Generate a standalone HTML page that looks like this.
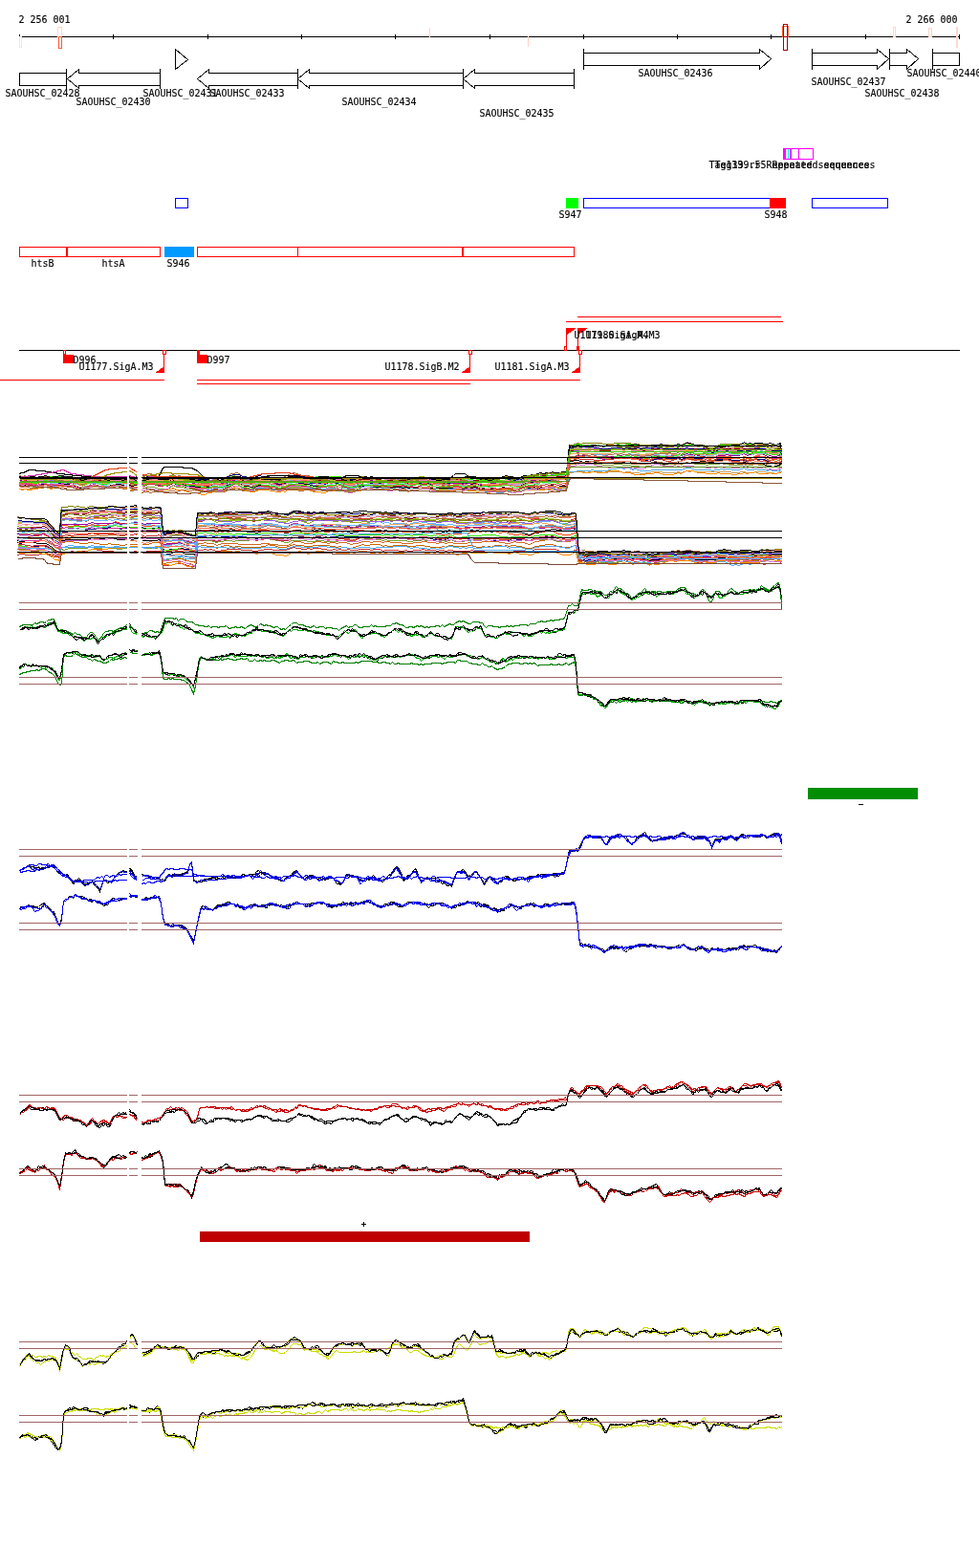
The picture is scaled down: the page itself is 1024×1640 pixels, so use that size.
<!DOCTYPE html>
<html><head><meta charset="utf-8"><style>
html,body{margin:0;padding:0;background:#fff;}
svg{display:block}
text{font-family:"DejaVu Sans Mono","Liberation Mono",monospace;font-size:11px;stroke:currentColor;stroke-width:.15px;}
</style></head><body>
<svg width="1024" height="1640" viewBox="0 0 1024 1640" shape-rendering="crispEdges">
<rect width="1024" height="1640" fill="#fff"/>
<rect x="20" y="38" width="984" height="1" fill="#000"/>
<rect x="20" y="36" width="1" height="5" fill="#000"/>
<rect x="118" y="36" width="1" height="5" fill="#000"/>
<rect x="217" y="36" width="1" height="5" fill="#000"/>
<rect x="315" y="36" width="1" height="5" fill="#000"/>
<rect x="413" y="36" width="1" height="5" fill="#000"/>
<rect x="512" y="36" width="1" height="5" fill="#000"/>
<rect x="610" y="36" width="1" height="5" fill="#000"/>
<rect x="708" y="36" width="1" height="5" fill="#000"/>
<rect x="806" y="36" width="1" height="5" fill="#000"/>
<rect x="905" y="36" width="1" height="5" fill="#000"/>
<rect x="1003" y="36" width="1" height="5" fill="#000"/>
<rect x="20.5" y="38.5" width="2" height="11" fill="none" stroke="#ffe0d8"/>
<rect x="60.5" y="28.5" width="4" height="10" fill="none" stroke="#ffd8c8"/>
<rect x="61.5" y="38.5" width="3" height="12" fill="none" stroke="#ff5a30"/>
<rect x="449" y="29" width="1" height="10" fill="#ffd4c4"/>
<rect x="552" y="38" width="1" height="11" fill="#ffd4c4"/>
<rect x="818.5" y="27.5" width="6" height="11" fill="none" stroke="#ff5a30"/>
<rect x="819.5" y="25.5" width="4" height="27" fill="none" stroke="#a8000c"/>
<rect x="819" y="38" width="5" height="1" fill="#a8000c"/>
<rect x="934.5" y="28.5" width="2" height="10" fill="none" stroke="#ffd4c8"/>
<rect x="971.5" y="29.5" width="3" height="9" fill="none" stroke="#ffd4c8"/>
<rect x="1000" y="28" width="2" height="22" fill="#ffd8cc"/>
<text x="19.5" y="24" textLength="54" lengthAdjust="spacingAndGlyphs" fill="#000">2 256 001</text>
<text x="947.5" y="24" textLength="54" lengthAdjust="spacingAndGlyphs" fill="#000">2 266 000</text>
<rect x="20" y="76" width="50" height="1" fill="#000"/>
<rect x="20" y="89" width="50" height="1" fill="#000"/>
<rect x="20" y="76" width="1" height="14" fill="#000"/>
<rect x="69" y="72" width="1" height="21" fill="#000"/>
<path d="M82.5,72.5 L70.5,82.5 L82.5,92.5" fill="none" stroke="#000"/>
<rect x="82" y="72" width="1" height="5" fill="#000"/>
<rect x="82" y="89" width="1" height="4" fill="#000"/>
<rect x="82" y="76" width="86" height="1" fill="#000"/>
<rect x="82" y="89" width="86" height="1" fill="#000"/>
<rect x="167" y="72" width="1" height="21" fill="#000"/>
<path d="M183.5,51.5 L196.5,62.5 L183.5,72.5 Z" fill="none" stroke="#000"/>
<rect x="183" y="51" width="1" height="22" fill="#000"/>
<path d="M218.5,72.5 L206.5,82.5 L218.5,92.5" fill="none" stroke="#000"/>
<rect x="218" y="72" width="1" height="5" fill="#000"/>
<rect x="218" y="89" width="1" height="4" fill="#000"/>
<rect x="218" y="76" width="94" height="1" fill="#000"/>
<rect x="218" y="89" width="94" height="1" fill="#000"/>
<rect x="311" y="72" width="1" height="21" fill="#000"/>
<path d="M323.5,72.5 L311.5,82.5 L323.5,92.5" fill="none" stroke="#000"/>
<rect x="323" y="72" width="1" height="5" fill="#000"/>
<rect x="323" y="89" width="1" height="4" fill="#000"/>
<rect x="323" y="76" width="162" height="1" fill="#000"/>
<rect x="323" y="89" width="162" height="1" fill="#000"/>
<rect x="484" y="72" width="1" height="21" fill="#000"/>
<path d="M496.5,72.5 L484.5,82.5 L496.5,92.5" fill="none" stroke="#000"/>
<rect x="496" y="72" width="1" height="5" fill="#000"/>
<rect x="496" y="89" width="1" height="4" fill="#000"/>
<rect x="496" y="76" width="105" height="1" fill="#000"/>
<rect x="496" y="89" width="105" height="1" fill="#000"/>
<rect x="600" y="72" width="1" height="21" fill="#000"/>
<path d="M794.5,51.5 L806.5,61.5 L794.5,72.5" fill="none" stroke="#000"/>
<rect x="794" y="51" width="1" height="5" fill="#000"/>
<rect x="794" y="68" width="1" height="5" fill="#000"/>
<rect x="610" y="55" width="185" height="1" fill="#000"/>
<rect x="610" y="68" width="185" height="1" fill="#000"/>
<rect x="610" y="51" width="1" height="22" fill="#000"/>
<path d="M917.5,51.5 L929.5,61.5 L917.5,72.5" fill="none" stroke="#000"/>
<rect x="917" y="51" width="1" height="5" fill="#000"/>
<rect x="917" y="68" width="1" height="5" fill="#000"/>
<rect x="849" y="55" width="69" height="1" fill="#000"/>
<rect x="849" y="68" width="69" height="1" fill="#000"/>
<rect x="849" y="51" width="1" height="22" fill="#000"/>
<path d="M948.5,51.5 L960.5,61.5 L948.5,72.5" fill="none" stroke="#000"/>
<rect x="948" y="51" width="1" height="5" fill="#000"/>
<rect x="948" y="68" width="1" height="5" fill="#000"/>
<rect x="930" y="55" width="19" height="1" fill="#000"/>
<rect x="930" y="68" width="19" height="1" fill="#000"/>
<rect x="930" y="51" width="1" height="22" fill="#000"/>
<rect x="975" y="51" width="1" height="22" fill="#000"/>
<rect x="975" y="55" width="29" height="1" fill="#000"/>
<rect x="975" y="68" width="29" height="1" fill="#000"/>
<rect x="1003" y="55" width="1" height="14" fill="#000"/>
<text x="5.5" y="101" textLength="78" lengthAdjust="spacingAndGlyphs" fill="#000">SAOUHSC_02428</text>
<text x="79.5" y="110" textLength="78" lengthAdjust="spacingAndGlyphs" fill="#000">SAOUHSC_02430</text>
<text x="149.5" y="101" textLength="78" lengthAdjust="spacingAndGlyphs" fill="#000">SAOUHSC_02431</text>
<text x="219.5" y="101" textLength="78" lengthAdjust="spacingAndGlyphs" fill="#000">SAOUHSC_02433</text>
<text x="357.5" y="110" textLength="78" lengthAdjust="spacingAndGlyphs" fill="#000">SAOUHSC_02434</text>
<text x="501.5" y="122" textLength="78" lengthAdjust="spacingAndGlyphs" fill="#000">SAOUHSC_02435</text>
<text x="667.5" y="80" textLength="78" lengthAdjust="spacingAndGlyphs" fill="#000">SAOUHSC_02436</text>
<text x="848.5" y="89" textLength="78" lengthAdjust="spacingAndGlyphs" fill="#000">SAOUHSC_02437</text>
<text x="904.5" y="101" textLength="78" lengthAdjust="spacingAndGlyphs" fill="#000">SAOUHSC_02438</text>
<text x="948.5" y="80" textLength="78" lengthAdjust="spacingAndGlyphs" fill="#000">SAOUHSC_02440</text>
<rect x="819.5" y="155.5" width="31" height="11" fill="none" stroke="#ff00ff"/>
<rect x="819" y="155" width="3" height="12" fill="#ff00ff"/>
<rect x="824" y="156" width="1" height="10" fill="#00e8f0"/>
<rect x="826" y="155" width="2" height="12" fill="#ff00ff"/>
<rect x="835" y="155" width="1" height="12" fill="#ff00ff"/>
<text x="741.5" y="176" textLength="168" lengthAdjust="spacingAndGlyphs" fill="#000">Tag139.r5 Repeated sequences</text>
<text x="747.5" y="176" textLength="168" lengthAdjust="spacingAndGlyphs" fill="#000">Teg139.r5 Repeated sequences</text>
<rect x="183.5" y="207.5" width="13" height="10" fill="none" stroke="#0000ff"/>
<rect x="592" y="207" width="13" height="11" fill="#00ff00"/>
<rect x="610.5" y="207.5" width="211" height="10" fill="none" stroke="#0000ff"/>
<rect x="805" y="207" width="17" height="11" fill="#ff0000"/>
<rect x="849.5" y="207.5" width="79" height="10" fill="none" stroke="#0000ff"/>
<text x="584.5" y="228" textLength="24" lengthAdjust="spacingAndGlyphs" fill="#000">S947</text>
<text x="799.5" y="228" textLength="24" lengthAdjust="spacingAndGlyphs" fill="#000">S948</text>
<rect x="20.5" y="258.5" width="49" height="10" fill="none" stroke="#ff0000"/>
<rect x="70.5" y="258.5" width="97" height="10" fill="none" stroke="#ff0000"/>
<rect x="206.5" y="258.5" width="105" height="10" fill="none" stroke="#ff0000"/>
<rect x="311.5" y="258.5" width="172" height="10" fill="none" stroke="#ff0000"/>
<rect x="484.5" y="258.5" width="116" height="10" fill="none" stroke="#ff0000"/>
<rect x="172" y="258" width="31" height="11" fill="#0099ff"/>
<text x="32.5" y="279" textLength="24" lengthAdjust="spacingAndGlyphs" fill="#000">htsB</text>
<text x="106.5" y="279" textLength="24" lengthAdjust="spacingAndGlyphs" fill="#000">htsA</text>
<text x="174.5" y="279" textLength="24" lengthAdjust="spacingAndGlyphs" fill="#000">S946</text>
<rect x="20" y="366" width="984" height="1" fill="#000"/>
<rect x="0" y="397" width="172" height="1" fill="#ff0000"/>
<rect x="206" y="397" width="401" height="1" fill="#ff0000"/>
<rect x="206" y="401" width="286" height="1" fill="#ff0000"/>
<rect x="604" y="331" width="213" height="1" fill="#ff0000"/>
<rect x="592" y="336" width="227" height="1" fill="#ff0000"/>
<rect x="66.5" y="366.5" width="2" height="4" fill="none" stroke="#ff0000"/>
<rect x="66" y="371" width="11" height="9" fill="#ff0000"/>
<rect x="206" y="366" width="3" height="5" fill="#ff0000"/>
<rect x="206" y="371" width="11" height="9" fill="#ff0000"/>
<rect x="170.5" y="366.5" width="3" height="4" fill="none" stroke="#ff0000"/>
<rect x="171" y="370" width="1" height="20" fill="#ff0000"/>
<path d="M162,390 L172,390 L172,383 Z" fill="#ff0000"/>
<rect x="490.5" y="366.5" width="3" height="4" fill="none" stroke="#ff0000"/>
<rect x="491" y="370" width="1" height="20" fill="#ff0000"/>
<path d="M482,390 L492,390 L492,383 Z" fill="#ff0000"/>
<rect x="605.5" y="366.5" width="3" height="4" fill="none" stroke="#ff0000"/>
<rect x="606" y="370" width="1" height="20" fill="#ff0000"/>
<path d="M597,390 L607,390 L607,383 Z" fill="#ff0000"/>
<rect x="592" y="343" width="1" height="24" fill="#ff0000"/>
<path d="M592,343 L603,343 L592,351 Z" fill="#ff0000"/>
<rect x="590.5" y="362.5" width="2" height="4" fill="none" stroke="#ff0000"/>
<rect x="604" y="343" width="1" height="24" fill="#ff0000"/>
<path d="M604,343 L615,343 L604,351 Z" fill="#ff0000"/>
<rect x="603" y="362" width="3" height="5" fill="#ff0000"/>
<text x="76.5" y="380" textLength="24" lengthAdjust="spacingAndGlyphs" fill="#000">D996</text>
<text x="82.5" y="387" textLength="78" lengthAdjust="spacingAndGlyphs" fill="#000">U1177.SigA.M3</text>
<text x="216.5" y="380" textLength="24" lengthAdjust="spacingAndGlyphs" fill="#000">D997</text>
<text x="402.5" y="387" textLength="78" lengthAdjust="spacingAndGlyphs" fill="#000">U1178.SigB.M2</text>
<text x="517.5" y="387" textLength="78" lengthAdjust="spacingAndGlyphs" fill="#000">U1181.SigA.M3</text>
<text x="600.5" y="354" textLength="78" lengthAdjust="spacingAndGlyphs" fill="#000">U1179.SigA.M4</text>
<text x="612.5" y="354" textLength="78" lengthAdjust="spacingAndGlyphs" fill="#000">U1180.SigA.M3</text>
<rect x="845" y="824" width="115" height="12" fill="#008e00"/>
<rect x="898" y="841" width="5" height="1" fill="#000"/>
<rect x="209" y="1288" width="345" height="11" fill="#be0000"/>
<rect x="378" y="1280" width="5" height="1" fill="#000"/>
<rect x="380" y="1278" width="1" height="5" fill="#000"/>
<g transform="translate(.5,.5)"><path d="M20,511H38L41,510H44L47,509L50,510H62L65,509L68,510L71,509H74L77,510H80L83,511H86L89,510H92L95,509H101L104,510H113L116,509H119L122,508H125L128,509H131L133,508M135,510L138,511L141,510H143M148,512H151L154,511H157L160,512H175L178,511H181L184,512H193L196,513H199L202,512L205,513H235L238,512L241,511L244,510H250L253,512L256,511L259,512L262,513L265,512L268,510H280L283,511H286L289,512L292,513L295,512H298L301,511L304,510H322L325,511L328,512H340L343,511L346,512L349,511H352L355,512H361L364,514L367,513H373L376,512H379L382,511L385,512H394L397,511L400,512L403,511L406,512H415L418,511H421L424,512L427,513L430,512H436L439,511H448L451,512H472L475,511H478L481,512H493L496,511L499,512L502,513H523L526,512H529L532,513H535L538,514H544L547,513L550,512H562L565,511H574L577,510L580,511H586L589,512H592L595,494H598L601,493H610L613,494L616,493H628L631,494H634L637,493H649L652,494L655,493H658L661,494H667L670,495H673L676,494H679L682,493H691L694,494H706L709,493L712,494L715,493L718,492L721,493L724,492L727,493H763L766,494H772L775,493H778L781,494H787L790,493H799L802,494H808L811,495L814,494L816,493L817,494" fill="none" stroke="#c8a060"/>
<path d="M20,497L23,498H29L32,499H38L41,498H62L65,497L68,498H74L77,499L80,500L83,501H95L98,500H101L104,501L107,502H113L116,501L119,502H122L125,501L128,502H133M135,499L138,500H143M148,499H151L154,498L157,497L160,498H172L175,499L178,498L181,497L184,498H196L199,499H205L208,500H220L223,499L226,500H235L238,499L241,498L244,497L247,498H250L253,499H259L262,500H265L268,499H274L277,500H280L283,501L286,500L289,501L292,502L295,501L298,500L301,499L304,498H325L328,499L331,498L334,499H340L343,498H355L358,499H364L367,500H370L373,499H385L388,498L391,499L394,500H397L400,499L403,500H412L415,499L418,500H421L424,501H427L430,500H439L442,499H448L451,500H481L484,501L487,500L490,501H493L496,500L499,501L502,502H526L529,501H532L535,502L538,503H541L544,501L547,500L550,499L553,500L556,499L559,498H568L571,497H574L577,496H580L583,497L586,496H592L595,465H601L604,464L607,465H625L628,466L631,467L634,466H637L640,465H643L646,464L649,465H652L655,464H658L661,465H664L667,464L670,465H676L679,466L682,465H688L691,466H697L700,465H703L706,466L709,465H736L739,467L742,468L745,469L748,467L751,466L754,465H766L769,464L772,465L775,464H787L790,463L793,464H799L802,465H808L811,466H814L816,465L817,473" fill="none" stroke="#33ee00"/>
<path d="M20,511L23,512L26,511L29,512H32L35,511H38L41,510H44L47,509L50,510L53,511L56,510H59L62,508H71L74,507L77,508H80L83,510L86,511L89,509H92L95,508L98,507L101,508L104,509L107,508L110,509L113,508H125L128,510H131L133,509M135,512H138L141,511L143,512M148,514H151L154,513L157,512H160L163,513H169L172,512H175L178,511L181,510L184,512H190L193,513L196,514L199,515H205L208,516L211,517H214L217,515H220L223,514H232L235,512H238L241,511L244,509L247,510H250L253,512L256,513H259L262,514H265L268,513L271,512H280L283,513H286L289,514H292L295,513L298,514L301,511L304,512L307,511L310,512H322L325,513L328,514H334L337,515H340L343,513H358L361,514H367L370,513H376L379,512L382,511L385,512H394L397,511L400,512L403,511H406L409,512H412L415,511H418L421,512L424,513L427,514L430,512L433,513L436,512L439,511H445L448,509L451,512H460L463,511H466L469,513H472L475,512L478,511L481,512L484,513L487,512L490,513H496L499,514L502,515H511L514,514H520L523,513L526,512L529,511L532,512H535L538,513H544L547,512L550,511H553L556,512L559,511L562,512H568L571,511H583L586,510H592L595,494L598,493H607L610,494H616L619,493H622L625,494H631L634,493L637,492H646L649,493L652,494H658L661,495L664,496H673L676,495H682L685,494H688L691,495L694,496H703L706,495L709,494L712,495L715,493L718,492H724L727,493L730,494H736L739,495H748L751,494L754,495H763L766,496H769L772,495H775L778,494L781,495L784,494H787L790,493L793,495H802L805,494L808,495H811L814,494H816L817,493" fill="none" stroke="#ff8c00"/>
<path d="M20,506H23L26,505L29,506H32L35,507H38L41,506H44L47,505L50,506H53L56,505L59,506L62,505H65L68,506L71,505H74L77,506H80L83,507H86L89,505L92,504L95,503H98L101,504H104L107,505L110,504H113L116,503L119,502H125L128,504H131L133,503M135,503L138,504L141,503H143M148,505H151L154,504L157,505H163L166,506H175L178,505H181L184,506H187L190,507H193L196,509H220L223,508H226L229,509L232,508L235,507L238,506L241,505H250L253,507H262L265,506L268,505L271,504L274,505H280L283,506H289L292,507L295,506H298L301,505L304,504H307L310,505H316L319,504H325L328,505H337L340,506L343,505H355L358,506L361,507L364,508H370L373,506L376,504H394L397,505H403L406,506L409,507L412,508H415L418,507H424L427,508H430L433,507L436,506L439,504L442,505L445,504L448,503L451,505H457L460,504H478L481,505H490L493,506L496,505L499,506H508L511,507H520L523,506H535L538,507H544L547,505L550,504H556L559,503H562L565,501L568,502L571,501H577L580,500L583,501H592L595,474H601L604,473L607,474L610,475H613L616,474L619,475H628L631,476L634,477H658L661,478H667L670,479H673L676,478L679,477L682,476H691L694,477H697L700,476H706L709,475L712,476L715,475H718L721,476H724L727,477L730,478L733,477H736L739,479L742,480L745,481L748,480L751,478L754,479H757L760,478H763L766,479H772L775,478L778,477L781,478H787L790,477H799L802,478H805L808,479H814L816,478L817,481" fill="none" stroke="#cc3399"/>
<path d="M20,499H23L26,498L29,499H38L41,498H44L47,499H74L77,500L80,501L83,502H86L89,501L92,500H95L98,499L101,500H104L107,501L110,502H125L128,503L131,502H133M135,500H143M148,503H151L154,502H175L178,500H181L184,501H193L196,502L199,503L202,502L205,503H208L211,504L214,503H217L220,502H238L241,501L244,500L247,501H250L253,503H256L259,502H265L268,501L271,500L274,501L277,500L280,501L283,502H289L292,503L295,502H298L301,501H304L307,500L310,501L313,500H319L322,501H325L328,502H337L340,501L343,500L346,501L349,500H355L358,501H370L373,500H409L412,501H424L427,502L430,501L433,502L436,501H442L445,500H448L451,501L454,500L457,501L460,500L463,501L466,500H472L475,501H481L484,502L487,501L490,502H496L499,503L502,504H511L514,503H517L520,504L523,503L526,502H532L535,503H538L541,502H544L547,501L550,500H553L556,499L559,498L562,499L565,498H568L571,497L574,498H583L586,497H592L595,469H610L613,468H628L631,469H634L637,468H652L655,467L658,468L661,469L664,468H667L670,469H679L682,468H691L694,469L697,468H706L709,467L712,468H724L727,469H733L736,468L739,469L742,470L745,471L748,470L751,468H763L766,469H775L778,468L781,469L784,468H787L790,467L793,468H799L802,470L805,469L808,470H811L814,469H816L817,476" fill="none" stroke="#c0b0e0"/>
<path d="M20,502L23,501H32L35,502H38L41,501H44L47,500L50,501L53,502H74L77,503H80L83,504H86L89,503H95L98,502L101,503L104,504H107L110,505H113L116,504H122L125,503L128,504H133M135,502H138L141,501H143M148,503H154L157,502L160,503L163,504H175L178,503H184L187,502H190L193,503H205L208,504H226L229,505L232,504H235L238,503L241,502H247L250,503L253,504L256,503H262L265,502L268,501L271,500H280L283,502H286L289,503H298L301,502H304L307,501L310,502H328L331,503H355L358,504H364L367,503H370L373,502H379L382,501L385,502H415L418,501L421,502H424L427,503H433L436,502L439,501H448L451,502L454,503H463L466,502L469,503H499L502,504H508L511,505L514,504H517L520,505L523,504H532L535,505H538L541,504H544L547,503L550,502H556L559,501L562,502L565,500H568L571,499H574L577,498H580L583,499H592L595,474H619L622,475H628L631,476L634,475H640L643,474H649L652,475H655L658,474L661,475H670L673,476H676L679,475H682L685,474H697L700,473L703,472H715L718,471L721,472L724,471L727,472H736L739,473H748L751,471H754L757,472H760L763,473H772L775,472L778,471L781,473L784,472H787L790,471L793,472L796,471L799,472L802,473H816L817,479" fill="none" stroke="#66b3ff"/>
<path d="M20,500L23,501L26,500L29,501H32L35,502H38L41,500L44,501L47,500H50L53,501L56,500L59,501L62,500H65L68,501H74L77,502L80,503L83,504L86,505L89,503L92,502L95,501L98,500L101,501L104,503H113L116,502L119,501H125L128,503H133M135,501L138,502H141L143,501M148,503L151,504L154,502H163L166,503H175L178,501L181,500L184,502H190L193,503L196,504H202L205,505L208,506L211,505L214,506L217,505H220L223,503L226,504L229,505H232L235,504L238,502L241,501L244,500H247L250,501L253,503L256,504H259L262,505L265,504L268,502L271,501L274,502H280L283,504L286,503L289,504L292,505L295,504H298L301,502L304,501H319L322,502L325,503L328,504H331L334,503H340L343,502L346,503H349L352,502L355,503L358,504L361,505L364,506H367L370,505L373,504H376L379,503H394L397,502L400,503H406L409,504H412L415,503H424L427,505L430,504H433L436,503L439,502H448L451,504H478L481,505L484,506L487,505H493L496,504L499,505L502,507L505,506H508L511,507L514,506H520L523,505H526L529,504L532,505L535,506L538,507L541,506H544L547,504L550,503H553L556,502H562L565,500H574L577,499H580L583,500H592L595,468L598,467H601L604,466L607,467H613L616,468L619,467H622L625,468H628L631,469H637L640,468H643L646,467L649,468H658L661,470H667L670,471L673,472L676,471H679L682,470L685,469H691L694,470L697,469H703L706,470L709,468L712,470L715,468L718,467L721,468H724L727,470H736L739,471L742,472L745,473L748,471L751,470H754L757,471H763L766,472H772L775,471L778,470L781,471H784L787,472L790,469L793,470H799L802,473L805,472L808,473H814L816,471L817,476" fill="none" stroke="#c0b0e0"/>
<path d="M20,507L23,508L26,507L29,508H32L35,509L38,508L41,506H47L50,507L53,508L56,507H62L65,506L68,508L71,507H74L77,509L80,510L83,511L86,512L89,510L92,509L95,508L98,506L101,508L104,509H107L110,510L113,509L116,508H122L125,507L128,509H131L133,508M135,508H138L141,507H143M148,510H151L154,509H160L163,510L166,511H175L178,509L181,507L184,509H190L193,510L196,511H205L208,513L211,512L214,513H217L220,512L223,510L226,511L229,512H232L235,511L238,510L241,508L244,506H247L250,507L253,510H259L262,512L265,511L268,509L271,508H274L277,509H280L283,511H286L289,512L292,514L295,512H298L301,510L304,509H319L322,510L325,511L328,512H331L334,511L337,512H340L343,510L346,511L349,510H352L355,511L358,512H361L364,513L367,512L370,513L373,511L376,510L379,509L382,508H385L388,509H394L397,508L400,509H418L421,510H436L439,509H448L451,511H454L457,512L460,511H472L475,510H478L481,511L484,512L487,511H493L496,510L499,511L502,512H520L523,511H529L532,512L535,513H544L547,512L550,510L553,511L556,510H559L562,511L565,509L568,510L571,509H574L577,508H580L583,510L586,509L589,510H592L595,486L598,485L601,484L604,483L607,484H610L613,485H616L619,484L622,485H628L631,486H640L643,485H649L652,486H658L661,487H667L670,488H673L676,487H679L682,486L685,485H691L694,486L697,485H703L706,486L709,484L712,486L715,484L718,483L721,484H724L727,485H736L739,486L742,485H751L754,484L757,485H760L763,486H775L778,485L781,487L784,486H787L790,484L793,486H799L802,488H811L814,487L816,486L817,487" fill="none" stroke="#7b9e33"/>
<path d="M20,505L23,506H26L29,507H32L35,508H38L41,506L44,507L47,506L50,507L53,508H62L65,507L68,508H74L77,509L80,510L83,511H86L89,509H92L95,508L98,507L101,508H104L107,509H110L113,508L116,507H122L125,508L128,509H131L133,508M135,508L138,509H143M148,507H151L154,506H175L178,505L181,504L184,506L187,505L190,506L193,507H196L199,508L202,509H205L208,510H220L223,509H226L229,510L232,509L235,508L238,507L241,505L244,504H247L250,505L253,507L256,508H259L262,509L265,508L268,507H271L274,508H280L283,509H286L289,510L292,511L295,510H298L301,507H304L307,506H313L316,507H319L322,508L325,509L328,510L331,509H340L343,508L346,509L349,508H352L355,509L358,510H361L364,511H370L373,509H379L382,508H385L388,509H394L397,508L400,509L403,508L406,509H409L412,508H424L427,509H436L439,508L442,509H445L448,508L451,509L454,510H457L460,509L463,510L466,509H472L475,508H478L481,509L484,510L487,509L490,510H493L496,509L499,510L502,511H505L508,512H523L526,511H532L535,512H538L541,511H544L547,510L550,509H556L559,508L562,509L565,508L568,509L571,508L574,509L577,508L580,509H592L595,480L598,479H601L604,478H607L610,477H613L616,478L619,477L622,478H625L628,479H634L637,478H646L649,479H658L661,480H664L667,479L670,480L673,481H676L679,480H682L685,479H691L694,480H706L709,479L712,480L715,479L718,478L721,479H724L727,480H733L736,479L739,481L742,480L745,481L748,480L751,479H754L757,480L760,479L763,480L766,481H772L775,480L778,479L781,481L784,480H787L790,479L793,480H799L802,481H808L811,482L814,481L816,480L817,481" fill="none" stroke="#d2691e"/>
<path d="M20,501H23L26,502H35L38,503H50L53,504H56L59,503H65L68,504H74L77,505H80L83,506H86L89,505H95L98,504L101,505H116L119,504H125L128,505H133M135,503H143M148,504H154L157,503L160,504H175L178,503L181,502L184,503H187L190,502L193,503H202L205,504H208L211,503H214L217,504H229L232,505H235L238,504L241,503H247L250,504H256L259,505H262L265,504L268,503L271,502L274,503H277L280,504H289L292,505L295,504H298L301,503H310L313,502H319L322,503H325L328,504H337L340,503L343,502L346,503L349,502H355L358,503H361L364,504H382L385,505H394L397,504H412L415,503H430L433,502H436L439,501L442,502H445L448,501L451,502H454L457,503L460,502L463,503H493L496,502L499,504H508L511,503L514,504H517L520,505H523L526,504H529L532,505L535,506H538L541,505H547L550,504H556L559,503H562L565,502L568,501H571L574,500H592L595,473L598,474H610L613,475L616,474H628L631,475L634,474H637L640,475L643,474H649L652,475H658L661,476H673L676,475H685L688,474H694L697,475L700,474L703,475H709L712,476L715,475L718,474L721,475H736L739,477H748L751,475H757L760,474L763,475H766L769,476L772,475H775L778,474L781,475H787L790,474L793,475H796L799,474L802,475L805,474L808,475H816L817,478" fill="none" stroke="#e9967a"/>
<path d="M20,508L23,509H29L32,510H38L41,508H44L47,507L50,508H59L62,507L65,506L68,507H74L77,508L80,509L83,510H86L89,509L92,508L95,505H101L104,506L107,507L110,508H113L116,507H125L128,508L131,509L133,508M135,505H138L141,504H143M148,506L151,507L154,505L157,506H160L163,507L166,508H169L172,507H175L178,505L181,504L184,507L187,506H190L193,507L196,508L199,509H202L205,510L208,511H217L220,512L223,510H232L235,509L238,508L241,506H247L250,507L253,510H256L259,511L262,512H265L268,510H280L283,512H292L295,511H298L301,509L304,508H307L310,507L313,508H319L322,509L325,510L328,511L331,510H334L337,511H340L343,509L346,510L349,509L352,508L355,509L358,510H361L364,511L367,510H370L373,509H379L382,508H385L388,509H391L394,510L397,509L400,510H412L415,509L418,510L421,509H424L427,511L430,510H433L436,509L439,508L442,509H448L451,510L454,511L457,510H466L469,511H472L475,510H481L484,512L487,511L490,512H493L496,511L499,512L502,513H505L508,514H517L520,515H526L529,513H532L535,515H538L541,514H544L547,513L550,511H553L556,510H559L562,511L565,509L568,510L571,509L574,510H577L580,511L583,512H586L589,513H592L595,493H601L604,492H616L619,491L622,492H634L637,491L640,490H643L646,489H649L652,490L655,489H658L661,491L664,490L667,491L670,492H679L682,491H712L715,490L718,489H721L724,490L727,491H742L745,492L748,491H751L754,490L757,491L760,490H763L766,491H772L775,490L778,489L781,491H787L790,490L793,491H799L802,492L805,491L808,492H814L816,491L817,492" fill="none" stroke="#55aaee"/>
<path d="M20,503H23L26,502L29,503H38L41,502H44L47,501L50,502L53,503H65L68,504H74L77,505H83L86,506L89,504L92,503L95,502L98,501L101,502L104,503L107,504H116L119,503H125L128,504L131,505L133,504M135,503L138,504L141,503L143,502M148,505H151L154,504L157,503H160L163,504L166,505H175L178,504L181,503L184,504L187,505H190L193,506L196,507H202L205,508L208,509H211L214,508L217,507H220L223,506H226L229,507L232,506L235,505L238,504L241,502H244L247,503H250L253,505H262L265,504L268,503H280L283,504H286L289,505L292,506L295,505H298L301,503H304L307,502L310,503H319L322,504H325L328,505H331L334,504L337,505H340L343,504L346,505L349,504H355L358,505L361,506H367L370,505L373,504H379L382,503L385,504L388,505H409L412,504H436L439,503L442,504H445L448,503L451,505H469L472,504L475,503H478L481,504L484,505H493L496,504L499,506L502,507L505,506H517L520,505H523L526,504H535L538,505H541L544,504L547,503L550,502L553,503H556L559,502H562L565,501L568,502L571,501H574L577,500H580L583,501H592L595,479H598L601,478L604,477L607,478H613L616,477H619L622,478H628L631,479L634,478H658L661,479H667L670,480H673L676,479L679,480L682,479L685,478H691L694,479L697,478H706L709,477L712,478L715,477L718,476L721,477H736L739,478H742L745,479L748,478H754L757,479H772L775,478H778L781,479H784L787,478L790,477L793,478H799L802,480L805,479L808,480H811L814,479H816L817,482" fill="none" stroke="#ff4500"/>
<path d="M20,506L23,507L26,506L29,507H32L35,508H38L41,506H44L47,505L50,506L53,507L56,506H59L62,505L65,504H68L71,503L74,504H80L83,505L86,506L89,505L92,504L95,503L98,502L101,503L104,504H113L116,503L119,502H122L125,501L128,503H133M135,504L138,505H143M148,506H151L154,505H157L160,506H163L166,507L169,506L172,505L175,506L178,504L181,502L184,504L187,503L190,504L193,506H199L202,507H205L208,509L211,508L214,507H220L223,506H226L229,507H232L235,506L238,505L241,504L244,502L247,503L250,504L253,507H265L268,505L271,504H280L283,506L286,505L289,506H295L298,505L301,504H307L310,505H319L322,504L325,505H337L340,506L343,505L346,506L349,505H355L358,506H361L364,507H367L370,506L373,505L376,504H385L388,505H391L394,506L397,505H403L406,506L409,505H412L415,504H424L427,505L430,506H436L439,505H448L451,506H457L460,505L463,506L466,504L469,505L472,504L475,505L478,504L481,505H490L493,506L496,505L499,506L502,507L505,506H511L514,505H520L523,504H529L532,505L535,507L538,508H544L547,506L550,504L553,505L556,504L559,503H562L565,502L568,503L571,502H580L583,503H592L595,479L598,478H601L604,477L607,478H622L625,479H628L631,480H637L640,479H643L646,478H655L658,477L661,479H667L670,481L673,482L676,481L679,482L682,481L685,480L688,479H706L709,478L712,480L715,479L718,478H724L727,479H736L739,481L742,482H745L748,481L751,480H763L766,481H778L781,482L784,481H787L790,480H799L802,482L805,483H814L816,482H817" fill="none" stroke="#000080"/>
<path d="M20,506L23,507H32L35,508H38L41,507H44L47,506L50,507L53,508L56,506L59,507L62,506H71L74,507L77,508L80,509L83,510L86,511L89,509H92L95,508L98,507H101L104,509H110L113,508L116,507H119L122,506H125L128,507H131L133,506M135,507L138,508L141,507L143,506M148,507H151L154,506H163L166,507H175L178,506L181,505L184,506H190L193,507H196L199,508H202L205,509H220L223,508H226L229,509H232L235,508L238,507L241,505L244,504L247,505L250,506L253,507L256,508H259L262,509H265L268,508L271,507H274L277,508H280L283,510L286,509L289,510L292,511L295,510L298,509L301,507L304,506H310L313,507H316L319,506H322L325,507L328,508H331L334,507L337,508H340L343,507L346,508L349,507L352,506L355,507L358,508H361L364,509H370L373,508H379L382,507H385L388,508L391,509H397L400,508H403L406,509L409,510L412,509H418L421,510L424,509L427,510L430,509L433,510H436L439,509H448L451,510H472L475,509H478L481,510L484,511L487,510H493L496,509L499,510L502,511H508L511,512L514,511H520L523,510L526,509L529,510H538L541,511L544,510L547,509H550L553,510H556L559,509L562,511L565,509H568L571,508H574L577,507L580,508L583,509L586,508H592L595,482H598L601,481H604L607,482L610,483L613,482H619L622,483H628L631,484H637L640,483H646L649,482L652,483L655,482H658L661,484H667L670,485H673L676,484H679L682,483H685L688,484H691L694,485H697L700,484L703,485H706L709,483L712,485L715,484H721L724,483H730L733,482H736L739,483H745L748,482L751,481H760L763,482L766,483H778L781,484H784L787,485L790,484H796L799,485L802,487H805L808,488L811,487L814,486L816,485L817,486" fill="none" stroke="#000000"/>
<path d="M20,501H26L29,502H32L35,503H38L41,502H44L47,501L50,502H53L56,501H62L65,500L68,501L71,500H74L77,501L80,502L83,503H89L92,502H95L98,500L101,501L104,502H107L110,503L113,502L116,501H125L128,502H133M135,501L138,502H141L143,501M148,503H151L154,502L157,501H163L166,502H169L172,501H175L178,500L181,499L184,500H193L196,501L199,502H205L208,503L211,502H220L223,501H226L229,502H232L235,501L238,500L241,499L244,498H247L250,499L253,500H256L259,501H265L268,500L271,499H280L283,501H286L289,502H298L301,500L304,499H307L310,500L313,499H319L322,500L325,501L328,502H331L334,501L337,502H340L343,501L346,502H352L355,503L358,504H370L373,502H388L391,501H397L400,502H409L412,503L415,501H424L427,503L430,502L433,503L436,502L439,501L442,500H448L451,501H466L469,502H478L481,503H499L502,504L505,503H523L526,502H529L532,503L535,504H541L544,503L547,502L550,500H553L556,499L559,498L562,499L565,497H568L571,496L574,497L577,496L580,497H586L589,498H592L595,471L598,472L601,471H610L613,470H616L619,469L622,470H628L631,471L634,470H637L640,469H646L649,470L652,471L655,470H658L661,471H670L673,472L676,471H679L682,470L685,469H691L694,470H706L709,469L712,471L715,469H718L721,470H724L727,471L730,472H736L739,474L742,475L745,476L748,474L751,473L754,472L757,473L760,472H766L769,471H775L778,470L781,471L784,470L787,471L790,469L793,470H799L802,471L805,472H808L811,473L814,472L816,471L817,477" fill="none" stroke="#9a5be2"/>
<path d="M20,502H23L26,501L29,503H38L41,501H47L50,502L53,503H65L68,504H71L74,503L77,504H80L83,505H86L89,503L92,502H95L98,501L101,502L104,503H110L113,504L116,502H125L128,504H133M135,504L138,505H141L143,504M148,506L151,507L154,505L157,504L160,505L163,506L166,507H175L178,506L181,504L184,505L187,504H190L193,505L196,504H199L202,505L205,506L208,507H214L217,508L220,507L223,506H229L232,505L235,504L238,503L241,502H244L247,503L250,504L253,506H256L259,507H262L265,506L268,504L271,503L274,505L277,504H280L283,506L286,505H292L295,503L298,504L301,502L304,501H307L310,503H316L319,502L322,503L325,504L328,505H331L334,504L337,505H340L343,504L346,505L349,504H352L355,505L358,506H361L364,507L367,506L370,505L373,503H376L379,502L382,501H385L388,502L391,503H400L403,502L406,503H412L415,502H418L421,504L424,505L427,506L430,505H433L436,504L439,503L442,502L445,501H448L451,502L454,503L457,504L460,503H463L466,504H469L472,505H481L484,506L487,504L490,505L493,504L496,502H499L502,504H511L514,505H517L520,506L523,505L526,504H535L538,505L541,504H544L547,502L550,501L553,502H559L562,503L565,502L568,501L571,500H574L577,499H580L583,500L586,499L589,500L592,501L595,478H598L601,477L604,476L607,477L610,476H613L616,477H622L625,478L628,479L631,480L634,479L637,478L640,477H646L649,476L652,477L655,476H658L661,478L664,477L667,478L670,479H673L676,478L679,477H688L691,478H700L703,477H706L709,475L712,476L715,475L718,474L721,475H724L727,477L730,476H733L736,477L739,478L742,479H745L748,478L751,476H757L760,475L763,476H772L775,475L778,474L781,476L784,475H787L790,473L793,474H796L799,475L802,477L805,476L808,477H811L814,476L816,475L817,480" fill="none" stroke="#990099"/>
<path d="M20,509H29L32,510H35L38,509L41,508H44L47,507L50,508H53L56,507L59,508H62L65,507H77L80,508L83,509H86L89,508H95L98,507L101,508H104L107,509H110L113,508H116L119,507H125L128,508L131,509H133M135,506H143M148,505H172L175,506L178,505H190L193,506H226L229,507H232L235,506H238L241,505L244,506L247,505L250,506L253,507H265L268,506L271,505H280L283,506H286L289,507L292,508H298L301,506H316L319,505H322L325,506L328,507H337L340,508L343,507L346,508H352L355,509H370L373,508L376,507H385L388,508H394L397,507L400,508L403,507L406,508L409,507H418L421,508H424L427,509H451L454,510L457,509H478L481,510H484L487,509L490,510L493,511L496,510L499,511L502,512H514L517,511H520L523,510H538L541,509H547L550,508H553L556,507L559,508H565L568,509L571,508H580L583,509H589L592,510L595,484H598L601,483H616L619,482H622L625,483H640L643,482H658L661,483H664L667,484H670L673,485L676,484L679,485L682,484H697L700,483H706L709,482H712L715,481L718,480H721L724,481H736L739,482H754L757,481H760L763,482L766,483H775L778,482L781,483L784,482L787,483L790,482H799L802,483H814L816,482L817,486" fill="none" stroke="#f08060"/>
<path d="M20,499L23,500L26,499L29,500L32,501L35,502L38,501L41,500H47L50,501H62L65,500L68,501H74L77,502L80,503L83,504L86,505L89,503L92,502L95,500L98,499L101,501L104,502L107,503H113L116,502H125L128,503H133M135,500L138,501L141,500L143,499M148,501H151L154,499H157L160,500H163L166,501H175L178,499L181,498L184,500H190L193,501H196L199,502H202L205,503L208,504H217L220,503L223,502L226,503H232L235,501L238,500L241,498L244,497L247,498L250,499L253,502H256L259,503H265L268,501L271,500H280L283,502H286L289,503L292,504L295,502H298L301,500L304,499H307L310,500H319L322,501L325,502L328,503H340L343,501L346,502L349,501H355L358,502L361,503H370L373,502L376,501H379L382,500L385,501H388L391,502H400L403,501L406,502H415L418,501H424L427,502H436L439,501H448L451,503H457L460,502H466L469,503L472,502L475,501H478L481,502L484,503H493L496,502L499,503L502,504H520L523,503L526,502H529L532,503L535,504L538,505L541,504H544L547,502L550,501L553,502L556,501H562L565,499H568L571,498H574L577,497H580L583,498L586,497L589,498H592L595,470H601L604,469L607,470H616L619,469L622,470H628L631,471L634,470H637L640,469H643L646,468L649,469H655L658,468L661,470H664L667,471H670L673,472L676,471H679L682,470L685,469L688,470H697L700,469L703,470H706L709,469L712,470L715,469L718,468L721,469H724L727,470L730,471L733,470H736L739,472H742L745,473L748,471L751,470L754,469L757,470L760,469L763,470L766,471H775L778,470L781,471H787L790,469L793,470H799L802,472H805L808,473H811L814,472L816,471L817,477" fill="none" stroke="#9acd32"/>
<path d="M20,499L23,501L26,500L29,501L32,502L35,503H38L41,502H47L50,503L53,504L56,502H65L68,503H74L77,504L80,505L83,506H86L89,504L92,505L95,504L98,502L101,503L104,504H113L116,503H125L128,504H133M135,501L138,502L141,501H143M148,502L151,503L154,502L157,501H163L166,503H169L172,502L175,503L178,501H181L184,502L187,501L190,502L193,504H205L208,505H220L223,504H226L229,506H232L235,505L238,503H250L253,505H262L265,504L268,502L271,501L274,502H277L280,501L283,503H286L289,504L292,505L295,504H298L301,502L304,501H322L325,502L328,504H334L337,505H340L343,503H355L358,504L361,505H370L373,503L376,502L379,503L382,502L385,503H388L391,504L394,503H403L406,504L409,503H415L418,504L421,503H424L427,505H433L436,504L439,503L442,504H448L451,505H454L457,506L460,505L463,506L466,505L469,506L472,507H478L481,508H490L493,509L496,508H499L502,509L505,508H511L514,507L517,506L520,507L523,506L526,505H532L535,506L538,507H544L547,504L550,503L553,504L556,503H559L562,504L565,502L568,503L571,502L574,503L577,502H580L583,503H592L595,477H601L604,475L607,476L610,475L613,476H616L619,475L622,476L625,477H631L634,476L637,475H640L643,474L646,475L649,474L652,475H655L658,474L661,476L664,475L667,476L670,477H673L676,476H679L682,475L685,474H697L700,473L703,474H706L709,473L712,475L715,473L718,472L721,473H724L727,475H730L733,474H736L739,475H745L748,474L751,472L754,471L757,472H763L766,473H772L775,472L778,471L781,473L784,472L787,473L790,471L793,472H799L802,474L805,472L808,473H811L814,472L816,471L817,478" fill="none" stroke="#a0704b"/>
<path d="M20,500L23,502L26,501L29,502H32L35,503L38,502L41,500H50L53,501L56,500H59L62,499L65,498L68,500H74L77,501L80,502L83,503L86,504L89,503L92,502L95,500L98,499L101,500L104,501H113L116,499H125L128,501H131L133,500M135,500L138,501L141,500L143,499M148,502H151L154,500H160L163,501L166,502H169L172,501H175L178,500L181,498L184,500L187,499L190,500L193,501H196L199,502H202L205,503L208,504H220L223,503L226,504L229,505L232,504L235,502L238,501L241,499L244,498L247,499L250,500L253,503H265L268,501L271,500H274L277,501H280L283,503L286,502L289,503L292,504L295,503L298,502L301,500H304L307,499L310,500H313L316,501H322L325,502L328,504H331L334,503L337,504H340L343,503L346,504L349,503L352,502H355L358,503H361L364,504H367L370,503L373,501H379L382,500L385,501H388L391,502H394L397,501L400,502H421L424,503L427,504L430,503H436L439,501H448L451,503H472L475,502L478,503H481L484,504H493L496,503H499L502,505L505,504H508L511,505L514,504H517L520,505L523,504L526,503L529,502H532L535,503L538,504L541,503L544,504L547,502L550,501L553,502L556,501L559,500L562,501L565,499H568L571,498H580L583,499H592L595,472L598,471L601,470H604L607,471H616L619,470L622,471H628L631,472L634,471H637L640,470H649L652,471L655,470H658L661,471L664,470H667L670,471H673L676,470L679,471L682,470L685,469L688,468L691,469L694,470L697,469H700L703,470H706L709,469L712,470L715,469L718,468H724L727,469H736L739,471L742,473H745L748,472L751,469L754,468H760L763,469H778L781,470H787L790,468L793,469H799L802,471L805,470L808,471H811L814,470L816,469L817,476" fill="none" stroke="#ffa0b0"/>
<path d="M20,504H26L29,503H38L41,502H50L53,503H56L59,504H62L65,503L68,504L71,503H80L83,504L86,503L89,502H92L95,501H98L101,502L104,503H116L119,502H125L128,503H131L133,502M135,502H141L143,501M148,501H154L157,500L160,501H166L169,502H175L178,501H181L184,502L187,501L190,502H193L196,503H205L208,504H211L214,503H220L223,502L226,503H235L238,502L241,501L244,500L247,501H250L253,502H259L262,503L265,502L268,501L271,500L274,501H280L283,502H289L292,503H298L301,502L304,501H307L310,502H331L334,501L337,502H340L343,501H355L358,502L361,503L364,504H388L391,503H394L397,502H400L403,501H406L409,502H421L424,503H433L436,502H460L463,503H469L472,502H478L481,503L484,504H487L490,503H499L502,504H520L523,505L526,504H529L532,505L535,506H541L544,505L547,503L550,502L553,501H562L565,500L568,501L571,500L574,501L577,500L580,501L583,502L586,501L589,500H592L595,470L598,469H601L604,468L607,469H625L628,470H643L646,469H649L652,470H658L661,471H682L685,470H691L694,471H706L709,470L712,471L715,470L718,469H727L730,470H736L739,472H742L745,473L748,472H751L754,471H772L775,470H787L790,469L793,470H799L802,471H808L811,472H816L817,476" fill="none" stroke="#e080c0"/>
<path d="M20,499H29L32,500H35L38,501L41,499H50L53,500L56,499H68L71,500H74L77,501H83L86,503L89,501H92L95,500H98L101,501L104,502H107L110,503H113L116,502L119,501H125L128,502H133M135,500H143M148,502L151,503L154,502H163L166,503H175L178,502L181,500L184,502L187,501H190L193,502H196L199,501H202L205,502L208,503H220L223,502L226,503H235L238,502L241,500H247L250,501L253,502L256,503H259L262,504L265,503L268,502L271,501H277L280,500L283,502L286,501H289L292,502L295,501H298L301,500H310L313,501L316,500H319L322,501L325,502L328,503L331,502H343L346,503L349,502H358L361,503L364,504L367,503H370L373,502L376,501H388L391,500L394,501H397L400,502H424L427,503H454L457,502H460L463,501H481L484,502L487,503H493L496,502H499L502,503L505,504H514L517,503L520,504H523L526,503H535L538,504H541L544,503L547,501L550,500L553,499H556L559,498L562,499L565,498L568,497H580L583,498H589L592,497L595,471H598L601,470H625L628,471H637L640,470H655L658,469L661,470L664,469L667,470H670L673,471L676,470H679L682,469H688L691,470H700L703,469H715L718,468L721,469H733L736,468L739,470L742,471L745,472L748,470L751,469L754,468L757,469H763L766,470L769,469H772L775,468L778,469H787L790,468H793L796,469H799L802,470H811L814,469L816,468L817,476" fill="none" stroke="#800000"/>
<path d="M20,501H23L26,500L29,501L32,502H38L41,500L44,501L47,500L50,501H56L59,502L62,501H65L68,503H74L77,504L80,505L83,506L86,507L89,504L92,503L95,502L98,500L101,501H104L107,502H110L113,501L116,500H125L128,502L131,503L133,502M135,502L138,503H143M148,503H151L154,502H160L163,503H169L172,502H175L178,501L181,500L184,502L187,501H190L193,502H202L205,503L208,504H217L220,503H232L235,502L238,501L241,499L244,498L247,499H250L253,501H256L259,502L262,503L265,502L268,500L271,499H277L280,498L283,500L286,499L289,500L292,501H298L301,500L304,499L307,500L310,501H325L328,502H331L334,501L337,502L340,501L343,500L346,501L349,500H355L358,501H361L364,502H367L370,501L373,500H385L388,501H391L394,502H403L406,503H409L412,502H415L418,501L421,500H424L427,501H430L433,500L436,499L439,498H442L445,499H448L451,500H463L466,499L469,500H472L475,499H481L484,500H493L496,499H499L502,500H520L523,499L526,498H529L532,499H535L538,500H544L547,498L550,497H556L559,496L562,497L565,495L568,496L571,494L574,495L577,494L580,495L583,496L586,495H589L592,496L595,470L598,469L601,468L604,467L607,468L610,467H613L616,468L619,467L622,468H625L628,469H640L643,468L646,467H649L652,468L655,467H658L661,468H667L670,469H673L676,468H679L682,467L685,466L688,467H691L694,468H697L700,467H703L706,468L709,467L712,468L715,466L718,465L721,466H727L730,467L733,466L736,467L739,468L742,469H745L748,468L751,466H757L760,465L763,466H766L769,467H775L778,466L781,467H787L790,466L793,467H799L802,468H808L811,469L814,468L816,467L817,474" fill="none" stroke="#8faf00"/>
<path d="M20,500L23,501H26L29,502H38L41,500L44,501L47,499L50,500L53,501H65L68,502H71L74,501L77,503L80,504L83,505H86L89,504L92,503L95,502L98,501L101,502L104,503H113L116,502L119,501H125L128,503L131,504H133M135,501L138,503H141L143,502M148,504L151,503L154,502H169L172,503H175L178,501L181,500L184,502H190L193,503H196L199,504L202,503H205L208,505L211,504H217L220,505L223,504L226,505L229,506H232L235,505L238,504L241,502L244,501H250L253,503H265L268,502L271,501L274,502H280L283,504H289L292,505L295,504H298L301,502L304,501H322L325,502L328,503H334L337,504L340,503L343,502L346,503L349,502L352,503L355,504H358L361,505L364,506H367L370,505L373,504L376,503L379,502H385L388,503H397L400,504H412L415,503H424L427,505L430,504L433,505L436,504H442L445,503H448L451,505L454,504H457L460,503H472L475,502H478L481,504H499L502,505L505,506H520L523,505L526,504H532L535,505H541L544,504L547,503L550,501L553,502L556,501H559L562,502L565,501H568L571,500L574,501L577,500H580L583,501L586,500L589,501L592,500L595,475L598,474H637L640,473L643,472H649L652,473L655,472H658L661,473H664L667,474L670,475H673L676,474H682L685,473L688,472L691,473H697L700,472H706L709,471L712,472L715,471H724L727,472H730L733,471L736,472L739,474L742,475H748L751,473H757L760,472L763,473L766,474H775L778,473L781,475L784,474H787L790,472L793,473L796,472H799L802,473H805L808,474H811L814,473L816,472L817,478" fill="none" stroke="#f4a460"/>
<path d="M20,507L23,508L26,506L29,507H32L35,508H38L41,507H44L47,506L50,507L53,508L56,507H65L68,508H77L80,510L83,511H86L89,509L92,508L95,507L98,506L101,507L104,508L107,509H113L116,507H125L128,509H131L133,508M135,505H138L141,504H143M148,508H151L154,506H160L163,507L166,508H169L172,507L175,508L178,506L181,504L184,506L187,507H190L193,509H196L199,510H202L205,511L208,512L211,513H220L223,511H226L229,512H232L235,510L238,509L241,507L244,506H247L250,507L253,509L256,510H259L262,511L265,510L268,509L271,508H280L283,510L286,509L289,510L292,511L295,510H298L301,508L304,507H310L313,508H322L325,509L328,510H331L334,509H340L343,507H349L352,506L355,507L358,508L361,509L364,510L367,509H370L373,507H400L403,508L406,509H409L412,508H424L427,509H436L439,507L442,506H448L451,507L454,508L457,509L460,508H463L466,507L469,508H478L481,509H493L496,508L499,509L502,511L505,510L508,511H511L514,510H517L520,511H523L526,510H532L535,511L538,512L541,511L544,510L547,509L550,508H556L559,507L562,509L565,507H568L571,506L574,507L577,506H580L583,507L586,506L589,507L592,506L595,481H598L601,480L604,479L607,480H619L622,481H631L634,480H640L643,479H646L649,478L652,479H655L658,478L661,479H664L667,480L670,482H679L682,480L685,479L688,480H691L694,481L697,482H700L703,481L706,480L709,479L712,481L715,480L718,479L721,480H724L727,481L730,480H733L736,479L739,481H742L745,482L748,480L751,479H754L757,480H760L763,481L766,482H772L775,481L778,480L781,482L784,481H787L790,480L793,481L796,482L799,481L802,483L805,482L808,484L811,485L814,484L816,483L817,486" fill="none" stroke="#c83232"/>
<path d="M20,506L23,507L26,506L29,508H38L41,506L44,505H47L50,506L53,507L56,506H65L68,507H74L77,509H80L83,511L86,512L89,510L92,509L95,508L98,506L101,508L104,509L107,510H110L113,509L116,508H119L122,507H125L128,509H131L133,508M135,509L138,510H143M148,512L151,513L154,511H160L163,512H169L172,511H175L178,508L181,507L184,508H187L190,507L193,508L196,509H202L205,510L208,511H214L217,512L220,513L223,512H226L229,513H232L235,512L238,511L241,509L244,508H250L253,511L256,512L259,511L262,512L265,511L268,509H274L277,510H280L283,512L286,511L289,512L292,513L295,512H298L301,509L304,508H313L316,509H319L322,510L325,511L328,512H331L334,511L337,512H340L343,510L346,512L349,511L352,510L355,511L358,512L361,513L364,515H367L370,514L373,513L376,512L379,511L382,510H385L388,511H391L394,512L397,511H400L403,512L406,513H409L412,512H415L418,511L421,512L424,511L427,513L430,512H436L439,511H448L451,513H454L457,514H460L463,513H469L472,512L475,511L478,510L481,511L484,512L487,511H493L496,510L499,511L502,513H508L511,514H520L523,513H529L532,514L535,515H538L541,514H544L547,513L550,511L553,512L556,511H559L562,512L565,510H568L571,509L574,510L577,509L580,510L583,512L586,511L589,512L592,511L595,487H601L604,485L607,486H610L613,485H619L622,486L625,487H628L631,488H634L637,489L640,488H649L652,489H655L658,488L661,490L664,489H667L670,490H673L676,488H679L682,486L685,485H688L691,486L694,487H703L706,488L709,487L712,488L715,487H724L727,488H736L739,489H742L745,488L748,489L751,488H754L757,489L760,488H763L766,489H772L775,488L778,487L781,489L784,488L787,489L790,488L793,489H796L799,488L802,491L805,490L808,491H811L814,490L816,489H817" fill="none" stroke="#da70d6"/>
<path d="M20,504L23,505L26,504L29,505H32L35,506L38,505L41,504H44L47,503L50,504L53,505H59L62,504H65L68,505L71,504H74L77,506H80L83,507H86L89,505H92L95,504L98,503L101,504L104,505L107,506L110,507L113,506L116,505L119,506L122,505H125L128,506L131,507L133,506M135,504H138L141,503H143M148,505L151,506L154,505H160L163,506H175L178,504L181,503L184,504H193L196,505L199,506H202L205,507L208,508H211L214,507H217L220,508L223,507L226,506L229,508H232L235,507L238,505L241,504L244,503H247L250,504L253,506H259L262,507L265,506L268,505L271,504H277L280,505L283,507H286L289,508H292L295,507L298,506L301,505H304L307,504L310,505L313,504H319L322,505L325,506L328,507L331,506H337L340,507L343,505L346,506L349,505L352,504L355,505L358,506L361,507L364,508H367L370,507H373L376,506H400L403,505L406,506H412L415,505H421L424,506L427,507L430,506H433L436,505L439,504L442,505L445,504H448L451,506H460L463,507H481L484,508L487,507H490L493,508L496,507L499,508L502,509H514L517,508H520L523,507L526,506H532L535,507H544L547,505L550,504L553,505H559L562,506L565,504L568,505L571,504H574L577,503H580L583,504L586,503H592L595,479L598,478H601L604,477L607,478H610L613,477L616,478L619,477H622L625,478H628L631,479H637L640,478L643,477H649L652,478L655,477H658L661,478H664L667,477L670,478H673L676,477H679L682,476L685,475H688L691,476H700L703,477H706L709,476L712,478L715,476L718,475L721,476H724L727,477H730L733,476H745L748,475L751,474H763L766,475H775L778,473L781,475L784,474L787,475L790,473L793,474H796L799,473L802,475L805,474L808,475H811L814,474L816,473L817,480" fill="none" stroke="#87ceeb"/>
<path d="M20,508L23,509L26,508L29,509L32,510H38L41,509L44,510L47,509H50L53,510L56,509H59L62,510L65,509L68,510L71,509H74L77,510L80,511H86L89,509L92,510L95,509L98,508H104L107,509H110L113,508H116L119,509L122,510L125,509L128,511H133M135,513H138L141,512H143M148,515L151,514H154L157,515L160,514H169L172,515L175,514L178,513H181L184,514L187,513L190,512H193L196,513H199L202,512H205L208,513H211L214,514H220L223,513L226,514H235L238,512L241,511H244L247,510L250,511L253,513L256,512L259,513H265L268,512L271,511H286L289,512H292L295,511L298,512H310L313,513H316L319,512H325L328,513L331,512H334L337,513H346L349,512L352,513H358L361,514H370L373,513L376,512H379L382,511L385,510H388L391,511H400L403,512H409L412,511H415L418,512H424L427,513L430,512L433,513L436,512L439,511L442,510H448L451,511L454,512L457,513H469L472,514L475,513L478,512H481L484,513L487,512H499L502,513H517L520,514H526L529,513L532,514L535,513H541L544,511L547,510L550,509H553L556,510H562L565,511H571L574,512L577,513L580,512L583,513H586L589,512H592L595,485H601L604,484H607L610,483L613,484L616,482H625L628,483L631,484H637L640,483H649L652,484H658L661,485H676L679,484L682,483L685,482L688,483H691L694,484H700L703,485H712L715,484L718,483L721,484H730L733,483H739L742,484H754L757,485L760,484L763,485H766L769,484L772,485H796L799,484L802,485L805,484H808L811,485L814,484H816L817,483" fill="none" stroke="#b06a3c"/>
<path d="M20,504L23,505L26,504L29,505H38L41,503H44L47,502L50,503L53,504L56,503L59,504L62,503H65L68,504H74L77,505H80L83,506L86,508L89,506L92,505L95,504L98,503L101,505L104,506H110L113,505L116,504H122L125,503L128,505H133M135,506H138L141,505H143M148,507H151L154,505H160L163,506H166L169,507H175L178,505L181,504L184,506H190L193,508L196,507H202L205,508H208L211,509H214L217,510L220,509L223,508H226L229,509H232L235,508H238L241,507L244,505L247,506L250,507L253,509H256L259,510L262,511L265,509L268,507L271,506L274,507H280L283,508H286L289,509L292,510L295,509H298L301,507L304,506H307L310,507H319L322,508H325L328,510L331,509L334,508H340L343,507H349L352,506H355L358,507L361,508L364,509H370L373,508L376,507H388L391,508H394L397,507L400,508L403,507H406L409,508L412,507L415,506H421L424,507L427,508L430,507H433L436,506H439L442,507H445L448,506L451,508H454L457,509L460,508L463,509L466,508L469,509L472,508L475,507H478L481,508L484,509L487,508L490,509L493,508L496,507L499,508L502,509L505,508H508L511,509L514,508H523L526,507H532L535,509L538,510L541,509H544L547,508L550,506L553,507H556L559,506L562,507L565,504H571L574,505L577,504H580L583,505L586,504L589,505H592L595,478L598,479L601,478H622L625,479L628,478L631,479H634L637,478H640L643,477L646,476L649,477H652L655,476H658L661,478L664,477L667,478H670L673,479L676,478L679,479L682,477H685L688,476L691,477H694L697,478L700,477H703L706,476L709,475L712,476L715,474L718,472L721,474L724,473L727,474H733L736,473L739,474H748L751,472H754L757,473L760,472L763,473L766,474H772L775,473L778,472L781,474H787L790,473H796L799,474L802,475L805,474L808,475H811L814,474L816,472L817,478" fill="none" stroke="#33ee00"/>
<path d="M20,497L23,498L26,497L29,499H32L35,500L38,501L41,499H44L47,498L50,499L53,500L56,499H62L65,498L68,499H74L77,501L80,502H83L86,504L89,501H92L95,500L98,499L101,501H104L107,502L110,503L113,502L116,501H119L122,500H125L128,501L131,502L133,501M135,499H143M148,497H151L154,495H157L160,496L163,497L166,499H169L172,498H175L178,497L181,496L184,498L187,497L190,498L193,499L196,500H202L205,501L208,502H214L217,503H220L223,501H226L229,502H232L235,500L238,498L241,495H244L247,494L250,495L253,498H256L259,499L262,500L265,499L268,498L271,497L274,498L277,499L280,498L283,500L286,499L289,500L292,501L295,499L298,498L301,496L304,495L307,494L310,495L313,496L316,497H322L325,498L328,501H331L334,500L337,501L340,502L343,500H346L349,499H352L355,500H358L361,501L364,502L367,503L370,502L373,500H385L388,501L391,500H394L397,499L400,500L403,499L406,500L409,501H412L415,500H418L421,501H424L427,503L430,502L433,503L436,502L439,501H445L448,502L451,504H454L457,503H460L463,502L466,501L469,502L472,501H475L478,500L481,502H487L490,503H499L502,504L505,503H508L511,502L514,501H517L520,502L523,500H529L532,501L535,503L538,504L541,503H544L547,501L550,500H553L556,498L559,496L562,497L565,495L568,496L571,495L574,494H580L583,496H592L595,465L598,466H610L613,465L616,466L619,465L622,466H634L637,465H646L649,466H652L655,465L658,466L661,467H667L670,468H673L676,467L679,466L682,465H688L691,466H694L697,467L700,466L703,467L706,466L709,464L712,466L715,464L718,462L721,463L724,464L727,465L730,466L733,465L736,466L739,469L742,470H745L748,469L751,467H757L760,466L763,468H775L778,466L781,467L784,466H787L790,464L793,465H799L802,467L805,466L808,468H811L814,467L816,466L817,473" fill="none" stroke="#b06a3c"/>
<path d="M20,504L23,505L26,504L29,505H32L35,506H38L41,504H44L47,503L50,504H53L56,503L59,504H62L65,503L68,504H74L77,505H80L83,507H86L89,505L92,504L95,503L98,501L101,502L104,503L107,504H113L116,503H125L128,505H131L133,504M135,506L138,507L141,506H143M148,505L151,506L154,505H163L166,506H175L178,504L181,503L184,505H187L190,504L193,505L196,506H202L205,507H220L223,505L226,506H232L235,505L238,504L241,502L244,501H247L250,502L253,505H259L262,506L265,505L268,504L271,503H277L280,504L283,506L286,505L289,507L292,508L295,506H298L301,503H304L307,502L310,503H313L316,502H319L322,503L325,504H328L331,505L334,504L337,505H340L343,504L346,505L349,504H355L358,505L361,506L364,507H367L370,506L373,505H376L379,504L382,503L385,504H388L391,505H394L397,504L400,505L403,504L406,505H415L418,504H421L424,505L427,506H433L436,505L439,504L442,505H445L448,504L451,506H454L457,507L460,506L463,507L466,506L469,507H472L475,506H481L484,507L487,506L490,507H493L496,506H499L502,508L505,507H523L526,506H529L532,507H535L538,508H544L547,507L550,505H556L559,504L562,505L565,503H580L583,504H586L589,505H592L595,479H598L601,478L604,477H607L610,478H613L616,477H622L625,478H628L631,479L634,478L637,479L640,478H658L661,480H667L670,481H673L676,480H679L682,479L685,478H691L694,479L697,478L700,477L703,478H706L709,477L712,478L715,477L718,476L721,477H724L727,478H736L739,479H745L748,478L751,477H763L766,478L769,479L772,478H775L778,477L781,478H787L790,476H793L796,477H799L802,478H814L816,477L817,480" fill="none" stroke="#ff6347"/>
<path d="M20,499H26L29,500H32L35,501H38L41,499H47L50,500H53L56,499H62L65,498H71L74,499H77L80,500H83L86,501L89,499H92L95,498L98,497L101,498L104,499H107L110,500L113,499H128L131,500L133,499M135,499H141L143,498M148,499H151L154,498H160L163,499L166,500H175L178,499L181,498L184,499H190L193,500H205L208,501H217L220,500L223,499L226,500H232L235,499L238,498L241,497L244,496H250L253,498H256L259,499H265L268,498L271,497L274,498H280L283,499H286L289,500L292,501L295,500L298,501L301,498H319L322,499H325L328,500H340L343,499L346,500L349,499H355L358,500H361L364,501H370L373,500H379L382,499H385L388,500H394L397,499H406L409,500H415L418,499L421,500H424L427,501L430,500L433,501H436L439,499H445L448,500H463L466,499L469,500H475L478,499L481,500H508L511,501L514,500H529L532,501H535L538,502L541,501H544L547,500L550,499L553,498H556L559,497H562L565,496H568L571,494L574,495L577,494H580L583,495L586,494H592L595,467L598,468L601,467L604,466L607,467H619L622,468H625L628,469H637L640,468H649L652,469L655,468H658L661,469L664,468H667L670,469L673,468H682L685,467L688,468H691L694,469H706L709,468L712,470L715,469L718,468L721,469H724L727,470L730,469H736L739,470L742,472L745,473L748,472L751,470H757L760,471L763,472H769L772,471H775L778,470L781,471H784L787,470L790,469H799L802,470H805L808,471H814L816,470L817,476" fill="none" stroke="#000080"/>
<path d="M20,500H23L26,499H29L32,500H38L41,499H56L59,500L62,499H71L74,500H77L80,501H86L89,500H92L95,499H98L101,500H133M135,500L138,501L141,500L143,499M148,502L151,501L154,500H163L166,501H169L172,500H178L181,499L184,500H190L193,501H202L205,502H217L220,503L223,502H226L229,503L232,502H235L238,501H241L244,500H250L253,501H256L259,502H262L265,501H268L271,500H280L283,502L286,501L289,502L292,503L295,501H298L301,499H319L322,500L325,501H328L331,502L334,501L337,502H343L346,501L349,500H361L364,501L367,500H370L373,499H376L379,498H382L385,499H403L406,500H421L424,501H436L439,500L442,499H448L451,500H454L457,501H469L472,500H499L502,501H520L523,500H532L535,501H538L541,500H544L547,499L550,498H556L559,497H562L565,496H568L571,495H574L577,494H580L583,495H586L589,494H592L595,465H598L601,464L604,463L607,464L610,463H628L631,464H640L643,463H658L661,464H667L670,465H706L709,464L712,465L715,464L718,463L721,464H724L727,465H736L739,467L742,468H745L748,467L751,465L754,464H778L781,465H787L790,464H796L799,465H808L811,466H814L816,465L817,473" fill="none" stroke="#808000"/>
<path d="M20,498L23,499H29L32,498H35L38,499L41,498H44L47,497L50,498L53,499L56,498H59L62,497H65L68,498H74L77,499H80L83,501L86,502L89,501L92,500H95L98,499L101,500H107L110,501L113,502L116,501H125L128,502L131,501H133M135,499L138,500L141,499H143M148,502H151L154,501L157,500L160,499L163,500L166,501H175L178,500H187L190,499L193,500H196L199,501H202L205,502H208L211,501L214,502L217,501L220,500H226L229,502L232,501L235,500L238,499H241L244,498H250L253,499H256L259,500L262,501L265,500L268,499L271,500H274L277,501H292L295,500H298L301,498H304L307,497L310,498L313,499H331L334,498H343L346,500L349,501L352,500H355L358,501L361,502L364,503L367,502L370,501L373,500H376L379,499L382,498L385,499L388,498L391,499L394,500L397,499L400,500H424L427,501L430,500H436L439,499H442L445,500L448,499L451,501H454L457,502H460L463,501H469L472,500L475,499H484L487,498H496L499,499L502,501L505,500L508,501L511,502H514L517,500H520L523,499L526,498L529,497L532,498H535L538,499H544L547,497H553L556,496H559L562,495L565,494L568,495L571,494L574,495L577,493L580,494L583,495L586,494H589L592,493L595,465L598,467L601,466L604,465L607,466H616L619,465H622L625,466H628L631,467L634,465L637,466H643L646,465L649,466H655L658,465H661L664,464L667,465L670,466H679L682,465H688L691,464L694,465H697L700,466H703L706,465L709,464L712,465L715,464L718,463H721L724,464L727,465H733L736,466L739,468L742,470H745L748,468L751,467H757L760,466H763L766,465H772L775,464L778,462L781,464L784,463L787,464L790,463H796L799,464H802L805,463L808,464L811,465L814,464L816,463L817,473" fill="none" stroke="#000000"/>
<path d="M20,495L22,494H24L26,493L28,492L30,491H36L38,492H46L48,493H52L54,494H58L60,495H66L68,496H74L76,497H84L86,498H94L96,499H133M135,498L137,499L139,500L141,502L143,503M148,500H156L158,499H164L166,497L168,493L170,489L172,488H190L192,489H200L202,490L204,491L206,492L208,494L210,496L212,498L214,499H817" fill="none" stroke="#000"/>
<path d="M20,499H22L24,498H28L30,497H36L38,496H42L44,495H48L50,494H54L56,493H58L60,492H62L64,491H66L68,492L70,493L72,494L74,495H78L80,496H86L88,497H94L96,498H133M135,497L137,498H139L141,499L143,500M148,497H154L156,498H172L174,499H817" fill="none" stroke="#cc33aa"/>
<path d="M20,500H56L58,499H94L96,498L98,497L100,496L102,495L104,494L106,493L108,492L110,491H112L114,490H122L124,489H133M135,488L137,490L139,491L141,492L143,494M148,496H152L154,497H160L162,498H212L214,499H260L262,498H264L266,497H268L270,496H272L274,495H286L288,494H302L304,495H306L308,496H312L314,497H318L320,498H326L328,499H817" fill="none" stroke="#e0401a"/>
<path d="M20,501H58L60,500H100L102,499H104L106,498H108L110,497L112,496H114L116,495H118L120,494H126L128,493H133M135,492L137,493L139,494L141,496L143,497M148,498H150L152,497H156L158,496H162L164,495H168L170,494H178L180,495H196L198,496H206L208,497L210,498L212,499L214,500H817" fill="none" stroke="#a09000"/>
<path d="M20,500H133M135,500H143M148,500H270L272,499H274L276,498H278L280,497H312L314,498L316,499L318,500H356L358,499L360,498L362,497H374L376,498L378,499L380,500H470L472,498L474,497L476,495H486L488,497L490,498L492,500H546L548,499L550,498L552,497H556L558,496H568L570,495H578L580,494H586L588,493H592L594,475L596,466H817" fill="none" stroke="#000"/>
<path d="M20,503H133M135,503H143M148,503H540L542,502L544,500L546,499L548,498H550L552,497H556L558,496H570L572,495H584L586,494H592L594,478L596,470H817" fill="none" stroke="#7fa000"/>
<path d="M20,504H133M135,504H143M148,504H546L548,502H550L552,500H554L556,499H558L560,498H570L572,497H582L584,496H592L594,480L596,472H817" fill="none" stroke="#33cc00"/>
<path d="M20,503H133M135,503H143M148,503H348L350,505L352,508L354,513H356L358,508L360,505L362,503H372L374,507L376,511L378,507L380,503H592L594,493L596,488H817" fill="none" stroke="#6b8e23"/>
<path d="M20,508H36L38,509H56L58,510H62L64,511H68L70,512H86L88,511H108L110,510H124L126,509H133M135,510H137L139,511L141,512H143M148,510H152L154,511H156L158,512H160L162,513H164L166,514H172L174,515H184L186,516H198L200,515H208L210,514H216L218,513H222L224,512H254L256,511H334L336,512H416L418,513H448L450,514H482L484,515H508L510,516H530L532,517H546L548,516H558L560,515H572L574,514H584L586,513H592L594,504L596,500H620L622,501H672L674,502H718L720,503H758L760,504H796L798,505H817" fill="none" stroke="#8b5a3c"/>
<path d="M18,580L21,579H24L27,580H39L42,579H48L51,580L54,581L57,582H60L62,583L63,578H66L69,577H72L75,576L78,577H84L87,576H90L93,575L96,574H99L102,575H105L108,576H117L120,577H132L133,578M135,577H138L141,576L143,577M148,577H151L154,576H166L168,577L169,584L170,591H178L181,590L184,589H190L193,590L196,591L199,592H204L205,581L206,575H211L214,574L217,575L220,574L223,575L226,576H229L232,575H235L238,574H250L253,575H262L265,576H268L271,575H274L277,574H283L286,575H298L301,574L304,573L307,572L310,573H313L316,574H319L322,573L325,574L328,573H334L337,574H340L343,575H346L349,574L352,575L355,574L358,575H361L364,574L367,575H373L376,574H385L388,575L391,574H397L400,576L403,575H415L418,576H421L424,575L427,576H430L433,575H439L442,574L445,575H454L457,576L460,575H463L466,576L469,575H472L475,576H490L493,575L496,576H505L508,577H529L532,578L535,577L538,576H556L559,574H580L583,575L586,576L589,577H595L598,576L601,575H602L604,582L605,586H610L613,588L616,587H622L625,586H628L631,587H634L637,588L640,587L643,586L646,585H649L652,584L655,586L658,585L661,586L664,587H667L670,588L673,587L676,588L679,589H682L685,588H688L691,587L694,586H697L700,585H703L706,586L709,584L712,585L715,584H718L721,585L724,586L727,588H733L736,587H739L742,588H745L748,587L751,586H760L763,587H766L769,588L772,589H775L778,588H781L784,589H796L799,590L802,589H814L817,588" fill="none" stroke="#c83232"/>
<path d="M18,567L21,568L24,569L27,570H30L33,571H39L42,570L45,571H48L51,573L54,575L57,578L60,579L62,581L63,564L64,556H69L72,555H87L90,554L93,553H99L102,552H111L114,551L117,552H123L126,553L129,552H133M135,551L138,552L141,551H143M148,551L151,552H163L166,551L168,553L169,564L170,574L172,575H175L178,574H187L190,573L193,574H196L199,575H204L205,566L206,561H214L217,560H220L223,561L226,562H229L232,561H244L247,560L250,561H256L259,562H265L268,563L271,562H280L283,563H289L292,564L295,565L298,564H301L304,563L307,562H310L313,561H316L319,562H325L328,561H334L337,562L340,561L343,562L346,561H352L355,560H358L361,561H385L388,562H391L394,561H397L400,562L403,561H406L409,562L412,561H415L418,562H445L448,563H451L454,564H466L469,562H472L475,563H490L493,562L496,563H508L511,564L514,565H532L535,563H538L541,564H547L550,565H556L559,563L562,562H568L571,561H577L580,562L583,563L586,564H592L595,565L598,564L601,563H602L604,578L605,585H610L613,586L616,585L619,586H622L625,584H628L631,585L634,584L637,585L640,584H643L646,585L649,584H652L655,585L658,584L661,585H664L667,584H676L679,585L682,584L685,585L688,584H691L694,583L697,584L700,583H703L706,585L709,584H718L721,583L724,584H727L730,585H733L736,584H745L748,583L751,582H760L763,583L766,584H772L775,583H790L793,584L796,583H799L802,582L805,583H811L814,582H817" fill="none" stroke="#000080"/>
<path d="M18,550L21,551H24L27,552L30,551H36L39,552L42,551L45,552L48,553L51,555L54,558L57,562H60L62,564L63,548L64,543H66L69,542H75L78,541H87L90,542L93,540H96L99,541H105L108,540L111,539L114,538H120L123,539H129L132,540L133,539M135,539L138,540L141,539H143M148,541L151,542L154,541L157,542L160,541H166L168,542L169,554L170,565H178L181,564H184L187,563L190,564L193,566H196L199,567L202,568H204L205,554L206,544L208,545H211L214,543H217L220,542L223,543L226,544L229,542L232,541H241L244,542H250L253,544L256,543L259,544H262L265,545L268,544H271L274,543H283L286,544H289L292,545H295L298,546L301,544L304,543L307,542H310L313,543H319L322,544H325L328,543H331L334,542H337L340,543L343,544L346,543H352L355,542L358,543H364L367,544L370,543L373,542H388L391,543H394L397,542L400,544L403,543H406L409,544H412L415,543L418,544L421,545L424,544L427,545H430L433,543H439L442,542L445,543L448,544L451,543L454,544L457,545H460L463,544H466L469,542L472,543L475,544L478,545L481,544L484,543L487,544L490,543L493,542L496,543L499,544L502,545L505,544H511L514,545L517,543H520L523,544H529L532,546L535,544H553L556,543L559,542H577L580,543H583L586,544H595L598,543L601,542L602,543L604,568L605,580L607,579H610L613,581L616,580L619,581H622L625,579L628,580L631,581L634,580H643L646,579L649,577H652L655,578H658L661,579H664L667,578L670,579H676L679,581L682,580H685L688,579H697L700,578L703,577L706,579L709,578H712L715,577L718,576L721,577L724,578L727,579H730L733,580H748L751,578H754L757,577H760L763,578L766,579H772L775,578L778,579L781,578L784,579H799L802,578L805,579L808,578L811,579H814L817,578" fill="none" stroke="#c83232"/>
<path d="M18,550L21,551H30L33,552H39L42,551L45,552L48,553L51,555L54,558L57,562L60,563L62,566L63,548L64,543L66,544L69,542L72,544H75L78,543L81,542H84L87,541L90,542L93,540H102L105,541L108,542L111,543L114,540H117L120,541L123,542H129L132,541H133M135,541H138L141,540H143M148,540H151L154,539H157L160,540L163,539H166L168,541L169,551L170,562H172L175,561H178L181,560H184L187,559H190L193,561L196,562H202L204,563L205,551L206,543H220L223,544L226,546L229,545L232,544H244L247,543H250L253,544H271L274,543H277L280,544H286L289,545H295L298,546L301,544L304,543H310L313,544L316,545L319,546L322,547L325,546L328,544H331L334,543H340L343,544H346L349,545H352L355,544H358L361,545H364L367,546H376L379,545H382L385,546L388,545H391L394,543H397L400,544L403,542H412L415,541L418,542H421L424,543H427L430,544H433L436,543H442L445,544H454L457,545H460L463,544L466,545L469,543L472,544L475,545L478,546H502L505,545H508L511,544H520L523,545L526,546H529L532,547L535,545H538L541,546H547L550,547H556L559,545H562L565,543L568,542H571L574,543H577L580,544L583,545L586,547L589,548L592,547L595,546L598,545L601,543H602L604,566L605,578L607,577L610,578L613,579L616,578L619,580H622L625,578L628,579L631,580H634L637,581L640,580L643,579H646L649,577H652L655,578H658L661,579L664,578L667,579L670,580H676L679,581L682,580L685,581L688,580H691L694,579L697,580H700L703,579H712L715,578L718,577L721,578L724,579L727,580L730,579L733,580L736,579H739L742,578H745L748,579L751,577H754L757,578H760L763,580H766L769,579L772,580L775,579L778,580H781L784,579L787,580H793L796,579H817" fill="none" stroke="#8faf00"/>
<path d="M18,571H21L24,572H39L42,571H45L48,572L51,573L54,575L57,577H60L62,578L63,567L64,563L66,564L69,563H72L75,564H87L90,565L93,563L96,562L99,563H102L105,564H111L114,563L117,562L120,563H126L129,564H133M135,565H141L143,566M148,567L151,568L154,567L157,566L160,567H163L166,566L168,567L169,574L170,580H175L178,581L181,580L184,579H187L190,580L193,582H196L199,583H202L204,584L205,570L206,560H211L214,559L217,560L220,559L223,560L226,561L229,560H238L241,561L244,562L247,561L250,562H256L259,563L262,562H271L274,560H280L283,561L286,562H289L292,563H295L298,564L301,563L304,561L307,560H316L319,561H322L325,562L328,561L331,560H337L340,562H358L361,563H364L367,564H370L373,563L376,562H382L385,563H388L391,562L394,561H397L400,562L403,561H406L409,562H412L415,561L418,562L421,563L424,562H427L430,563H433L436,562H439L442,561L445,562L448,563L451,562H454L457,563L460,562L463,563H466L469,562L472,561L475,563H478L481,564L484,563H487L490,562H493L496,563H502L505,562L508,563H529L532,564L535,562H541L544,563H547L550,564L553,565L556,564L559,563H562L565,562H580L583,563L586,564H592L595,565L598,564L601,563L602,564L604,579L605,586L607,585L610,586L613,587L616,586H619L622,587L625,584L628,585L631,586H637L640,585L643,584H646L649,583H658L661,584H670L673,585H676L679,587H685L688,586L691,585H694L697,584L700,583H703L706,584H712L715,583H721L724,584L727,586L730,585L733,586L736,585H745L748,584L751,582H760L763,583L766,584H769L772,585L775,584H778L781,585H793L796,584H799L802,583L805,584L808,583H814L817,582" fill="none" stroke="#f08060"/>
<path d="M18,557H27L30,556L33,557H45L48,559L51,561L54,564L57,567L60,568L62,570L63,554L64,548L66,549L69,548H75L78,547L81,548H87L90,549H99L102,548L105,549H108L111,550L114,549H117L120,548H129L132,547H133M135,547L138,546L141,545L143,546M148,547L151,548H157L160,550H166L168,551L169,561L170,570H178L181,568H190L193,569H196L199,570H202L204,571L205,557L206,547H214L217,548L220,547L223,548H232L235,547H241L244,548H250L253,549L256,548L259,549H262L265,548L268,549L271,548L274,547H283L286,548H289L292,549L295,550H301L304,548L307,547H310L313,548H316L319,549H325L328,548H337L340,549H343L346,548H355L358,549H373L376,548H379L382,547H391L394,545H397L400,547L403,546H406L409,548L412,547H421L424,548H427L430,547L433,546H436L439,545L442,546H445L448,547H454L457,548H460L463,549H466L469,548H472L475,549H484L487,548L490,547L493,546L496,547H502L505,546L508,547L511,546H514L517,547H523L526,548H532L535,547L538,546L541,547L544,546L547,547H550L553,548L556,547L559,545L562,546L565,545H574L577,544L580,545L583,546L586,547H589L592,548H598L601,547L602,548L604,571L605,583L607,582H610L613,583L616,582H619L622,583L625,580L628,581L631,582H634L637,583L640,582H646L649,581H652L655,582H658L661,583H664L667,582L670,583H673L676,584H685L688,583H691L694,582H703L706,583L709,582H712L715,581H721L724,582L727,583H736L739,582L742,583H745L748,582L751,580L754,581H760L763,583L766,584L769,583H772L775,582H793L796,581H799L802,580L805,581L808,580H817" fill="none" stroke="#66b3ff"/>
<path d="M18,573H21L24,574L27,575H30L33,576L36,577L39,578L42,577H45L48,578L51,579H54L57,581H60L62,582L63,572L64,567H66L69,566H75L78,567H81L84,568H90L93,567H96L99,568H102L105,569H111L114,568L117,569H123L126,570H129L132,569H133M135,569H143M148,569H154L157,568L160,567H166L168,568L169,578L170,589H172L175,588H178L181,587H190L193,588L196,589H199L202,591H204L205,579L206,571H208L211,570H214L217,571H223L226,573L229,572L232,571L235,570H238L241,571L244,572L247,571H250L253,572H271L274,571H277L280,569L283,570H286L289,571L292,572H298L301,571L304,570L307,569L310,570H316L319,571H325L328,570H343L346,571H349L352,572L355,571L358,572H361L364,573H367L370,572L373,571L376,570L379,569L382,570H385L388,569H397L400,571L403,570L406,571H409L412,570H424L427,571H433L436,570H442L445,571H448L451,572H460L463,571L466,572L469,570H472L475,571H487L490,570H493L496,571L499,572H502L505,571L508,572L511,571L514,572L517,570H523L526,571L529,570L532,571L535,570H538L541,571H544L547,572L550,573H556L559,571H562L565,570H568L571,569H577L580,570L583,571H586L589,572H595L598,571L601,570H602L604,582L605,588L607,587L610,588L613,590L616,589H619L622,590L625,588H634L637,589H640L643,588H646L649,586H652L655,587H658L661,589H664L667,587L670,588H673L676,589L679,590L682,589H685L688,588L691,587H697L700,586L703,585H715L718,584H721L724,585L727,587H739L742,588H745L748,587L751,585H757L760,586L763,587L766,586H769L772,587H781L784,588H787L790,587L793,588L796,587H799L802,586L805,587H808L811,586L814,585L817,586" fill="none" stroke="#cc6600"/>
<path d="M18,546H33L36,545H45L48,546L51,548L54,551L57,554L60,555L62,557L63,539L64,535H78L81,534H90L93,533H99L102,532H105L108,533L111,534L114,533H126L129,534H133M135,534H138L141,533H143M148,534L151,536L154,535H160L163,534H168L169,548L170,561L172,562L175,561H178L181,560H184L187,559L190,560L193,562L196,563L199,564H204L205,551L206,543L208,542H211L214,540H223L226,541L229,540L232,541H235L238,542L241,543L244,544H262L265,543L268,544L271,543H277L280,542L283,543L286,544H289L292,545H298L301,544L304,543L307,542H313L316,544H331L334,543L337,542L340,543L343,542H352L355,543H364L367,544H376L379,543H391L394,542H397L400,543L403,542H406L409,543L412,542L415,541L418,542H424L427,543H430L433,542H436L439,543H457L460,542H463L466,543L469,542H472L475,543H484L487,544H490L493,543H502L505,542L508,543H517L520,542H523L526,543H529L532,544L535,543H538L541,542H544L547,543L550,544H556L559,543H562L565,542H568L571,541L574,542H577L580,543H586L589,544H602L604,569L605,582L607,580H610L613,581H619L622,580L625,578L628,579L631,580L634,579L637,580H640L643,579H646L649,578L652,579L655,580L658,579L661,580H664L667,579L670,580H679L682,579H688L691,578H703L706,579H709L712,580L715,578L718,577H739L742,576L745,577H748L751,576L754,577L757,576L760,577L763,578H775L778,579L781,578L784,579H787L790,578H799L802,577L805,578L808,577H811L814,576H817" fill="none" stroke="#9acd32"/>
<path d="M18,565L21,566H24L27,567H36L39,568H48L51,570L54,572L57,575L60,576L62,577L63,568L64,565H66L69,564H90L93,563L96,562H102L105,563H108L111,564L114,563H120L123,564H129L132,563H133M135,563L138,564L141,563H143M148,565H163L166,564L168,565L169,573L170,580H172L175,579H178L181,577H190L193,579H202L204,580L205,565L206,554H223L226,555L229,554H238L241,553L244,554H247L250,555H256L259,556H265L268,557L271,556L274,555L277,554H280L283,555H289L292,556H295L298,557H301L304,555L307,554H313L316,555H325L328,553L331,554L334,553L337,554H349L352,555H361L364,556L367,557L370,556H373L376,555H391L394,554H397L400,555L403,554L406,555L409,556L412,555L415,554L418,555H427L430,556H433L436,555L439,556H445L448,557L451,556L454,557L457,558L460,557L463,556L466,557L469,554L472,555L475,556H481L484,555H490L493,554L496,555L499,554L502,555L505,554L508,555H511L514,556L517,555H529L532,556H544L547,557L550,558L553,559L556,558L559,556L562,557L565,556L568,555L571,554H574L577,553H580L583,554H586L589,555L592,554H598L601,553L602,554L604,573L605,582H607L610,583L613,585L616,584L619,585L622,584L625,583H628L631,584H634L637,585L640,584H646L649,583H658L661,584L664,585L667,584L670,583H673L676,584L679,586L682,585L685,586L688,585L691,584L694,583H703L706,584L709,583H712L715,582H718L721,583H724L727,585H748L751,583H757L760,584L763,585H775L778,584H781L784,585H787L790,584H793L796,583H799L802,582H817" fill="none" stroke="#000000"/>
<path d="M18,574H24L27,575H39L42,574H45L48,573L51,574L54,575L57,577H62L63,573L64,574L66,575L69,574L72,573H90L93,572H96L99,573H105L108,574H111L114,573H120L123,574H126L129,573H133M135,572H143M148,572L151,573H157L160,572L163,573L166,572L168,573L169,579L170,585L172,586L175,585L178,584H184L187,583L190,584L193,585L196,586L199,587H202L204,588L205,575L206,565H220L223,566L226,567L229,566H232L235,565H241L244,566L247,565H259L262,564H274L277,563H280L283,564H286L289,565H292L295,566L298,567H301L304,565H319L322,566H328L331,565H337L340,566H352L355,565H361L364,566H367L370,565L373,566L376,565L379,564L382,563H385L388,564H397L400,565L403,564L406,565H424L427,566H430L433,565H439L442,564L445,565H454L457,566H460L463,565L466,566L469,565L472,564L475,566H484L487,565H490L493,564H502L505,563H511L514,562H526L529,563H532L535,562H538L541,563H547L550,565H556L559,564H577L580,565L583,566H595L598,565L601,564L602,565L604,580L605,588H610L613,589L616,588H622L625,587L628,588H631L634,587H637L640,588H643L646,587H649L652,586L655,587H658L661,588H664L667,587L670,588H676L679,589H685L688,588L691,587H697L700,586H712L715,585L718,584L721,585L724,586L727,587L730,586H739L742,587H745L748,586L751,584H760L763,585H784L787,586H790L793,585L796,584L799,585H802L805,584H817" fill="none" stroke="#7b9e33"/>
<path d="M18,574L21,575H30L33,576H39L42,575H48L51,576L54,578L57,580L60,579L62,580L63,567L64,561L66,562L69,561L72,560L75,561H90L93,560H99L102,559L105,560H111L114,559H120L123,560H129L132,559H133M135,559H138L141,558L143,559M148,561L151,562H166L168,563L169,575L170,586H178L181,585L184,584H190L193,586H196L199,587H202L204,588L205,577L206,569L208,568H211L214,567L217,568H223L226,570L229,569L232,568H247L250,569H271L274,568H280L283,569H289L292,570H301L304,568L307,566H313L316,567L319,568H325L328,567L331,566H334L337,567H340L343,568L346,567H349L352,568L355,567H361L364,568L367,569L370,568H373L376,567L379,566H385L388,567L391,566H397L400,567L403,566H406L409,567H418L421,568H430L433,567H439L442,566H445L448,567H454L457,568L460,567H463L466,568L469,567H472L475,568H487L490,567H502L505,566H520L523,567H526L529,568H532L535,567L538,566L541,567H547L550,568L553,569L556,568L559,566H562L565,565H568L571,564H574L577,563L580,564L583,565H586L589,566H595L598,565L601,564L602,565L604,577L605,583L607,582L610,583L613,585L616,584H619L622,585L625,583L628,584H634L637,585L640,584L643,583H646L649,582H652L655,584L658,583L661,585H664L667,584L670,585H673L676,586L679,588L682,587H688L691,585H697L700,584H703L706,585L709,584H712L715,583H721L724,584L727,586L730,587H748L751,584L754,585L757,584L760,585L763,586H766L769,585L772,586L775,585H781L784,586H787L790,585L793,586L796,584L799,585L802,584L805,585H808L811,584H817" fill="none" stroke="#d2691e"/>
<path d="M18,547H21L24,548H30L33,549L36,548H39L42,547L45,548L48,549L51,552L54,555L57,559L60,561L62,563L63,543L64,537L66,538L69,537L72,536H81L84,537H90L93,536H111L114,535H120L123,536H133M135,535H138L141,534H143M148,535L151,536L154,535H157L160,536H163L166,535L168,536L169,549L170,561L172,560H178L181,559L184,558H187L190,559L193,561L196,562H199L202,563H204L205,550L206,540L208,539L211,540L214,539H220L223,540L226,541H229L232,540H256L259,541H262L265,542L268,541H271L274,540H277L280,539H286L289,540L292,542H295L298,543L301,542L304,541L307,540H316L319,541L322,542H325L328,541H331L334,540L337,541H349L352,540H358L361,541H364L367,542H373L376,541L379,540H385L388,541H391L394,540H397L400,541L403,540H415L418,541H421L424,540L427,541L430,542L433,541H436L439,540L442,541H445L448,542L451,541H454L457,542H460L463,541H466L469,539H472L475,541L478,540L481,541L484,540L487,541L490,540H496L499,541H502L505,540H514L517,539H520L523,540H529L532,541L535,540H544L547,541H550L553,542H556L559,541H562L565,540H568L571,539L574,540L577,539H580L583,540L586,541H595L598,540L601,539L602,540L604,566L605,580L607,579L610,580L613,581L616,580H622L625,578L628,579H634L637,580H643L646,579H649L652,578L655,579L658,578L661,580H664L667,579H673L676,580L679,581L682,579L685,580H688L691,579L694,578H697L700,577H703L706,578L709,576L712,578L715,577H718L721,576L724,577L727,578H739L742,579L745,578H748L751,575L754,576L757,575L760,576L763,577L766,578H775L778,577H781L784,578H787L790,577L793,578L796,576L799,577L802,576H805L808,575H817" fill="none" stroke="#f08060"/>
<path d="M18,561L21,562H27L30,561L33,560H39L42,559L45,558L48,560L51,561L54,564L57,567L60,568L62,570L63,555L64,549H69L72,550H75L78,549H81L84,550H90L93,549L96,548L99,549H111L114,547H117L120,545L123,546L126,547H132L133,546M135,547H138L141,548H143M148,549L151,550H157L160,549H166L168,550L169,563L170,576L172,577L175,576L178,577H181L184,576H190L193,577H204L205,564L206,554L208,555L211,554H217L220,555H223L226,557L229,555L232,556L235,555L238,556L241,555H244L247,554H250L253,553H259L262,552L265,553L268,554H280L283,555L286,556H301L304,555L307,554L310,555H313L316,557H325L328,556H331L334,555H337L340,556H343L346,555L349,556H352L355,555L358,556L361,555H367L370,554H379L382,555H385L388,556H397L400,557L403,555L406,556H415L418,555L421,556H430L433,555H436L439,556L442,555L445,556H448L451,557H454L457,558H460L463,559H466L469,558L472,557L475,558H481L484,557H490L493,556H496L499,555L502,556L505,555L508,556L511,554L514,555H517L520,556L523,557L526,556H529L532,558H535L538,559H541L544,558L547,559H550L553,560L556,559L559,557L562,556L565,555L568,556L571,555H577L580,556L583,558H586L589,559H595L598,558L601,557H602L604,574L605,582L607,581L610,580L613,581H616L619,582L622,583L625,582L628,583L631,584H634L637,585L640,584L643,583L646,582H649L652,581L655,583L658,582L661,583L664,584H670L673,585L676,584H679L682,583L685,584L688,583H691L694,581H700L703,582H718L721,583H748L751,581L754,582L757,581L760,582H775L778,583L781,582H784L787,583H790L793,584L796,583H799L802,582L805,583L808,582H817" fill="none" stroke="#ff4500"/>
<path d="M18,570H21L24,571H27L30,570L33,571L36,570H48L51,572L54,573L57,576H60L62,577L63,560L64,551L66,552L69,551H75L78,550H81L84,551H87L90,552L93,551L96,550H102L105,551H111L114,550H117L120,549L123,550H126L129,551H133M135,551H143M148,552L151,553L154,552H157L160,553L163,552H166L168,553L169,564L170,575H178L181,574H184L187,573L190,574L193,575H199L202,576H204L205,565L206,557H211L214,556L217,557H220L223,558L226,559L229,558H241L244,559L247,558H271L274,557H283L286,558H289L292,559H295L298,560L301,559L304,558L307,557H316L319,558H322L325,559L328,558L331,557H334L337,558H340L343,559H349L352,560L355,559H358L361,560H373L376,559H397L400,560L403,559H406L409,560L412,559H415L418,560H421L424,559H427L430,560L433,559H445L448,560H451L454,559L457,561L460,560H463L466,561L469,560L472,559L475,561L478,562H481L484,561H487L490,560H502L505,559H517L520,560L523,561H529L532,562L535,561H550L553,562L556,561L559,560H562L565,559H580L583,561H586L589,562H595L598,561L601,560L602,561L604,575L605,582H610L613,584L616,583H622L625,582L628,583H631L634,582L637,583H640L643,582H646L649,581H652L655,582L658,581L661,583H664L667,582L670,583H673L676,584L679,585L682,583H688L691,582H694L697,581H715L718,580H721L724,581L727,582H730L733,583L736,582L739,581H748L751,579L754,580H760L763,581H769L772,582L775,581H778L781,582H799L802,581H811L814,580L817,581" fill="none" stroke="#33ee00"/>
<path d="M18,564L21,565H39L42,564L45,563L48,564L51,565L54,567L57,570H60L62,572L63,557L64,551L66,552L69,551L72,552H81L84,553H90L93,552L96,551L99,552H105L108,553H111L114,552H129L132,551L133,552M135,552H143M148,554L151,555L154,554H163L166,553L168,555L169,562L170,569H178L181,568L184,567H187L190,568L193,569L196,570H202L204,571L205,558L206,549H217L220,548L223,549L226,550L229,549H241L244,550H250L253,551L256,550L259,549H265L268,550L271,549L274,548L277,547L280,548L283,549L286,550H292L295,552H298L301,551L304,549L307,547H310L313,548L316,549H319L322,550L325,551H328L331,550H334L337,549L340,550L343,551L346,550H355L358,551L361,552L364,551L367,552H370L373,551L376,550H382L385,551H388L391,550H397L400,551L403,550H406L409,552L412,551H415L418,552H427L430,553L433,552L436,551L439,552H454L457,553L460,551H463L466,552L469,550H472L475,552L478,553H481L484,552L487,553L490,552L493,551L496,552H499L502,553L505,551L508,552H514L517,551H535L538,550H544L547,551L550,552H553L556,553L559,552H562L565,551L568,552L571,551H574L577,550L580,551L583,552L586,553H595L598,552H602L604,570L605,580L607,579L610,580L613,582L616,581L619,582H622L625,580L628,581H631L634,580L637,582L640,581H646L649,580L652,579L655,580H658L661,582H667L670,583H676L679,585L682,584H688L691,582L694,581H697L700,579L703,580L706,581L709,580H715L718,579H721L724,580L727,581H730L733,582L736,581H739L742,582L745,581H748L751,578L754,579H757L760,580L763,581L766,582H769L772,583L775,582H790L793,581L796,580H802L805,581H817" fill="none" stroke="#cc3399"/>
<path d="M18,540L21,541H24L27,542H36L39,543L42,544H45L48,546L51,549L54,552L57,556L60,558L62,561L63,539L64,533H66L69,534H72L75,535H96L99,534L102,535L105,534H108L111,533L114,532H123L126,531H129L132,530H133M135,530H143M148,531H163L166,530L168,531L169,544L170,557H175L178,556H190L193,557L196,558L199,559L202,560H204L205,548L206,540L208,539H223L226,540L229,539H241L244,540L247,541H250L253,542H256L259,541H277L280,540H292L295,541H301L304,540L307,539H313L316,540H319L322,541L325,542L328,541H337L340,542H349L352,541H367L370,540H373L376,539H379L382,538L385,539L388,540L391,539H397L400,540H403L406,541H415L418,542L421,541L424,540H427L430,541H433L436,540H442L445,541L448,542L451,541H454L457,542H475L478,543H481L484,542L487,543L490,542H493L496,541L499,542H508L511,541H514L517,540L520,541H535L538,540L541,541L544,540H547L550,541H556L559,540H568L571,539L574,540H577L580,541L583,540H602L604,564L605,576L607,575H610L613,576H619L622,577L625,576L628,577L631,578L634,577H646L649,576H658L661,577L664,576H667L670,578H676L679,579L682,578L685,579L688,578H697L700,577H703L706,576L709,575L712,576H715L718,575H721L724,576H730L733,577H736L739,576L742,577H748L751,575L754,576H757L760,577L763,578H778L781,579H796L799,578H808L811,577H814L817,578" fill="none" stroke="#b06a3c"/>
<path d="M18,572H24L27,573H48L51,574H54L57,576H60L62,577L63,571L64,572H66L69,571L72,570H75L78,571H87L90,572L93,571L96,570L99,571H108L111,572H117L120,571H123L126,572H133M135,572L138,571H143M148,572L151,573L154,572H157L160,573L163,572H166L168,573L169,579L170,584L172,585L175,584H178L181,583H184L187,582H190L193,584H204L205,576L206,572L208,571L211,572H235L238,573L241,572L244,573L247,572L250,573H271L274,572H289L292,574H298L301,573L304,572L307,571H313L316,572H331L334,571H340L343,572H349L352,573H355L358,572H361L364,573H373L376,572H385L388,573H391L394,572H409L412,571H424L427,572L430,573L433,572H436L439,573H445L448,574L451,573H454L457,574L460,573H463L466,572L469,571H472L475,572H478L481,573L484,572L487,573L490,572H493L496,573H502L505,572H514L517,571H529L532,573L535,572H544L547,573L550,574H556L559,572H562L565,571H583L586,572H589L592,573H595L598,571L601,570L602,571L604,580L605,585L607,584L610,586L613,587L616,586L619,587H622L625,585L628,587H634L637,588L640,587L643,586H652L655,587H658L661,588H664L667,587L670,588L673,587L676,588H679L682,587H688L691,586H703L706,587L709,586H724L727,587H730L733,586H739L742,587H745L748,588L751,587H757L760,588L763,590L766,591L769,590L772,591L775,590L778,589H781L784,590L787,589L790,588L793,587H799L802,586L805,587H808L811,586H814L817,587" fill="none" stroke="#55aaee"/>
<path d="M18,558L21,559H30L33,560L36,559H42L45,558L48,559L51,561L54,563L57,565L60,566L62,568L63,553L64,548H90L93,547L96,546L99,547H117L120,546L123,547L126,548L129,547L132,548H133M135,547H138L141,546H143M148,547L151,548L154,547H168L169,558L170,569H172L175,568H184L187,567L190,568L193,569H196L199,570L202,571H204L205,558L206,550L208,549H223L226,550H229L232,549H235L238,548L241,549H244L247,548L250,549H268L271,550L274,548H280L283,549H292L295,550H301L304,548H313L316,549H340L343,548L346,549L349,548L352,549H358L361,550H364L367,551H373L376,550L379,549H385L388,550H397L400,551H409L412,550H436L439,549L442,550H448L451,551H466L469,550H472L475,551H478L481,552H484L487,551H502L505,550L508,551L511,550L514,551L517,550L520,549L523,550H535L538,551L541,552L544,551L547,552H550L553,553L556,552H568L571,551H583L586,552H589L592,551L595,552H602L604,570L605,580L607,579L610,580L613,581L616,580L619,581H625L628,582H634L637,583H640L643,582L646,581H652L655,582L658,581H661L664,582L667,581H676L679,582H682L685,581H688L691,580H694L697,579H700L703,578L706,579H709L712,580H721L724,581L727,582H742L745,583L748,582L751,580L754,581L757,580H760L763,581H778L781,582H796L799,581H808L811,580H817" fill="none" stroke="#990099"/>
<path d="M18,565H21L24,563H27L30,562L33,563H39L42,562L45,563L48,564L51,566L54,569L57,571L60,572L62,573L63,559L64,554H66L69,553H75L78,552L81,553H87L90,552L93,551L96,550L99,552L102,551H105L108,550L111,551L114,549H117L120,547L123,548L126,549L129,548H132L133,547M135,547H143M148,548L151,549H157L160,550L163,549H166L168,550L169,560L170,570L172,571H175L178,570L181,569L184,570L187,569L190,570H193L196,571L199,573H204L205,559L206,549H211L214,548L217,549L220,548L223,550L226,551L229,550H247L250,551L253,552L256,553L259,552H268L271,551L274,550L277,549L280,548H283L286,549H292L295,550L298,551H301L304,549L307,548L310,549H313L316,550H322L325,551L328,549L331,548H334L337,547L340,548H349L352,549L355,548L358,550H361L364,551L367,552H373L376,551L379,550L382,549L385,550L388,551H391L394,549L397,550L400,552L403,551L406,552H409L412,551H418L421,552H424L427,551L430,552H436L439,551H442L445,552L448,554L451,552H454L457,554H460L463,553L466,554L469,553H472L475,554L478,553L481,554H487L490,553H493L496,554L499,555H502L505,554H526L529,555H532L535,553L538,554L541,553H550L553,554H556L559,552H562L565,551H568L571,550H574L577,549H580L583,551L586,552L589,554H601L602,555L604,572L605,582L607,581H610L613,584L616,583L619,584H622L625,583H628L631,584L634,583L637,584L640,583L643,581H649L652,580L655,582L658,580L661,582L664,584L667,582L670,583H676L679,585L682,583H685L688,582H691L694,583H697L700,582H706L709,581H712L715,579H721L724,580L727,582H730L733,583H748L751,580H760L763,581H766L769,580L772,581L775,580L778,581H781L784,582H787L790,581L793,582L796,581H799L802,580L805,581H808L811,582L814,581L817,582" fill="none" stroke="#87ceeb"/>
<path d="M18,569H24L27,570H30L33,571L36,570H48L51,572L54,574L57,576H60L62,578L63,565L64,560H66L69,559H72L75,560L78,559H90L93,558L96,557L99,558H123L126,559H129L132,558H133M135,559H138L141,558H143M148,559L151,561L154,560H163L166,559L168,561L169,569L170,577H172L175,576H178L181,575H184L187,574H190L193,575H196L199,576H202L204,577L205,569L206,565L208,564L211,565L214,564H220L223,565L226,566L229,565L232,564H235L238,563H241L244,564L247,563L250,564H265L268,565L271,564H274L277,563H283L286,564H289L292,565H301L304,563L307,562H313L316,563L319,564H325L328,562H334L337,563L340,564H352L355,563H358L361,564H364L367,565L370,564H373L376,562H388L391,561H397L400,563L403,562H406L409,563L412,562H415L418,563H427L430,564L433,562H436L439,561H445L448,562H454L457,564L460,563L463,562L466,563L469,561H472L475,563H487L490,562H493L496,563H502L505,562L508,563H520L523,564H532L535,563L538,562L541,563H547L550,564L553,565L556,564L559,562H562L565,561H568L571,560L574,561L577,560L580,561L583,562H586L589,563L592,564H595L598,563H601L602,564L604,579L605,586L607,585L610,586L613,588L616,587H619L622,588L625,585L628,586H640L643,585L646,584H649L652,583L655,584H658L661,585H676L679,587L682,586H688L691,585L694,583H703L706,584L709,583L712,584L715,582H721L724,583L727,584H745L748,583L751,581L754,582L757,581L760,582L763,584H769L772,585L775,584H778L781,585H793L796,584H799L802,582H817" fill="none" stroke="#c83232"/>
<path d="M18,552L21,553L24,552L27,553L30,552H36L39,551H42L45,550L48,551L51,554L54,557L57,561L60,562L62,564L63,544L64,537L66,538L69,537H90L93,535L96,533L99,534L102,533L105,534H108L111,535L114,534H120L123,535H126L129,536L132,535H133M135,535H143M148,536L151,537L154,536H157L160,537L163,536L166,535L168,537L169,548L170,558L172,559L175,558H178L181,557L184,556L187,557H190L193,559H202L204,560L205,546L206,537L208,536L211,537L214,536L217,537H223L226,539L229,538L232,537H247L250,538H253L256,537H268L271,538L274,537H283L286,538H289L292,539L295,540H298L301,539L304,537L307,536H316L319,537H322L325,538L328,537H331L334,536H337L340,537L343,538H349L352,540L355,539H361L364,540H373L376,539L379,538H382L385,537L388,538L391,537L394,536L397,537L400,538L403,537L406,538L409,539H415L418,540L421,541H424L427,542H430L433,541L436,540H457L460,539H463L466,540L469,538H472L475,539L478,540H484L487,539L490,538H493L496,539H502L505,538L508,539L511,537H514L517,536H520L523,537H529L532,538L535,536H544L547,537L550,538L553,539L556,538L559,536H562L565,535H577L580,536L583,537L586,538H592L595,539L598,538L601,537L602,538L604,566L605,580L607,578L610,580L613,582L616,580L619,581H622L625,579L628,580H634L637,581L640,580L643,579H652L655,580H658L661,582H664L667,580L670,581L673,580L676,581L679,583L682,582H685L688,581L691,580L694,579H703L706,580L709,579H712L715,578L718,577H721L724,578L727,580L730,579L733,581L736,580L739,579L742,580H748L751,577L754,578L757,577L760,578L763,580H769L772,581H778L781,580L784,581L787,582L790,581L793,582L796,580L799,581L802,580H808L811,579H817" fill="none" stroke="#800000"/>
<path d="M18,561L21,562H27L30,563H45L48,564L51,567L54,568L57,572L60,573L62,575L63,554L64,543H66L69,542L72,543H78L81,544H87L90,545L93,543L96,542H105L108,541H120L123,542H126L129,543L132,544H133M135,543H138L141,542H143M148,543L151,542L154,541H166L168,542L169,554L170,565L172,564H175L178,565L181,564H190L193,567L196,568H202L204,569L205,558L206,551L208,550H217L220,551H223L226,552L229,551L232,550H238L241,549L244,551L247,550L250,551L253,552H259L262,553L265,552H271L274,551L277,550L280,549L283,550H286L289,551H292L295,552H298L301,553L304,551H313L316,552L319,553H325L328,551L331,550H337L340,551L343,550H346L349,551H364L367,552L370,551L373,550L376,549H379L382,550H385L388,551H397L400,552L403,551H409L412,550H415L418,551L421,550L424,549H427L430,550H436L439,549H442L445,550L448,551L451,550H454L457,551L460,550L463,551H466L469,550H472L475,552H490L493,551L496,552H502L505,551H508L511,550H523L526,551H529L532,552L535,551H541L544,552H550L553,553H556L559,551H562L565,550H568L571,549H577L580,550L583,551H586L589,552H595L598,551L601,550L602,551L604,570L605,580L607,579H610L613,581L616,580H622L625,578L628,579H658L661,580H667L670,581H676L679,582L682,581H685L688,580L691,579L694,578L697,579H700L703,578L706,580L709,579L712,580L715,579L718,578L721,579L724,581L727,582H733L736,583H745L748,582L751,580L754,581H757L760,580L763,581L766,582H781L784,583L787,582H793L796,581H802L805,582H811L814,581H817" fill="none" stroke="#a0704b"/>
<path d="M18,552H30L33,553L36,552H45L48,553L51,555L54,557L57,560L60,562L62,563L63,546L64,542H72L75,543H84L87,542H90L93,541L96,540L99,539H111L114,538H120L123,539H126L129,538H133M135,538H138L141,537H143M148,538L151,539L154,538H160L163,539H166L168,540L169,552L170,565H178L181,564H184L187,563H190L193,565H196L199,566L202,567H204L205,554L206,544H211L214,543H223L226,544H229L232,545H241L244,546L247,545H250L253,544H262L265,543L268,544H271L274,543L277,544H286L289,545L292,546H295L298,547H301L304,546L307,545H310L313,544H316L319,545L322,544H355L358,545L361,544H364L367,545L370,544H382L385,545H400L403,544H406L409,545L412,544H436L439,545H454L457,546H460L463,545H472L475,546L478,547H487L490,546H502L505,545H511L514,546H517L520,545L523,546H529L532,547L535,546H538L541,547L544,546H547L550,547H556L559,545H562L565,544H577L580,545L583,546L586,545H592L595,546L598,545H602L604,568L605,580H610L613,581L616,580L619,581H622L625,580H634L637,581H643L646,580H655L658,579L661,580L664,581L667,580H676L679,581L682,580L685,579H697L700,578H703L706,580L709,579L712,580L715,579H721L724,580H730L733,581H748L751,580L754,579H760L763,580L766,579H772L775,580L778,579L781,580H793L796,579L799,580L802,579H817" fill="none" stroke="#9a5be2"/>
<path d="M18,567H33L36,566H39L42,565H45L48,566L51,568L54,569L57,572H60L62,573L63,561L64,557H78L81,558H90L93,557H117L120,556H123L126,557H129L132,556H133M135,556H138L141,555L143,556M148,556L151,557L154,556H163L166,555L168,556L169,564L170,571L172,572H175L178,571H190L193,572L196,573L199,574L202,575L204,576L205,562L206,552H223L226,553H229L232,552H241L244,553L247,552L250,553H262L265,554H268L271,553H277L280,552L283,553H301L304,551H313L316,552H319L322,553H325L328,552H337L340,553H361L364,552L367,553L370,552H391L394,551H397L400,552L403,551L406,552H412L415,551L418,552H424L427,553H439L442,552H445L448,553L451,552H466L469,551H475L478,552H490L493,551L496,552H514L517,551L520,552H556L559,551H574L577,550L580,551H583L586,552H595L598,551H601L602,552L604,572L605,582H610L613,583H622L625,582L628,583H637L640,582H649L652,581L655,582L658,581L661,582H673L676,583L679,584L682,583H685L688,582H703L706,583L709,582H718L721,581L724,582L727,583H748L751,582H760L763,583H772L775,582L778,583H787L790,582H799L802,581L805,582H814L817,581" fill="none" stroke="#ff6347"/>
<path d="M18,548L21,549L24,548L27,549L30,548L33,549L36,548H39L42,547H48L51,550L54,553L57,557L60,558L62,560L63,541L64,537H66L69,536L72,535L75,536H81L84,537L87,536H90L93,535L96,534L99,535H111L114,534H129L132,533H133M135,533H138L141,532H143M148,533L151,534H168L169,549L170,562H172L175,561H178L181,559H184L187,558H190L193,559L196,560H204L205,547L206,537H208L211,536H220L223,537L226,538L229,537L232,536H250L253,537H265L268,538L271,537L274,536L277,535H280L283,536H289L292,537H295L298,538H301L304,536L307,535H313L316,536L319,537L322,538H325L328,537H337L340,538L343,539L346,538H349L352,539L355,537L358,538L361,539H364L367,540L370,539H373L376,538L379,537H391L394,536H397L400,537L403,535L406,536L409,537L412,536H415L418,537H424L427,538H433L436,537H445L448,538L451,537H454L457,539L460,538H463L466,539L469,537H472L475,539H481L484,538L487,539L490,538L493,537L496,538L499,537L502,538L505,537L508,538H511L514,539L517,538H526L529,539H532L535,538H550L553,539L556,538L559,537H562L565,536H574L577,535L580,536L583,537L586,538L589,539H595L598,538L601,537L602,538L604,563L605,576L607,575L610,576L613,578H616L619,579H622L625,577L628,578H634L637,579L640,578H646L649,577H652L655,578L658,577L661,579H664L667,578L670,579H673L676,580L679,582L682,581H685L688,580L691,579L694,578L697,577H703L706,579L709,577L712,578L715,577L718,576H721L724,577L727,579H730L733,580H739L742,579L745,580L748,579L751,577L754,578H760L763,579L766,580H784L787,581L790,580L793,581L796,580L799,581L802,580L805,581L808,580H814L817,581" fill="none" stroke="#ffa0b0"/>
<path d="M18,578H42L45,579H48L51,581L54,582L57,585H60L62,586L63,580L64,579H66L69,578H75L78,577L81,576H84L87,577L90,576L93,575L96,574H111L114,573L117,572H120L123,573H126L129,572H132L133,571M135,571H143M148,572H160L163,571H166L168,572L169,582L170,590H175L178,591L181,590L184,589L187,588L190,589L193,591L196,592H199L202,594H204L205,584L206,578H211L214,577L217,578L220,577H223L226,578L229,577L232,576H241L244,577L247,576H250L253,578H265L268,579L271,578H274L277,577H280L283,578L286,579L289,580H295L298,581L301,580L304,578L307,577H310L313,576L316,577L319,578L322,579L325,578L328,577L331,576H337L340,577H349L352,578H364L367,579L370,578L373,577L376,576H382L385,577L388,578H391L394,577L397,578L400,579L403,578L406,579H409L412,578H421L424,577H442L445,578H448L451,579L454,578L457,579L460,578H463L466,579L469,578L472,577L475,579L478,580L481,579L484,578H487L490,577L493,578H508L511,577H514L517,578H529L532,579L535,578L538,577L541,578L544,579H550L553,580H556L559,578H562L565,577H568L571,576H577L580,577L583,578L586,579L589,580H595L598,579L601,577L602,578L604,585L605,589L607,588H610L613,590H622L625,588L628,589H634L637,590H643L646,589H649L652,588L655,589L658,588L661,590L664,589L667,588L670,589H676L679,591L682,589L685,590H688L691,589L694,588L697,587L700,586H703L706,587L709,586H721L724,587L727,588L730,587L733,589H736L739,588H748L751,586H760L763,588L766,589L769,588L772,589L775,588H793L796,586H802L805,587H808L811,586H817" fill="none" stroke="#ff8c00"/>
<path d="M18,557L21,558H42L45,557H48L51,559L54,561L57,563L60,564L62,565L63,547L64,540H66L69,541L72,540L75,541H78L81,542H87L90,541L93,542H105L108,541L111,542L114,540L117,539L120,538L123,540L126,539L129,540H133M135,541L138,543H143M148,544H151L154,543H157L160,542H163L166,543H168L169,555L170,567H172L175,566H178L181,567H184L187,566L190,567L193,569H196L199,570H204L205,558L206,550L208,549H214L217,550L220,549H223L226,551H232L235,549L238,548L241,549H247L250,550H253L256,551L259,552L262,551L265,550H271L274,549L277,548H283L286,549H289L292,550H301L304,549L307,550H310L313,549L316,550L319,551H325L328,550L331,549H334L337,548H349L352,549L355,548L358,549L361,550L364,549H373L376,548L379,547H382L385,548L388,549H397L400,550L403,549H406L409,548H421L424,547L427,548H430L433,547H439L442,548H451L454,549L457,550L460,549L463,550H472L475,549H484L487,548H490L493,546L496,548H502L505,547H511L514,548H520L523,547L526,548H532L535,547H541L544,548H556L559,547H562L565,546L568,547H571L574,548H577L580,549L583,550H589L592,549H595L598,548H601L602,547L604,568L605,578L607,577L610,578L613,580H616L619,581H622L625,580H646L649,581H664L667,580L670,579H673L676,580L679,582L682,580L685,581H691L694,580H718L721,579L724,580L727,581L730,580L733,581L736,580H742L745,581L748,580H760L763,581H769L772,582L775,583H778L781,584L784,585L787,584L790,583H793L796,582H799L802,581H808L811,582L814,583L817,582" fill="none" stroke="#f4a460"/>
<path d="M18,557H21L24,556L27,557L30,556L33,557H39L42,556H45L48,557L51,559L54,562L57,565L60,567L62,569L63,551L64,544H66L69,543H72L75,544H78L81,545H84L87,544H90L93,543H96L99,544H111L114,543L117,544L120,543H123L126,544H129L132,543H133M135,543L138,542H143M148,543L151,544L154,543H157L160,544H163L166,543L168,544L169,555L170,565L172,566L175,565H190L193,566L196,567L199,568H202L204,569L205,556L206,547H223L226,548H241L244,549L247,548L250,549L253,550L256,549H268L271,548H280L283,549H286L289,550H298L301,551L304,549L307,548H316L319,549H322L325,550H337L340,551H346L349,550H352L355,549H373L376,548L379,549L382,548L385,549H394L397,550L400,551L403,550H418L421,551H424L427,550L430,551L433,550H448L451,549L454,548L457,549H460L463,548L466,549L469,548H472L475,549L478,550H487L490,549H502L505,548L508,549H514L517,548L520,549H529L532,550L535,549H544L547,550L550,551L553,552H556L559,551H562L565,549L568,550H577L580,549L583,550H586L589,552L592,551H595L598,550L601,549L602,550L604,571L605,583L607,582L610,584H613L616,583H622L625,582L628,583L631,582H634L637,583L640,582L643,581H649L652,580L655,581H658L661,582H664L667,581L670,582L673,581H676L679,582L682,581L685,580H691L694,579H700L703,580L706,581H712L715,580H721L724,581H733L736,580H739L742,581L745,580L748,579L751,578L754,579H760L763,580H766L769,581H787L790,580H793L796,579H799L802,578H811L814,577H817" fill="none" stroke="#66b3ff"/>
<path d="M18,573H24L27,574H30L33,575H36L39,574H45L48,575L51,576L54,578L57,580H60L62,581L63,570L64,566H66L69,565H90L93,564H111L114,563H117L120,562L123,563H133M135,563L138,562H143M148,563L151,564L154,563H168L169,574L170,585L172,586H178L181,585H184L187,586L190,587L193,588L196,589L199,590L202,591L204,592L205,576L206,564H223L226,565L229,564H232L235,563H241L244,564L247,563L250,564H271L274,563H289L292,564H301L304,563L307,562H310L313,563H316L319,564H325L328,563L331,564L334,563H337L340,564L343,565L346,564H349L352,565H364L367,566H373L376,565L379,564H391L394,563H400L403,562L406,563H412L415,562L418,563H424L427,564H439L442,563L445,564L448,565H454L457,566L460,565L463,564L466,565L469,564H472L475,565L478,566H481L484,565H487L490,564H493L496,565H502L505,564L508,565L511,564L514,565L517,564L520,565H529L532,566L535,565H544L547,564L550,565H556L559,564H562L565,563H571L574,564L577,563L580,564L583,565H586L589,566L592,565H598L601,564H602L604,577L605,584L607,583H610L613,585L616,584L619,585H622L625,584L628,586H643L646,585H649L652,584L655,585L658,584L661,585H667L670,586H676L679,587H688L691,586H697L700,585H703L706,586L709,585H715L718,584H721L724,585L727,586H730L733,587L736,586H739L742,587H748L751,585H757L760,586L763,587H775L778,586H781L784,587H793L796,586L799,587L802,586L805,587H817" fill="none" stroke="#da70d6"/>
<path d="M18,553L21,554H33L36,553L39,554H45L48,555L51,557L54,559L57,563L60,564L62,566L63,546L64,538L66,539L69,538L72,537H75L78,538H81L84,539L87,538L90,539L93,538L96,537H102L105,538H111L114,537L117,536H120L123,537H129L132,536H133M135,536H141L143,535M148,537L151,538L154,537H163L166,536L168,537L169,548L170,560H178L181,559H187L190,560L193,562L196,563L199,564L202,565L204,566L205,553L206,544L208,543H211L214,542L217,543H226L229,542H241L244,543L247,542H250L253,543L256,544H271L274,543L277,542H289L292,543H301L304,542H313L316,543H328L331,542H334L337,543H352L355,542L358,543H364L367,544L370,543H385L388,544L391,543H406L409,544H412L415,543H418L421,544L424,543H427L430,544L433,543H445L448,544H454L457,545L460,544L463,543L466,544L469,543L472,542L475,544L478,543L481,544H493L496,545H502L505,544L508,545L511,544H541L544,543L547,544H550L553,545H556L559,543H568L571,542L574,543H583L586,544L589,545H595L598,544H602L604,567L605,579L607,578H610L613,580L616,579H622L625,578H637L640,577H646L649,576H652L655,577L658,576L661,577H667L670,578H673L676,579L679,580L682,579L685,580L688,579H691L694,578H697L700,577H703L706,578L709,577L712,578L715,577H721L724,578H730L733,579H736L739,578L742,579H745L748,578L751,577H757L760,578L763,579H781L784,580H802L805,581L808,580H817" fill="none" stroke="#808000"/>
<path d="M18,545H21L24,546H33L36,547H39L42,546L45,547L48,548L51,551L54,554L57,558L60,560L62,562L63,541L64,533L66,534L69,533L72,534L75,533H90L93,532H96L99,533H129L132,532H133M135,532H138L141,531L143,532M148,533H168L169,547L170,560H175L178,561L181,560H190L193,562L196,563L199,564H202L204,565L205,551L206,541L208,540H223L226,541L229,540H232L235,539H256L259,540H262L265,539L268,540L271,541L274,540H283L286,541H289L292,542H301L304,541L307,539H316L319,540H331L334,539H337L340,540H349L352,541L355,540L358,541H373L376,540H388L391,539H406L409,540H412L415,539L418,540L421,541L424,540L427,541H430L433,540H454L457,541L460,540H466L469,539L472,540L475,541H481L484,540H490L493,539L496,540H502L505,539H511L514,540L517,539H532L535,538L538,539H550L553,540H556L559,539L562,538H574L577,537L580,538L583,539L586,538L589,539L592,538L595,539L598,538L601,537L602,538L604,563L605,576L607,575L610,576L613,578L616,577L619,578H622L625,577L628,578H634L637,579L640,578H643L646,577H649L652,576L655,577H658L661,578H664L667,577L670,578H676L679,579H685L688,578L691,577H703L706,578L709,577H721L724,578L727,579H739L742,580L745,579H748L751,577L754,578H760L763,579H772L775,578H778L781,579H793L796,578H799L802,577L805,578H817" fill="none" stroke="#c0b0e0"/>
<path d="M18,544H21L24,545H33L36,546H45L48,547L51,550L54,553L57,557L60,559L62,561L63,540L64,533H75L78,532H90L93,531H99L102,530L105,531H108L111,532H120L123,533H126L129,532H133M135,532H143M148,532H157L160,531H166L168,532L169,545L170,557L172,558L175,557H178L181,556H190L193,557L196,558L199,560H204L205,546L206,536H208L211,537L214,536H217L220,535L223,536L226,537H229L232,536L235,535H241L244,536L247,535L250,536H277L280,535L283,537L286,536L289,537H295L298,538H301L304,536L307,535L310,536L313,535L316,536H322L325,537L328,536L331,537L334,535H337L340,536H355L358,537H361L364,536L367,537H373L376,536L379,537H385L388,538L391,537L394,536H397L400,537L403,536L406,537H412L415,536L418,537L421,536H427L430,537H439L442,536L445,537H448L451,538H454L457,539L460,538L463,537L466,538L469,537H472L475,538L478,537L481,538L484,537H490L493,536H502L505,535L508,536H511L514,537L517,536L520,537H532L535,536H544L547,537H556L559,536H562L565,535L568,536H580L583,537H586L589,538L592,537L595,538L598,537H601L602,538L604,566L605,580L607,579L610,580L613,581L616,580H622L625,578L628,579H631L634,580H637L640,579H643L646,580L649,579H658L661,580H670L673,579L676,580H682L685,579H703L706,580L709,579H715L718,578H724L727,579H733L736,578H739L742,577L745,578H748L751,577L754,578H760L763,579H766L769,578L772,579L775,578H784L787,579L790,578H793L796,577L799,578L802,577L805,578L808,579H817" fill="none" stroke="#000080"/>
<path d="M18,541L21,542L24,541L27,542H30L33,543H42L45,544L48,545L51,548L54,551L57,555L60,556L62,558L63,536L64,530H69L72,529H75L78,530L81,529L84,530H87L90,531L93,529H96L99,530H108L111,531L114,530L117,529H120L123,530H129L132,529H133M135,529H138L141,528L143,529M148,531L151,532L154,531L157,530L160,531H163L166,530L168,531L169,544L170,555H172L175,554L178,555L181,554L184,555L187,554H190L193,556L196,557L199,558L202,559H204L205,547L206,539L208,538H211L214,537L217,538L220,537L223,538L226,540L229,538H262L265,537L268,538H274L277,536H280L283,538H286L289,539L292,540H298L301,539L304,537L307,536L310,537H316L319,538L322,539H325L328,538L331,537H337L340,538H352L355,537L358,538L361,539L364,538L367,539H373L376,538L379,536L382,537H388L391,536H397L400,537L403,536L406,537L409,538H412L415,537L418,538L421,539L424,538H427L430,539L433,538L436,537H445L448,538H454L457,539H460L463,538L466,539L469,537H472L475,539H484L487,538L490,537L493,536L496,537H502L505,535L508,536H523L526,537L529,536L532,538L535,536H544L547,537H550L553,538L556,537L559,536L562,537L565,535L568,536L571,535H577L580,536L583,538H586L589,539L592,538L595,539L598,537H601L602,538L604,566L605,581L607,579H610L613,581L616,578L619,579L622,578L625,577L628,578H634L637,579H649L652,578L655,579L658,578L661,580L664,581L667,580H676L679,582L682,581H685L688,580L691,579L694,578H697L700,577H703L706,579L709,578H712L715,577H721L724,578H730L733,579L736,578L739,577L742,578H745L748,577L751,575L754,576L757,575L760,576L763,578H766L769,577H772L775,576H781L784,577H787L790,576H793L796,574L799,575L802,574L805,575H808L811,574H817" fill="none" stroke="#808000"/>
<path d="M18,541H24L27,542H45L48,543L51,547L54,550L57,554L60,557L62,559L63,538L64,534H66L69,533H78L81,532L84,533L87,532H90L93,531H96L99,530L102,531H108L111,530L114,529H117L120,530H129L132,529H133M135,529H138L141,528L143,529M148,530L151,531H154L157,530L160,531L163,530H166L168,531L169,543L170,556H190L193,558H196L199,559L202,560H204L205,546L206,537L208,536H223L226,537L229,536H238L241,535L244,536L247,535H262L265,536H268L271,535H277L280,534L283,535L286,536H289L292,537H301L304,535L307,534H313L316,535L319,536L322,535L325,536L328,535L331,536H349L352,535H364L367,536L370,535H373L376,534H382L385,535H397L400,536L403,535L406,536H409L412,535H415L418,536H424L427,537H430L433,536H445L448,537H466L469,536H472L475,537H481L484,536H493L496,537L499,536L502,537L505,535L508,536L511,535H541L544,536H547L550,537H553L556,536L559,535L562,536L565,535H568L571,534H580L583,535H586L589,537H595L598,536H601L602,537L604,564L605,578H610L613,579L616,578H622L625,576H634L637,577L640,576H649L652,575L655,576H658L661,577H664L667,576L670,577H673L676,578L679,579L682,578L685,579L688,578L691,577H700L703,576L706,577L709,576L712,577L715,576H724L727,578L730,577L733,578H736L739,577L742,578H745L748,577L751,575H754L757,574L760,575H763L766,576H772L775,575H784L787,576H793L796,575H808L811,576H817" fill="none" stroke="#000000"/>
<path d="M18,584H22L24,583H36L38,584H44L46,585L48,588L50,589H54L56,590H62L64,578H133M135,578H143M148,578H168L170,594H204L206,578H346L348,579H488L490,580L492,584L494,586L496,588H520L522,589H572L574,590H602L604,589H817" fill="none" stroke="#7a4a3a"/>
<path d="M18,577H62L64,572H133M135,572H143M148,572H168L170,580H178L180,581H194L196,582H204L206,560H252L254,559H346L348,558H440L442,557H488L490,560L492,566L494,572L496,575H548L550,576H602L604,581L606,583H710L712,584H817" fill="none" stroke="#4da6ff"/>
<path d="M20,659L22,657L24,656L26,655L28,657L30,658L32,656L34,657H38L40,656L42,655L44,654L46,655L48,654H50L52,651H54L56,649L58,656L60,659L62,660H66L68,661L70,662H72L74,664L76,666L78,668L80,669L82,667L84,666L86,667H88L90,668H92L94,664L96,663L98,665L100,670L102,673L104,670L106,668H108L110,666L112,663H114L116,662L118,664L120,661L122,658L124,657H128L130,655H132L133,654M135,652L137,655L139,658H141L143,661M148,664L150,665L152,662L154,663L156,665L158,666L160,665L162,668L164,666L166,664L168,658L170,652L172,648L174,650L176,649L178,650H180L182,652H184L186,654L188,653L190,654H192L194,653L196,656H198L200,658L202,659L204,661L206,660L208,661L210,663H214L216,664H218L220,663L222,662L224,664H226L228,665L230,664L232,665L234,662L236,663L238,665L240,667L242,665H244L246,663L248,664H254L256,663H258L260,661H262L264,659H266L268,655L270,658L272,659L274,658L276,660L278,659H280L282,660H286L288,659L290,660L292,662L294,663L296,662H298L300,660L302,659L304,658L306,655H308L310,656H314L316,658L318,657H320L322,659L324,660H326L328,661L330,662H332L334,661L336,663H340L342,662H344L346,664L348,663L350,665L352,668L354,667L356,665L358,663L360,661L362,659L364,658L366,659L368,657L370,659H372L374,662L376,663L378,664L380,663L382,664L384,663L386,661L388,659L390,660H392L394,662H396L398,664H400L402,666L404,663L406,662L408,661L410,660L412,657L414,659L416,657H418L420,658L422,660L424,663L426,664L428,663H432L434,660H436L438,663L440,664L442,665L444,666L446,664L448,662L450,660L452,663L454,664L456,662H458L460,665L462,666L464,668H466L468,669L470,667L472,668L474,662L476,657H478L480,658L482,657L484,654L486,657H488L490,658H492L494,659H496L498,655L500,656L502,654L504,658L506,664H508L510,663L512,664L514,666L516,665L518,667L520,666L522,664H524L526,662L528,660L530,662H532L534,663L536,665L538,664H540L542,663L544,661L546,663L548,662L550,663L552,664L554,663L556,662H558L560,661H562L564,659H568L570,657H572L574,659L576,661H580L582,660L584,658L586,657L588,659L590,656L592,649L594,641L596,642L598,640H600L602,639L604,637L606,629L608,621H612L614,619H616L618,618H620L622,617L624,620L626,619H628L630,623L632,625L634,624L636,621H640L642,618L644,620L646,619L648,617L650,618L652,620H654L656,621L658,624L660,626H662L664,625L666,623L668,621H670L672,622L674,619L676,618H678L680,620L682,619L684,620L686,621L688,620H690L692,621L694,619H700L702,620H704L706,619H708L710,617L712,616L714,617L716,618H718L720,621L722,623L724,624L726,625L728,622H730L732,620L734,622L736,619L738,620L740,621L742,624L744,625L746,621L748,620L750,621L752,619L754,622L756,623L758,622L760,621L762,620L764,619L766,620L768,621L770,620L772,621L774,619H782L784,618L786,620L788,618L790,619L792,618L794,616L796,615H798L800,617L802,618H804L806,616L808,614H810L812,612L814,610L816,617L817,625" fill="none" stroke="#000"/>
<path d="M20,659L22,657L24,658L26,656L28,655L30,656L32,654L34,655L36,657L38,655H40L42,654L44,655L46,656L48,655L50,651L52,652H54L56,651L58,655L60,660H62L64,661L66,662H68L70,661L72,664L74,663L76,666H82L84,667L86,669L88,670L90,667L92,668H94L96,667H98L100,668L102,671L104,667L106,666H108L110,665L112,664L114,662H116L118,661L120,662L122,660H124L126,659L128,658H132L133,656M135,655L137,660L139,662H141L143,663M148,665L150,666L152,664L154,665L156,666H160L162,667L164,665L166,664L168,662L170,658L172,651L174,652L176,650L178,652L180,654L182,652L184,654L186,652L188,656H190L192,658L194,656L196,657L198,658H200L202,659L204,662H208L210,663H214L216,665H218L220,666L222,667L224,666L226,665H228L230,666H236L238,665L240,666L242,664L244,663L246,662L248,663H250L252,665L254,664L256,665L258,663L260,662H262L264,661L266,659L268,657L270,659H272L274,660H280L282,659L284,660L286,662H290L292,664H294L296,665L298,663L300,660L302,658L304,660L306,658H310L312,659H316L318,658L320,659L322,660H326L328,659L330,660H332L334,661L336,662H338L340,663L342,664H348L350,665H354L356,663L358,662L360,659L362,661L364,662L366,660H368L370,658L372,659L374,662L376,665L378,667L380,666L382,664L384,663H386L388,662H394L396,663L398,665H400L402,666L404,664L406,663L408,661L410,659L412,658L414,659L416,661L418,659L420,661L422,660L424,662L426,661L428,664L430,665L432,664L434,663L436,664L438,663L440,665L442,666L444,664L446,665L448,664L450,661L452,663L454,664L456,665H460L462,666L464,665H466L468,667H470L472,668L474,663L476,655H478L480,656L482,655L484,656L486,658L488,660L490,661L492,658L494,660L496,658L498,656L500,657H502L504,659L506,664H508L510,665H512L514,666H516L518,667H520L522,665L524,663L526,662H528L530,663H532L534,660L536,661H542L544,662L546,664L548,665L550,663L552,665H556L558,663L560,662L562,660H564L566,662L568,660L570,662L572,661L574,662L576,661L578,660H582L584,659H586L588,658H590L592,650L594,640H598L600,641L602,638L604,636L606,629L608,620L610,621L612,620H616L618,621H620L622,620L624,624L626,623L628,622L630,623L632,625H636L638,622L640,621L642,619H644L646,617L648,619L650,620L652,621L654,622L656,623L658,625L660,627L662,626H664L666,624H668L670,622L672,620H676L678,621L680,620L682,621L684,619L686,624L688,622L690,621H696L698,620H700L702,621H704L706,619L708,618H710L712,617H714L716,618L718,621H720L722,622L724,623L726,625L728,623H730L732,621L734,618L736,619L738,620L740,623L742,624L744,623L746,622L748,620L750,621L752,625H754L756,624L758,622L760,621L762,620L764,618L766,619L768,621H776L778,620H780L782,619H784L786,617H788L790,618L792,617H794L796,616L798,615L800,616L802,617L804,618H806L808,617L810,614H814L816,620L817,627" fill="none" stroke="#00aa00"/>
<path d="M20,655L22,654L24,653H34L36,651L38,652L40,651L42,650H44L46,651L48,650L50,648H52L54,647H56L58,652L60,658L62,659L64,658L66,659H68L70,660L72,661L74,662L76,663L78,661L80,663H82L84,664L86,666H90L92,663L94,661H96L98,663L100,666L102,669L104,667L106,665L108,662L110,660H112L114,659H116L118,660L120,659L122,658L124,657L126,656H128L130,655L132,653L133,654M135,654L137,655L139,657L141,661H143M148,662H150L152,661H154L156,659H158L160,660L162,661L164,660L166,661L168,660L170,653L172,646H180L182,647L184,646L186,649L188,647H192L194,649L196,650H200L202,651L204,653H206L208,654H212L214,655H216L218,654L220,656L222,655H226L228,656L230,655H234L236,654L238,656L240,657L242,656H244L246,655L248,656H250L252,655L254,656L256,657L258,655L260,654L262,653L264,654L266,655H268L270,654L272,652L274,653L276,654L278,653L280,654H282L284,655L286,656L288,655H290L292,657L294,658L296,657L298,658L300,656L302,654L304,653L306,651H310L312,653H316L318,654L320,655H322L324,656L326,655L328,654L330,656H332L334,655H338L340,657L342,656H346L348,657H352L354,659L356,657L358,656L360,655L362,654L364,656L366,655H368L370,653H372L374,655L376,656H378L380,655H386L388,653L390,655L392,654L394,655H402L404,654H408L410,652H412L414,651L416,652L418,653H420L422,654L424,656H426L428,655H430L432,656L434,655L436,654L438,655L440,654L442,655L444,656L446,655L448,656L450,655H454L456,654H458L460,655L462,653L464,655L466,654L468,653L470,652L472,653H474L476,651L478,650L480,649L482,650L484,649L486,650L488,651L490,652H492L494,650H500L502,651H504L506,654L508,656L510,654H514L516,655H520L522,656L524,655H528L530,654L532,655L534,654L536,655L538,654H542L544,653H550L552,654L554,652H560L562,650H564L566,649L568,650H570L572,649H574L576,648L578,649L580,648H584L586,647H588L590,646L592,640L594,633H596L598,631L600,633H604L606,624L608,616L610,617H614L616,616H618L620,618H628L630,620L632,622H634L636,621L638,618L640,619L642,616L644,613L646,615H648L650,616L652,618L654,620H656L658,622L660,625H662L664,623L666,621L668,620L670,619L672,617L674,615L676,618H678L680,619L682,618H684L686,619L688,618H690L692,619H696L698,618H706L708,616L710,615L712,614H716L718,618L720,619L722,620H724L726,621L728,622L730,621L732,618L734,616L736,617L738,620L740,626L742,629H744L746,624L748,618H752L754,622H756L758,623L760,620L762,617L764,615L766,616L768,618L770,619L772,620L774,619L776,618L778,617H782L784,616L786,617L788,616L790,617L792,616L794,615L796,612L798,614L800,615L802,616L804,617L806,615L808,613L810,612L812,610L814,609L816,616L817,637" fill="none" stroke="#008000"/>
<path d="M20,658H22L24,657L26,656H38L40,655L42,654L44,655L46,653L48,654L50,653H52L54,652L56,651L58,654L60,659H68L70,661L72,662L74,664L76,666L78,665L80,666H82L84,667L86,668L88,669L90,667H92L94,665L96,664L98,667L100,668L102,671L104,670L106,668L108,666L110,664L112,663L114,664L116,662H118L120,660H122L124,659H126L128,657H130L132,656H133M135,656H137L139,658L141,660L143,662M148,662L150,663L152,664L154,665L156,664L158,666L160,665H162L164,666L166,663L168,661L170,656L172,649L174,650H178L180,653L182,652L184,654H186L188,653L190,654L192,655L194,656L196,657L198,658H200L202,660H204L206,661L208,659L210,660L212,662L214,664H216L218,663L220,665H222L224,664H228L230,665L232,664H236L238,662L240,663L242,664L244,663L246,665L248,666L250,664H256L258,661H260L262,660L264,658L266,659L268,658L270,659L272,658H274L276,659H278L280,660L282,661H288L290,663H292L294,664H296L298,662L300,661L302,659L304,658L306,656L308,655H310L312,656L314,657H316L318,658H320L322,659H324L326,660L328,661H332L334,662L336,661L338,662L340,663H344L346,664H348L350,665H352L354,667L356,665L358,662L360,661L362,659L364,658L366,660L368,659L370,660H372L374,662L376,664L378,665H380L382,664L384,663L386,662L388,661H390L392,660L394,662H396L398,663L400,664H404L406,661H408L410,660L412,658L414,657L416,659L418,658L420,660H422L424,661L426,662H428L430,663H432L434,661L436,662L438,663H440L442,664L444,666L446,664L448,662H452L454,664H456L458,665H460L462,666L464,665L466,666L468,667H470L472,666L474,662L476,655L478,657L480,656H482L484,654L486,656L488,658L490,659L492,658H494L496,656L498,655L500,656L502,655L504,658L506,663L508,666L510,665H516L518,667L520,664H522L524,663H526L528,661H530L532,660L534,661H542L544,662H546L548,663L550,662L552,663L554,664L556,663L558,662H560L562,661L564,660H566L568,659H572L574,660L576,659H578L580,657H582L584,658H586L588,657L590,656L592,650L594,640H598L600,638L602,637L604,638L606,629L608,620L610,619H612L614,620L616,619H618L620,620L622,619L624,620H626L628,621L630,623L632,625H634L636,623L638,621H640L642,619L644,617L646,616L648,618L650,619H652L654,621L656,624L658,625L660,626L662,624H664L666,623L668,621L670,620L672,619H678L680,620L682,621L684,622L686,621H696L698,620L700,621L702,620L704,619H706L708,618L710,617H714L716,616L718,619H720L722,620L724,622L726,623H728L730,622L732,619L734,618L736,619L738,620L740,624L742,623L744,624L746,622L748,620L750,621H754L756,622L758,621H760L762,620L764,619H766L768,621H772L774,619H780L782,620L784,617L786,618L788,617L790,619L792,617L794,616L796,615L798,616L800,618H802L804,619L806,617L808,616L810,615L812,614L814,613L816,617L817,625" fill="none" stroke="#000"/>
<path d="M20,697L22,696L24,697L26,694L28,695H30L32,697L34,694L36,696L38,695L40,697L42,696H48L50,697L52,699L54,700L56,701L58,702L60,707L62,710L64,701L66,686L68,683L70,682L72,683L74,682L76,683L78,681H80L82,682L84,684H86L88,685H90L92,686H94L96,687H98L100,686H104L106,689H110L112,688L114,685H116L118,684L120,683L122,684L124,686L126,687L128,686L130,684L132,683L133,685M135,680H137L139,679L141,680H143M148,685L150,684L152,683L154,684L156,682L158,684L160,683H162L164,682L166,680L168,688L170,703H174L176,704H178L180,705L182,706H184L186,707L188,706H192L194,708L196,710L198,711L200,715L202,717L204,708L206,700L208,688L210,686L212,688L214,689H216L218,690H222L224,687H226L228,686H234L236,684L238,685L240,683H242L244,684L246,685L248,684H250L252,682L254,684L256,683L258,685L260,684H262L264,685L266,686H268L270,684L272,686L274,685L276,686L278,687H280L282,685L284,687L286,684L288,687H290L292,686H298L300,685L302,686L304,685L306,687L308,688H310L312,687L314,684L316,686L318,684H320L322,687H324L326,688L328,686L330,685L332,686L334,687L336,685L338,686L340,687L342,685L344,684H346L348,683H350L352,684H354L356,687L358,685L360,686H362L364,687L366,688L368,686L370,684H372L374,686L376,687L378,685L380,687L382,686L384,688L386,686H388L390,688L392,689L394,691L396,688H400L402,686L404,684L406,685L408,686H410L412,685L414,684L416,685L418,687L420,686L422,685H428L430,684L432,685H436L438,686L440,687L442,689L444,686L446,687L448,688L450,687L452,686L454,685H456L458,684L460,686L462,685L464,686L466,685L468,686L470,684L472,685H476L478,683L480,682H482L484,684L486,683L488,685H490L492,687L494,686H496L498,688H502L504,685L506,688L508,689L510,688L512,691L514,690L516,691L518,694H520L522,693L524,692L526,691L528,690L530,691L532,689L534,688L536,687H540L542,688L544,686L546,687L548,688L550,687H552L554,686H556L558,687L560,688H566L568,687L570,688L572,687L574,689H576L578,688L580,686H582L584,683H586L588,685L590,684L592,685L594,686H596L598,685H600L602,694L604,723L606,724H608L610,726L612,725L614,728H616L618,729H620L622,730L624,731L626,735L628,737H630L632,738L634,737L636,733L638,731L640,732H642L644,731L646,732L648,730H650L652,729L654,730H656L658,729L660,732L662,731L664,732L666,730H668L670,732L672,733H674L676,732H678L680,733H682L684,731L686,733L688,732L690,733L692,732L694,729L696,730L698,731L700,733H702L704,732L706,734H708L710,733L712,732L714,731H716L718,734L720,735H722L724,734L726,733L728,734H730L732,733L734,731L736,733L738,734L740,735L742,734L744,736L746,737L748,736L750,734H752L754,735L756,734L758,733L760,734L762,733H766L768,736L770,733L772,734H774L776,735L778,734L780,733H784L786,732L788,733L790,732H792L794,731L796,732L798,736L800,737L802,736L804,737L806,738L808,739L810,737L812,739L814,736L816,732H817" fill="none" stroke="#000"/>
<path d="M20,699L22,698L24,694H26L28,695L30,696H40L42,698L44,697H46L48,699L50,697L52,698H54L56,702L58,705L60,710L62,711L64,704L66,687L68,684L70,682L72,683L74,682H78L80,681L82,684H86L88,686H90L92,685H96L98,686L100,687L102,685L104,687L106,688L108,691L110,689H112L114,687H116L118,688L120,687L122,686L124,685H128L130,682L132,683H133M135,679L137,681L139,680H141L143,681M148,685H150L152,684L154,683L156,684H160L162,683H166L168,689L170,704H172L174,705L176,706L178,705H182L184,707L186,706H188L190,707L192,708L194,710L196,711L198,712L200,714L202,718L204,709L206,700L208,688L210,686L212,688L214,689H220L222,688L224,689L226,688L228,686L230,688L232,687L234,686L236,685L238,686L240,685L242,684L244,686L246,687L248,685L250,686H258L260,685L262,686L264,685L266,686L268,685H270L272,686L274,687L276,686L278,688H280L282,687H284L286,688H288L290,687L292,688L294,687L296,686L298,684L300,683L302,687L304,688L306,687H308L310,689H312L314,687H318L320,686H322L324,687H326L328,688L330,686H338L340,687H342L344,686H346L348,685L350,684L352,686H354L356,685H358L360,686L362,687L364,689L366,687L368,686L370,687H372L374,685L376,686H378L380,685L382,686L384,687L386,689L388,688L390,690H392L394,689L396,688H398L400,685L402,686H404L406,687L408,686L410,687H414L416,686L418,687L420,686H422L424,685H426L428,684H430L432,685L434,687L436,688H438L440,691L442,689L444,688H446L448,687H450L452,686H456L458,687L460,686L462,687L464,689L466,688L468,686L470,687H472L474,686H476L478,685H482L484,683L486,684L488,686L490,685H492L494,687L496,688H498L500,689L502,688L504,687L506,688L508,689L510,690L512,692H516L518,693L520,694L522,692L524,689L526,688L528,692L530,691L532,690L534,689L536,690L538,688H540L542,687L544,688L546,687H548L550,686L552,688H554L556,687L558,688L560,686L562,689L564,688L566,687H568L570,688L572,687L574,688L576,689H580L582,686H586L588,687H590L592,688L594,687H600L602,695L604,725L606,726H610L612,727L614,726H618L620,731H624L626,734L628,738H630L632,740L634,739L636,735L638,733L640,732H642L644,731L646,732H648L650,731L652,733L654,732L656,734L658,731L660,730L662,731L664,734L666,733L668,732H670L672,730L674,731L676,732H682L684,733H686L688,731L690,732L692,733L694,732H696L698,731L700,732L702,734H704L706,733L708,734H710L712,733L714,734L716,733L718,732L720,734L722,735H724L726,737L728,735L730,732H732L734,733H738L740,735L742,738L744,735L746,736L748,734L750,735L752,736L754,735L756,736H758L760,735H762L764,734H766L768,735L770,736H772L774,734H778L780,735L782,733H784L786,732L788,734H794L796,736L798,737L800,739L802,737L804,739H806L808,740L810,741L812,740L814,738L816,732L817,733" fill="none" stroke="#00aa00"/>
<path d="M20,705L22,704L24,703H26L28,702H30L32,701H36L38,700L40,701L42,700L44,699H46L48,700L50,702L52,703L54,704L56,706L58,709L60,714L62,716L64,715L66,686L68,685L70,686H74L76,685L78,683L80,684L82,685L84,686L86,687H90L92,689H94L96,691L98,689L100,690L102,691H104L106,692L108,693H110L112,692L114,691L116,689L118,690L120,689H122L124,688L126,689L128,688L130,687L132,688L133,687M135,682H137L139,683H143M148,684H150L152,683L154,684H156L158,685L160,684L162,682H164L166,683L168,690L170,709L172,710H174L176,709L178,710L180,709L182,710H188L190,711H192L194,713L196,714L198,716L200,721L202,725L204,717L206,704L208,692L210,687L212,688L214,689L216,690L218,689H222L224,690H228L230,689L232,690L234,689H236L238,688L240,689H242L244,690H246L248,689H250L252,688L254,689H256L258,688L260,691H264L266,689L268,691H270L272,690L274,691L276,690L278,691H282L284,690H286L288,691L290,692L292,693L294,691H296L298,690H300L302,691H304L306,690L308,691L310,693L312,692H316L318,691H322L324,692L326,693H330L332,692L334,694L336,693L338,692H342L344,693L346,694L348,691L350,692H352L354,693H356L358,692L360,693H370L372,692L374,693L376,692L378,691H388L390,692H394L396,693H398L400,692H402L404,693H406L408,694L410,692L412,694H414L416,693L418,694H428L430,693L432,694H436L438,695L440,694L442,695L444,694H450L452,693H460L462,694L464,693H466L468,692H474L476,693L478,690H480L482,691H488L490,693H492L494,694H498L500,695H502L504,693L506,695H508L510,697H512L514,696L516,698L518,699L520,700L522,699H524L526,698L528,697L530,695L532,694H534L536,693H542L544,694H546L548,693H550L552,694L554,693L556,694L558,693L560,694L562,696L564,695H574L576,694L578,695H582L584,694L586,695H588L590,694L592,693L594,695L596,694L598,693L600,692L602,698L604,726L606,727H608L610,726L612,727H616L618,728H620L622,730L624,731L626,734L628,735L630,736L632,738H634L636,735L638,734H640L642,733L644,735L646,733L648,734L650,733L652,732L654,731L656,732H658L660,734L662,733H664L666,732L668,733H670L672,732L674,731L676,732L678,731L680,733L682,734L684,732L686,733L688,732H690L692,733H704L706,732L708,734H710L712,735H714L716,733L718,732L720,734L722,735L724,736L726,734L728,735L730,734H734L736,735H738L740,736L742,735H748L750,734H754L756,735L758,734H764L766,735H770L772,734L774,733L776,734L778,733H798L800,734H804L806,733L808,734H810L812,735L814,733L816,734L817,733" fill="none" stroke="#008000"/>
<path d="M20,698L22,697L24,694H26L28,696H32L34,695L36,696H46L48,697H50L52,698L54,699L56,702L58,704L60,708L62,709L64,700L66,684L68,683L70,682H74L76,681H80L82,682L84,684L86,685L88,684L90,685L92,686L94,685L96,684L98,686L100,685L102,686L104,685L106,688L108,690L110,689L112,686L114,685H116L118,684H122L124,685L126,684L128,683H133M135,679L137,681L139,680L141,681H143M148,684H156L158,682H160L162,683L164,682L166,683L168,688L170,702L172,704L174,705L176,704H182L184,706L186,705H188L190,706L192,707L194,708L196,709L198,713L200,714L202,717L204,710L206,700L208,689L210,687L212,688H214L216,690L218,689L220,687H224L226,686L228,688L230,686L232,685L234,686H236L238,685L240,684H242L244,683L246,685H250L252,684H258L260,685H266L268,684L270,685L272,686H274L276,685H282L284,684L286,685L288,687L290,685H304L306,686H308L310,687L312,688L314,686L316,685H318L320,686H326L328,685L330,687L332,686L334,687L336,688L338,687L340,686H344L346,684H352L354,685H360L362,686H364L366,685L368,686L370,685L372,686L374,684L376,683L378,685L380,683L382,685H384L386,687L388,688L390,689H392L394,688L396,687L398,686L400,685H402L404,687L406,686H410L412,687L414,686H422L424,685L426,684L428,683L430,685H432L434,684L436,686H438L440,687L442,688H444L446,687L448,686L450,685H454L456,684H458L460,685L462,686L464,685H466L468,686L470,685L472,686H476L478,685L480,684H482L484,683L486,684H488L490,686L492,687L494,688H498L500,686H504L506,687L508,689L510,688L512,690L514,692L516,691H518L520,693L522,692L524,690L526,691H528L530,688L532,687L534,686L536,687L538,686H540L542,685L544,686H550L552,687L554,686H556L558,688L560,687H568L570,688L572,686L574,687H576L578,688H580L582,687H590L592,686L594,685H596L598,684H600L602,694L604,724H608L610,725L612,726H616L618,727L620,729H622L624,731L626,732L628,734L630,735L632,738L634,737L636,735L638,731H642L644,732L646,731L648,730L650,731H656L658,732L660,731L662,732H664L666,731L668,732H670L672,731H674L676,730L678,731H682L684,732H688L690,731L692,732H694L696,731L698,732L700,731L702,732H704L706,733L708,732H710L712,731L714,732L716,733H722L724,735H726L728,733H732L734,731L736,734L738,735H740L742,737L744,735H748L750,734L752,735L754,733L756,734H768L770,735H772L774,732H788L790,733H794L796,735L798,737L800,736L802,739L804,737L806,738H812L814,734L816,733H817" fill="none" stroke="#000"/>
<path d="M20,909H22L24,908L26,907L28,906L30,904L32,907L34,909L36,911L38,908L40,906L42,908H44L46,907H50L52,906H54L56,907L58,909L60,912L62,913H64L66,915H68L70,914L72,918L74,921L76,924L78,923L80,921L82,918L84,920L86,924L88,926L90,925L92,923H94L96,922L98,925L100,927L102,928L104,932L106,926L108,920H110L112,923L114,922L116,921L118,919L120,916L122,915L124,912H126L128,910L130,911H132L133,910M135,908L137,909L139,913L141,916L143,917M148,915H152L154,916L156,917H160L162,919L164,918H166L168,920L170,921L172,920L174,916L176,915L178,916L180,914L182,915H188L190,913H192L194,912L196,911L198,904L200,901L202,919L204,922H210L212,921H216L218,918H220L222,917L224,918L226,917L228,918L230,919L232,917L234,918L236,917L238,916L240,918L242,917L244,918L246,917L248,916L250,917L252,915L254,914L256,915L258,916L260,914H266L268,911L270,910L272,912L274,913L276,914H280L282,915L284,916L286,917H288L290,919L292,920L294,921L296,920L298,918L300,917L302,916L304,915L306,912L308,911L310,910L312,914L314,915L316,917L318,919L320,917L322,916L324,915H326L328,916L330,917L332,919L334,918L336,919L338,918L340,919H342L344,918L346,916L348,918L350,921L352,924H354L356,925L358,923L360,919L362,915L364,917L366,915H368L370,916H374L376,919L378,920H380L382,921L384,919L386,920L388,917L390,915L392,917L394,919L396,921H398L400,922L402,920L404,918L406,915L408,914L410,913L412,911L414,906L416,907L418,911L420,915L422,920L424,919H426L428,916L430,913L432,910L434,908L436,912L438,918L440,923L442,920L444,918L446,919L448,918H458L460,921L462,924L464,923L466,925L468,926L470,925L472,927L474,921L476,916L478,911H480L482,912L484,909L486,911L488,915L490,916L492,915L494,913L496,911H498L500,914L502,917L504,920L506,923L508,920L510,917H512L514,920L516,919L518,923L520,924L522,923L524,921L526,919L528,916H530L532,917L534,919L536,921H538L540,920L542,919H546L548,918H550L552,917L554,916H560L562,914L564,915L566,914H568L570,916L572,915L574,914H576L578,915L580,917L582,915L584,916L586,914H588L590,912L592,904L594,891L596,888L598,890H600L602,888L604,887L606,885L608,882L610,877L612,876L614,875L616,874H618L620,875L622,876H624L626,875L628,876L630,879L632,882L634,883L636,879L638,875H640L642,876L644,875L646,872H648L650,874H654L656,877L658,881L660,883L662,882L664,879L666,875L668,874L670,873L672,872L674,870L676,873L678,875L680,879H686L688,878L690,876L692,877L694,875L696,876L698,877L700,875L702,874L704,875L706,874L708,873L710,874L712,872L714,871L716,872L718,874L720,875L722,876L724,877H726L728,875L730,877H734L736,874L738,876L740,878L742,880L744,885L746,880L748,877H750L752,878L754,877L756,876H758L760,878L762,876L764,875H766L768,877H772L774,873L776,872L778,873L780,874L782,876L784,874H786L788,875H794L796,874L798,873L800,875H802L804,874L806,873L808,872L810,871L812,872L814,871L816,876L817,881" fill="none" stroke="#000"/>
<path d="M20,909H22L24,908L26,907L28,905H30L32,906H34L36,907H40L42,908L44,907L46,908L48,907L50,905H52L54,906L56,905L58,907L60,909L62,911L64,913L66,915H70L72,917L74,921L76,923L78,920H82L84,921L86,923L88,924H92L94,923L96,921L98,923L100,925L102,927L104,931L106,926L108,920H110L112,921H114L116,922L118,919L120,917L122,914L124,912H126L128,911L130,912L132,911H133M135,910H137L139,914L141,916L143,918M148,914L150,915H152L154,916L156,917L158,916L160,918L162,917L164,918L166,919L168,920L170,919L172,921L174,917L176,914L178,915H180L182,916L184,914H190L192,913L194,912H196L198,903L200,901L202,921H204L206,922L208,921L210,920H212L214,919H216L218,920L220,919L222,918H224L226,919H234L236,917L238,918H246L248,917H254L256,915H260L262,916L264,915L266,917L268,914H270L272,912L274,913L276,912L278,913L280,914L282,915L284,916L286,917L288,918H290L292,919L294,920L296,921L298,919L300,918L302,917L304,915L306,913L308,912L310,910L312,913L314,915L316,918L318,919L320,918L322,917L324,916L326,915L328,917L330,918L332,920H336L338,919L340,920L342,917L344,918H348L350,920L352,921L354,923L356,924L358,923L360,918L362,914L364,915H368L370,916H372L374,918L376,920L378,921H380L382,920L384,918L386,919L388,918L390,917L392,918L394,919H396L398,920H400L402,919L404,918L406,915H408L410,911L412,908L414,907L416,909L418,912L420,917L422,921L424,919L426,915H428L430,913L432,911H434L436,914L438,917L440,920H442L444,919L446,917L448,918L450,919L452,918H454L456,920L458,922L460,921H464L466,922L468,923L470,925H472L474,920L476,915L478,912H480L482,910L484,909L486,912L488,915L490,919L492,916L494,913L496,911L498,912L500,915L502,918L504,921L506,925L508,922L510,919L512,917H514L516,919L518,921L520,923L522,922H524L526,919L528,918L530,917L532,918L534,919L536,920L538,919H546L548,918H550L552,917H560L562,916H564L566,914H570L572,915L574,914L576,915L578,913H582L584,914L586,913L588,912H590L592,903L594,893L596,888L598,890H600L602,889L604,890L606,885L608,881L610,876H612L614,875L616,873L618,874L620,875L622,874L624,875L626,874L628,875L630,878L632,882L634,883L636,879L638,876L640,874L642,875L644,873H646L648,872L650,873L652,875L654,877L656,879L658,881L660,882L662,881L664,880L666,878L668,875H670L672,873H674L676,875L678,876L680,878L682,879H686L688,878H694L696,877H700L702,875H704L706,874L708,873L710,874L712,872H714L716,871L718,873L720,875L722,876L724,878L726,876L728,877L730,875H736L738,876L740,878L742,879L744,886L746,881L748,877L750,878L752,877H758L760,876H762L764,873L766,875L768,878L770,876H772L774,874L776,873H778L780,874L782,873H786L788,874L790,873L792,874H794L796,872L798,873L800,875L802,876L804,875L806,874L808,873H810L812,871H814L816,873L817,880" fill="none" stroke="#000"/>
<path d="M20,910L22,909H24L26,907L28,906H30L32,908L34,909L36,908H38L40,910L42,909H44L46,907L48,905H54L56,906L58,909L60,911L62,912L64,915L66,916L68,915L70,916L72,918L74,919L76,922L78,921L80,920L82,921L84,922L86,924L88,925H92L94,923L96,922L98,924L100,925L102,927L104,930L106,925L108,919L110,921H114L116,923L118,919L120,916L122,915L124,913L126,911H128L130,912H133M135,910L137,914L139,915L141,917L143,918M148,917L150,915L152,916L154,915L156,916L158,917L160,918L162,917H164L166,918L168,920L170,921L172,919L174,916L176,915H178L180,917L182,913L184,915L186,914L188,916L190,915L192,914L194,913H196L198,903L200,902L202,920L204,922L206,923L208,921L210,920H214L216,921L218,919L220,920H226L228,919H236L238,917L240,918H242L244,917H246L248,918H250L252,917H254L256,916H258L260,915L262,917L264,916L266,917L268,913H270L272,910L274,912L276,915L278,914L280,913L282,916L284,917L286,918L288,919L290,918L292,920H294L296,921L298,920L300,918H302L304,917L306,915L308,913L310,912L312,914L314,916L316,917L318,920H320L322,918L324,919L326,918H330L332,920L334,921L336,919H340L342,917L344,916H346L348,918L350,921H354L356,923H358L360,919L362,916L364,914L366,916L368,917L370,916H372L374,919L376,924L378,923L380,921L382,920L384,918H386L388,919L390,920H394L396,921H398L400,920H402L404,918H406L408,916L410,913L412,910L414,908L416,911L418,914L420,917L422,918L424,919L426,918L428,917L430,914L432,912L434,911L436,915L438,919L440,922L442,921L444,920L446,918L448,919L450,921H454L456,922L458,921H462L464,922L466,923L468,924H470L472,925L474,919L476,916L478,911L480,912L482,913L484,912L486,913L488,916L490,920L492,917L494,915L496,912L498,911L500,914L502,918L504,921L506,924L508,921L510,918L512,917L514,919L516,922L518,923L520,924L522,921H524L526,919H530L532,920L534,919H540L542,920L544,919L546,917L548,920L550,919L552,922L554,919L556,918L558,917L560,916L562,917L564,916L566,918L568,917H570L572,916H574L576,914H580L582,916L584,914L586,913L588,914L590,913L592,904L594,895L596,891L598,889L600,890L602,889H604L606,888L608,883L610,877L612,875L614,876L616,875H618L620,876H624L626,874H628L630,878L632,882L634,883L636,882L638,877L640,876L642,875H644L646,874H650L652,875L654,877L656,880H658L660,883L662,882L664,880L666,878L668,876L670,874L672,872L674,874L676,875L678,877H680L682,880L684,878L686,879L688,877L690,878H696L698,876H702L704,877H706L708,875L710,873L712,872L714,870L716,871L718,874L720,873L722,876L724,878H726L728,876L730,877H734L736,876L738,878L740,879L742,881L744,886L746,882L748,879H750L752,881L754,877H756L758,878L760,877L762,876L764,875L766,876L768,877L770,879L772,876L774,875H778L780,876L782,874H786L788,875L790,874L792,873H798L800,874L802,876L804,875H806L808,874L810,872L812,873H814L816,877L817,883" fill="none" stroke="#0000ee"/>
<path d="M20,912H22L24,911H26L28,910H30L32,911H34L36,910L38,909H44L46,908L48,907L50,906H56L58,907L60,909L62,910L64,912L66,914L68,915L70,917L72,919H74L76,921H78L80,922H90L92,923L94,922H98L100,921H118L120,920L122,921L124,920H133M135,913L137,916L139,918L141,919L143,921M148,924L150,923L152,924L154,922H156L158,923H160L162,922L164,921H166L168,922L170,921L172,919L174,917L176,916H178L180,917L182,915L184,916H206L208,915H212L214,916H236L238,915L240,916H242L244,915L246,916H256L258,915H260L262,916H266L268,915L270,916L272,915L274,912L276,913H280L282,915L284,916L286,917L288,918H290L292,919L294,920L296,921L298,919L300,918L302,916H304L306,914L308,912L310,911L312,913L314,915L316,917L318,919L320,918L322,917H324L326,916L328,917L330,918L332,920H334L336,919H338L340,918L342,917H344L346,916L348,918L350,920H352L354,922L356,923H358L360,919L362,915L364,914L366,915L368,916H372L374,918L376,921H378L380,920L382,919L384,918H390L392,919H394L396,920H402L404,917L406,916L408,914L410,911L412,909L414,907L416,909L418,913L420,916L422,918L424,919L426,917L428,916L430,913L432,912L434,911L436,914L438,918L440,921L442,920L444,919L446,918H448L450,919L452,920H460L462,921L464,922H466L468,923L470,924L472,925L474,919L476,915L478,911L480,912L482,911H484L486,913L488,916L490,919L492,916L494,914L496,911H498L500,914L502,918L504,921L506,924L508,921L510,918L512,916L514,918L516,920L518,922L520,923L522,921L524,920L526,919L528,918H530L532,919H544L546,917L548,919L550,918L552,919L554,918L556,917L558,916H562L564,915L566,916L568,915H574L576,914H582L584,913H588L590,912L592,904L594,894L596,890L598,889H604L606,887L608,882L610,876L612,874L614,875L616,874H618L620,875H624L626,874H628L630,878L632,882H634L636,880L638,876L640,875L642,874L644,873L646,872H648L650,873L652,875L654,877L656,879L658,880L660,882L662,881L664,879L666,878L668,876L670,874L672,871L674,873L676,874L678,876L680,877L682,879L684,878H686L688,877H696L698,876H704L706,875L708,874L710,872L712,871L714,870L716,871L718,873H720L722,876L724,877H726L728,876H734L736,875L738,877H740L742,880L744,886L746,881L748,878H750L752,879L754,877H758L760,876L762,875L764,874L766,875L768,877L770,878L772,876L774,874H776L778,873L780,874L782,873H786L788,874H790L792,873H794L796,872L798,873H800L802,875L804,874H806L808,873L810,871L812,872L814,871L816,875L817,881" fill="none" stroke="#0000ee"/>
<path d="M20,912L22,909L24,907H26L28,905H30L32,904H34L36,905H38L40,903H42L44,904H48L50,903L52,905L54,904H56L58,906L60,909L62,912L64,913L66,915L68,917H70L72,919L74,920L76,922H80L82,921H86L88,920H98L100,918L102,917L104,918L106,916L108,918L110,915H112L114,917L116,916L118,915L120,916H122L124,914L126,915L128,914H132L133,915M135,911L137,914L139,916L141,918L143,920M148,920H150L152,918H156L158,919H164L166,918L168,914L170,913L172,909L174,908L176,909L178,908H180L182,909H186L188,908H192L194,909H200L202,914H204L206,915H208L210,916H222L224,917L226,916H230L232,914L234,915L236,917L238,916L240,917L242,915H244L246,917L248,918L250,916L252,918L254,916H258L260,915L262,917L264,919L266,916L268,917H272L274,918H276L278,916L280,917L282,918H284L286,917L288,916L290,917H292L294,918L296,916H306L308,915L310,916L312,917H314L316,918L318,916L320,915L322,916L324,917H326L328,916L330,917H336L338,916L340,918H344L346,917L348,918H350L352,917H360L362,918H364L366,916L368,917H376L378,918H382L384,916L386,917H390L392,918L394,919L396,918H398L400,916L402,917L404,919L406,918H410L412,917H414L416,916L418,917L420,918L422,917L424,918L426,917H428L430,919L432,917H434L436,916L438,917H440L442,918H450L452,916H454L456,918L458,917H470L472,918H486L488,917L490,918L492,917H496L498,918L500,917H504L506,919H508L510,918L512,917L514,918H516L518,919H520L522,918H524L526,917L528,919L530,918L532,919H536L538,918H540L542,917H546L548,918H552L554,917H560L562,915L564,916H568L570,915L572,914L574,915L576,914H578L580,915L582,913L584,914L586,913H588L590,912L592,903L594,893L596,889H600L602,887L604,888L606,887L608,882L610,876L612,875L614,873L616,874H624L626,876L628,875H632L634,874L636,875H638L640,874L642,875L644,874L646,875L648,876L650,874L652,875L654,874H658L660,875H662L664,874L666,875H670L672,874H674L676,875H678L680,874L682,875H686L688,874H690L692,876H694L696,875H698L700,874H702L704,875H710L712,874H714L716,875H722L724,874L726,875H728L730,874H736L738,875L740,876L742,875H744L746,874H748L750,875H752L754,874L756,875H760L762,874H766L768,876L770,875H772L774,874L776,875L778,876L780,875L782,873L784,874H786L788,873L790,874H792L794,875L796,873H798L800,874L802,875L804,874L806,875H808L810,874L812,875L814,873L816,874L817,872" fill="none" stroke="#0000ee"/>
<path d="M20,948H22L24,950L26,948L28,947L30,946L32,948L34,947L36,948L38,949L40,948L42,946L44,945L46,944L48,947L50,950H52L54,953H56L58,960L60,966H62L64,961L66,942H68L70,940L72,937H74L76,939L78,936L80,937H86L88,939L90,940L92,941L94,942L96,943L98,941L100,943H102L104,944L106,945L108,947L110,946H112L114,943L116,940L118,939L120,940H122L124,941L126,940L128,939H130L132,940L133,939M135,937H137L139,936L141,938H143M148,940L150,941L152,938L154,939H158L160,938L162,939L164,938L166,937L168,945L170,959L172,965L174,967H176L178,968H180L182,967H184L186,968L188,967L190,969H192L194,970L196,972L198,978L200,980L202,983L204,976L206,966L208,956L210,948L212,947L214,949L216,948L218,950H220L222,952L224,949L226,947L228,946L230,947L232,946L234,945L236,944L238,943H240L242,945H244L246,947L248,945L250,949L252,948L254,951L256,949L258,948L260,947L262,946H264L266,945L268,947L270,948H276L278,949L280,948L282,946H290L292,948H294L296,947L298,949L300,950L302,947L304,946H306L308,945L310,943L312,944L314,945H324L326,944H328L330,945L332,944H334L336,945L338,944L340,945H344L346,949L348,948L350,947L352,948L354,946L356,945H358L360,946L362,944L364,945H368L370,944L372,943L374,946L376,944L378,943L380,944L382,943L384,942L386,943L388,942L390,945L392,946L394,947H396L398,948L400,947L402,945H404L406,947L408,943H412L414,946L416,948H420L422,947L424,945L426,943H434L436,944H440L442,945L444,944L446,947L448,949L450,947H452L454,946L456,945L458,944H462L464,945L466,947L468,946L470,948L472,949H476L478,946L480,947L482,946L484,945L486,944L488,942L490,943H496L498,945H500L502,948L504,947H508L510,946L512,950L514,951L516,949L518,950L520,951L522,953L524,952H526L528,951L530,948H532L534,947H536L538,948L540,947L542,950L544,948H546L548,947L550,945H556L558,944L560,947H562L564,948H566L568,946L570,945H572L574,946H576L578,945H580L582,944L584,945H590L592,946L594,945L596,944L598,945L600,943L602,949L604,967L606,986H608L610,988L612,987L614,989L616,990H620L622,989L624,991H626L628,992H630L632,995L634,993H636L638,991H640L642,992L644,991L646,992L648,991L650,989L652,992L654,995L656,994L658,992H660L662,990L664,988H666L668,990L670,989H690L692,991L694,989L696,990L698,992L700,991H702L704,990H706L708,991L710,990L712,989L714,987L716,988L718,991L720,990L722,992L724,993H726L728,994L730,992L732,990L734,989L736,991L738,992H740L742,994L744,991L746,992H748L750,994L752,993L754,994L756,993H758L760,992L762,991L764,992L766,991H770L772,993L774,990L776,989L778,988L780,990L782,992L784,990H786L788,988H790L792,991L794,990L796,991L798,992H800L802,993L804,994H808L810,995L812,996L814,993L816,990L817,989" fill="none" stroke="#000"/>
<path d="M20,951L22,949H24L26,948L28,947L30,948L32,947L34,948L36,949L38,948L40,950L42,949L44,947L46,946L48,947L50,948L52,951L54,953L56,955L58,958L60,964L62,967L64,960L66,942L68,940H70L72,939L74,937L76,938L78,936H80L82,938H84L86,939L88,938L90,940L92,941L94,940L96,941H98L100,942H102L104,943L106,945L108,947L110,945L112,944L114,942L116,940L118,939L120,940H122L124,942L126,939H133M135,937L137,936L139,937L141,936L143,938M148,941L150,940H152L154,941L156,939L158,938H166L168,945L170,959L172,967L174,966H176L178,968L180,966L182,967H186L188,968L190,969H192L194,971L196,973L198,977L200,979L202,984L204,975L206,965L208,957L210,949L212,950H218L220,951H222L224,949H226L228,947L230,946H236L238,945L240,944L242,945H244L246,947H248L250,948H252L254,949H256L258,948H264L266,946L268,947H272L274,946L276,947L278,946H280L282,944H284L286,945H288L290,946L292,947L294,946L296,948H300L302,945L304,946L306,945L308,944L310,943L312,944L314,945H318L320,947H324L326,946L328,944H330L332,943H334L336,944H338L340,945L342,946L344,947H348L350,946H352L354,945H356L358,943L360,944H362L364,945L366,944L368,945L370,944L372,945L374,944L376,945L378,943H386L388,944L390,946H394L396,947L398,948H400L402,947L404,946H408L410,944L412,945H414L416,946L418,947L420,948L422,946L424,945H426L428,944H430L432,943L434,944L436,943L438,944H440L442,946H444L446,945L448,946L450,945H452L454,944L456,945L458,944L460,946H462L464,947L466,946L468,947L470,948L472,949L474,948L476,947L478,946H480L482,945H484L486,944L488,943L490,944L492,943H496L498,944L500,943L502,945L504,946L506,945L508,946L510,948L512,949L514,950H516L518,951L520,953L522,951L524,950L526,951L528,949L530,948L532,945L534,946H536L538,948H542L544,949L546,947H548L550,946L552,945L554,946H556L558,948L560,947H570L572,946H576L578,945H580L582,946L584,945L586,946L588,945H592L594,944H596L598,943L600,944L602,951L604,968L606,987L608,988H610L612,989L614,988L616,989H618L620,990L622,989L624,990L626,992L628,993L630,995H632L634,994L636,991L638,990H642L644,989L646,990L648,991H652L654,990L656,991L658,990L660,989L662,990L664,989H666L668,988L670,989L672,987H674L676,988H678L680,987L682,988H684L686,989H694L696,991H698L700,990H702L704,991L706,990L708,989L710,988L712,990L714,988L716,989L718,991H720L722,992H724L726,993L728,991L730,992H732L734,991L736,992L738,994H740L742,995L744,993L746,992L748,993L750,991L752,992H754L756,993H758L760,992H768L770,993L772,990H776L778,989L780,990L782,989H786L788,990H792L794,991L796,992L798,993H800L802,995L804,994L806,995L808,994L810,993L812,995L814,992L816,990H817" fill="none" stroke="#000"/>
<path d="M20,950L22,949L24,948H26L28,947H30L32,948L34,950L36,953L38,952H40L42,950L44,949L46,946L48,949H50L52,952L54,954L56,957L58,959L60,965L62,968L64,962L66,942H68L70,940L72,938H76L78,936L80,937H82L84,939L86,940H88L90,939L92,942L94,941L96,942L98,941L100,943L102,944L104,943L106,944L108,945H110L112,944L114,943L116,942H122L124,939L126,941L128,940L130,939H133M135,934L137,937L139,936L141,937H143M148,941L150,940L152,941L154,940H156L158,939H160L162,938H164L166,940L168,945L170,960L172,967H176L178,969H180L182,968L184,967L186,968L188,970H190L192,972L194,971L196,974L198,978L200,982L202,986L204,975L206,965L208,955L210,950L212,949L214,947L216,951H222L224,950H226L228,947L230,948L232,947H236L238,946L240,945H244L246,948L248,947H250L252,949L254,950L256,951L258,949L260,948L262,950L264,947L266,945L268,946L270,947H274L276,948H278L280,947L282,945H284L286,946L288,947H292L294,948L296,949L298,948L300,950H302L304,947L306,945H308L310,943L312,945H316L318,947L320,948L322,947L324,948L326,946L328,944H330L332,943H336L338,944L340,945L342,948H344L346,946H350L352,947L354,946L356,947L358,946L360,945L362,947L364,945L366,946L368,947L370,946L372,945L374,944L376,945L378,944L380,945L382,944L384,942L386,944H388L390,945L392,946L394,948H396L398,947H402L404,946L406,947L408,945L410,946L412,944H414L416,945L418,946L420,947L422,946L424,945H426L428,944H430L432,945L434,944L436,945H438L440,946H448L450,945L452,944L454,946L456,944H458L460,946L462,947H466L468,949L470,948L472,950L474,947L476,946H478L480,944L482,945L484,946L486,945L488,943H490L492,944L494,945L496,944L498,948L500,946L502,947H504L506,948H508L510,949H512L514,951L516,952H518L520,954L522,951H524L526,950L528,949L530,948L532,949L534,947H536L538,950L540,952L542,950H544L546,949L548,947L550,946L552,947L554,946H560L562,947L564,948L566,949L568,948L570,947H572L574,948L576,947L578,946L580,947L582,946L584,945H586L588,944L590,946H596L598,945L600,944L602,952L604,969L606,988L608,989L610,990L612,988H614L616,990L618,992L620,990L622,991H624L626,992L628,993L630,994H634L636,993L638,992L640,991H642L644,990L646,991H650L652,994L654,992L656,991L658,989L660,990L662,989L664,990L666,989H668L670,988L672,987H674L676,990H678L680,989H682L684,990L686,991L688,989L690,990H692L694,989L696,991L698,990L700,992L702,991H704L706,990L708,991H710L712,990L714,988L716,989L718,991L720,992L722,991L724,993H726L728,992L730,990H734L736,993L738,994L740,996L742,995L744,992L746,993H750L752,994H754L756,995H758L760,994L762,992L764,993H766L768,992H770L772,991H776L778,992L780,993L782,992L784,989L786,990H792L794,992L796,994H808L810,995H812L814,994L816,991L817,990" fill="none" stroke="#0000ee"/>
<path d="M20,951H22L24,949L26,950L28,948H32L34,949H38L40,950H42L44,948L46,945L48,947L50,949L52,951L54,953L56,956L58,961L60,966L62,968L64,962L66,942L68,940H70L72,939L74,937L76,938L78,935L80,936L82,938H84L86,939H90L92,941H98L100,942H104L106,944L108,945L110,944L112,943L114,942L116,941H118L120,940H122L124,939H126L128,940H132L133,939M135,937L137,938L139,936H143M148,940L150,941L152,939L154,940H156L158,939L160,937L162,936L164,938H166L168,945L170,960L172,966L174,967L176,968H178L180,966L182,967L184,968H188L190,967L192,971H194L196,974L198,976L200,981L202,986L204,976L206,966L208,957L210,949L212,951L214,950H216L218,951L220,950L222,952L224,950L226,948H228L230,947L232,945H238L240,944L242,945H244L246,946L248,947H252L254,948L256,949L258,948L260,947L262,948L264,946L266,947H270L272,948L274,947L276,946H278L280,945L282,944H284L286,945L288,946H290L292,948H296L298,947L300,946H304L306,944H308L310,945L312,944L314,945H320L322,947L324,946L326,947L328,945H330L332,944H336L338,943L340,945L342,946H346L348,947L350,946H356L358,945L360,944L362,945H364L366,943L368,944H372L374,945H376L378,944L380,942H382L384,941H386L388,942L390,944L392,945L394,947L396,948L398,949L400,948H402L404,946L406,944L408,945H412L414,946H416L418,945L420,947H424L426,945L428,944H430L432,943H434L436,944L438,943L440,944L442,945H444L446,946H450L452,945L454,944H456L458,945H460L462,946L464,945L466,946L468,947L470,948H472L474,947L476,946H478L480,944L482,945L484,944L486,945L488,944H490L492,943H496L498,945H502L504,946H506L508,948H510L512,949L514,950H516L518,952H520L522,951H524L526,950L528,949L530,948L532,945H534L536,946L538,947L540,948H544L546,947H550L552,946L554,944L556,945L558,947H564L566,948L568,947H570L572,945L574,947L576,946L578,945L580,944L582,946H584L586,945L588,944H594L596,945L598,944L600,943L602,950L604,968L606,988H614L616,987L618,989L620,988L622,989L624,990L626,991L628,993L630,995L632,996L634,994L636,991L638,989H640L642,988L644,990H650L652,991L654,990H656L658,991H662L664,989L666,988L668,987H670L672,988H674L676,989L678,988H686L688,990H698L700,991L702,992L704,990H706L708,991L710,990L712,988H716L718,990L720,992L722,993H724L726,992L728,991L730,989L732,991L734,990L736,991L738,993L740,994L742,995L744,993L746,992H752L754,993H758L760,994L762,993L764,994L766,992H770L772,990L774,989H776L778,990H790L792,991L794,990L796,992L798,991L800,994L802,992L804,993H806L808,995L810,994H812L814,993L816,991L817,989" fill="none" stroke="#0000ee"/>
<path d="M20,1165L22,1162L24,1161L26,1159L28,1158H30L32,1160H38L40,1159L42,1158H44L46,1159L48,1161L50,1160L52,1159H54L56,1160L58,1163L60,1168L62,1171L64,1170L66,1168L68,1166L70,1168L72,1169L74,1170L76,1172H82L84,1173L86,1176L88,1175L90,1177L92,1176L94,1173L96,1171L98,1174L100,1177L102,1178L104,1179L106,1176L108,1177L110,1175L112,1178H114L116,1174L118,1169L120,1167L122,1165L124,1163L126,1165H132L133,1164M135,1162L137,1163L139,1164L141,1165L143,1168M148,1175L150,1176L152,1174L154,1173L156,1175L158,1174L160,1172L162,1170L164,1172L166,1171L168,1168L170,1166L172,1165L174,1163H178L180,1162L182,1163L184,1161L186,1160L188,1159L190,1160L192,1162L194,1163L196,1165L198,1168L200,1173L202,1174H204L206,1172H208L210,1170L212,1173L214,1175H216L218,1173H222L224,1172L226,1169H228L230,1170L232,1169H234L236,1170H238L240,1172L242,1171L244,1172L246,1173L248,1171H252L254,1172L256,1171L258,1170H260L262,1171L264,1169L266,1168L268,1167H272L274,1168L276,1169L278,1167L280,1169H282L284,1170L286,1172H288L290,1170L292,1171L294,1172H298L300,1173H302L304,1171L306,1170L308,1168L310,1167L312,1164L314,1165L316,1167L318,1166L320,1167L322,1166L324,1167H326L328,1171L330,1170L332,1172L334,1170H336L338,1172L340,1173L342,1172H346L348,1173L350,1171H352L354,1170H356L358,1169H360L362,1171L364,1170H366L368,1169L370,1170H374L376,1171L378,1170L380,1171L382,1172L384,1174L386,1175L388,1174L390,1175H392L394,1174L396,1176L398,1175L400,1172L402,1170H406L408,1169L410,1167H412L414,1165H416L418,1169L420,1170L422,1172L424,1173L426,1172L428,1171L430,1169L432,1168L434,1167L436,1168L438,1169L440,1171L442,1170H444L446,1171L448,1173L450,1177L452,1174L454,1173H456L458,1175H460L462,1176L464,1174L466,1171L468,1173H470L472,1174L474,1171L476,1169L478,1166L480,1165H482L484,1167H488L490,1168L492,1169L494,1167L496,1164L498,1162L500,1163L502,1164L504,1165L506,1168H508L510,1167H512L514,1169L516,1171L518,1174L520,1177L522,1176L524,1175H526L528,1176L530,1175L532,1176L534,1174L536,1172L538,1171L540,1170L542,1169L544,1168L546,1164L548,1161H550L552,1159H554L556,1160L558,1159H560L562,1160L564,1158H568L570,1159L572,1158H574L576,1161H578L580,1160L582,1158L584,1157L586,1156H590L592,1155L594,1143L596,1140L598,1139L600,1143H602L604,1146L606,1148L608,1146L610,1143L612,1139L614,1136H616L618,1139L620,1138L622,1139L624,1137L626,1139L628,1141L630,1142L632,1146H634L636,1144L638,1142L640,1140L642,1137H644L646,1136L648,1139H652L654,1141L656,1143L658,1145L660,1147L662,1144L664,1142L666,1140H668L670,1139L672,1138L674,1137L676,1141L678,1142L680,1144L682,1143L684,1142L686,1141L688,1142H690L692,1141H696L698,1139H700L702,1138H708L710,1135H712L714,1134L716,1136L718,1139H720L722,1141L724,1144L726,1143L728,1140H730L732,1139H736L738,1138L740,1143L742,1146L744,1147L746,1144L748,1142L750,1140H752L754,1142L756,1141L758,1143L760,1142L762,1138H764L766,1137L768,1141H770L772,1143L774,1139H776L778,1138H786L788,1137L790,1136H792L794,1134L796,1137H798L800,1140L802,1141L804,1137H806L808,1135L810,1134L812,1135H814L816,1139L817,1141" fill="none" stroke="#000"/>
<path d="M20,1166L22,1163H24L26,1161L28,1160L30,1156L32,1157L34,1158L36,1159L38,1160H40L42,1161H44L46,1160L48,1157L50,1158L52,1159H56L58,1161L60,1164L62,1169L64,1170L66,1171L68,1168L70,1169H74L76,1171H80L82,1172H84L86,1174H88L90,1177L92,1176L94,1175L96,1171L98,1173L100,1175L102,1178L104,1176L106,1174L108,1173H110L112,1174L114,1176L116,1173L118,1169L120,1167L122,1168L124,1167H126L128,1169L130,1168H133M135,1166H139L141,1170L143,1171M148,1173L150,1174L152,1173L154,1171H156L158,1172L160,1171L162,1170L164,1172L166,1171L168,1168L170,1165L172,1162L174,1159L176,1161L178,1160H180L182,1159L184,1158L186,1160L188,1161H192L194,1165L196,1167L198,1170L200,1174H202L204,1171L206,1168L208,1159L210,1158H214L216,1157L218,1158H222L224,1157L226,1158H230L232,1160L234,1158L236,1160L238,1158L240,1159L242,1160L244,1159L246,1161L248,1160H250L252,1162H258L260,1161L262,1160H264L266,1158L268,1156L270,1157H274L276,1158L278,1159L280,1158L282,1159L284,1161H286L288,1163L290,1162H292L294,1161L296,1162L298,1163H300L302,1162L304,1161H306L308,1158L310,1159L312,1155H314L316,1157L318,1156L320,1157L322,1158H326L328,1160H334L336,1161L338,1160H340L342,1159L344,1160L346,1159L348,1158L350,1159L352,1157L354,1156H356L358,1157H362L364,1158L366,1159H370L372,1160H380L382,1161H386L388,1162L390,1160L392,1159H394L396,1157H400L402,1156L404,1158H406L408,1157L410,1156H412L414,1157H418L420,1159L422,1158L424,1159L426,1160L428,1158H432L434,1157H436L438,1160L440,1161L442,1162H444L446,1163L448,1162H450L452,1161H454L456,1160L458,1159L460,1160L462,1161L464,1162L466,1160L468,1158L470,1157L472,1156L474,1157H476L478,1154H480L482,1155L484,1154L486,1155H488L490,1157L492,1155L494,1154H496L498,1155L500,1154L502,1155L504,1156H508L510,1158L512,1157L514,1158L516,1159H520L522,1160L524,1161L526,1160L528,1161H530L532,1159L534,1157H536L538,1156L540,1157L542,1154L544,1155H548L550,1154L552,1155L554,1153H556L558,1154L560,1153L562,1152L564,1154L566,1153H570L572,1152L574,1151L576,1150L578,1152L580,1151H582L584,1149L586,1150L588,1149L590,1150H592L594,1145L596,1139L598,1137L600,1140L602,1141L604,1143L606,1144L608,1140H610L612,1138H614L616,1135H622L624,1136L626,1137L628,1138L630,1140L632,1143L634,1144L636,1142L638,1139L640,1138L642,1136L644,1135H646L648,1136L650,1138H652L654,1141L656,1142L658,1143L660,1144H662L664,1142L666,1140L668,1137L670,1136L672,1134H674L676,1135L678,1138L680,1141L682,1142L684,1140H686L688,1139L690,1140H692L694,1138H696L698,1137L700,1135L702,1137H704L706,1136L708,1135L710,1132L712,1131L714,1133H716L718,1135L720,1137L722,1138L724,1142L726,1140L728,1139L730,1140L732,1137L734,1136H736L738,1137L740,1140L742,1142L744,1143L746,1141L748,1139L750,1137L752,1138L754,1139L756,1140L758,1142L760,1139L762,1136H764L766,1139L768,1142L770,1141L772,1139L774,1137L776,1135H780L782,1137L784,1138L786,1135H788L790,1134L792,1133H794L796,1135L798,1136H802L804,1135L806,1133L808,1134H810L812,1132L814,1131L816,1136L817,1141" fill="none" stroke="#c80000"/>
<path d="M20,1165L22,1162L24,1160H26L28,1157L30,1155L32,1156L34,1158H36L38,1159L40,1158H42L44,1159H46L48,1160L50,1158L52,1159L54,1158H56L58,1160L60,1165L62,1170L64,1169L66,1167L68,1166H70L72,1168H74L76,1169L78,1171L80,1170L82,1171H84L86,1173L88,1174L90,1176L92,1174L94,1171L96,1169L98,1172L100,1173L102,1175L104,1173L106,1172L108,1171L110,1172L112,1173L114,1175L116,1171L118,1167H120L122,1166H124L126,1167H128L130,1169L132,1168H133M135,1165L137,1166L139,1167L141,1169H143M148,1174H150L152,1173L154,1172H160L162,1171L164,1169H166L168,1168L170,1165L172,1162L174,1159H176L178,1157L180,1159H182L184,1160L186,1158L188,1159L190,1158L192,1160L194,1161L196,1163L198,1168L200,1172H202L204,1171L206,1169L208,1159L210,1158H214L216,1157L218,1158L220,1157H222L224,1159H228L230,1158H236L238,1159L240,1158L242,1157L244,1159L246,1161L248,1160H250L252,1161L254,1160L256,1161L258,1160H260L262,1158L264,1159L266,1158H268L270,1157L272,1156L274,1157L276,1156L278,1157L280,1160L282,1159L284,1160H288L290,1161L292,1159L294,1160L296,1161L298,1160L300,1161L302,1162L304,1160H306L308,1158L310,1157L312,1155L314,1156H320L322,1158H324L326,1159H332L334,1160H336L338,1161H342L344,1159H346L348,1157H350L352,1155L354,1156L356,1157H362L364,1158H366L368,1159H370L372,1160L374,1159L376,1160L378,1161L380,1160L382,1161L384,1160H394L396,1158H398L400,1157L402,1156H408L410,1154H414L416,1155L418,1157L420,1158H422L424,1159L426,1157L428,1158H430L432,1156H434L436,1157L438,1158L440,1159L442,1161H444L446,1160L448,1159L450,1160L452,1159H456L458,1158H460L462,1159H464L466,1158L468,1157L470,1158L472,1157L474,1155H476L478,1154L480,1152H482L484,1154L486,1155H492L494,1154L496,1152H498L500,1153L502,1155L504,1154L506,1156H508L510,1157L512,1156L514,1157L516,1159L518,1160L520,1159H524L526,1160H528L530,1159H536L538,1156L540,1155L542,1154H544L546,1153H548L550,1154L552,1153L554,1152H560L562,1151L564,1152H570L572,1151H574L576,1150H582L584,1151L586,1149L588,1150L590,1148L592,1147L594,1144L596,1138L598,1137L600,1140L602,1142L604,1143L606,1144L608,1142L610,1139L612,1136L614,1135H624L626,1136H628L630,1138L632,1141L634,1143L636,1141L638,1138L640,1136H642L644,1134L646,1133L648,1135H650L652,1138L654,1139L656,1140L658,1141L660,1142L662,1143L664,1141L666,1140L668,1139L670,1136L672,1134L674,1135L676,1137L678,1138L680,1140L682,1141L684,1140H686L688,1139H694L696,1137L698,1136L700,1137H702L704,1136L706,1134L708,1133L710,1132L712,1131H714L716,1133L718,1134L720,1135L722,1137L724,1139L726,1138L728,1139L730,1137H734L736,1136H738L740,1139L742,1143L744,1144L746,1141L748,1139L750,1137L752,1138H754L756,1139H758L760,1138L762,1136L764,1137L766,1139L768,1142L770,1140L772,1139L774,1137L776,1136L778,1133H780L782,1134L784,1135H786L788,1134H794L796,1133L798,1135L800,1136L802,1137L804,1135L806,1134L808,1132H810L812,1131L814,1130L816,1134L817,1138" fill="none" stroke="#c80000"/>
<path d="M20,1165L22,1162L24,1161L26,1160L28,1158L30,1156L32,1158H34L36,1159L38,1160H40L42,1161H44L46,1160H54L56,1161L58,1162L60,1165L62,1171L64,1170L66,1169H68L70,1168L72,1169L74,1170H78L80,1171L82,1172L84,1173L86,1176H88L90,1178L92,1176L94,1172L96,1171L98,1173L100,1174L102,1178L104,1175H106L108,1174L110,1175L112,1176L114,1175L116,1173L118,1169L120,1166H124L126,1165L128,1163L130,1164L132,1163L133,1162M135,1160L137,1163H139L141,1167L143,1170M148,1175H150L152,1174L154,1175L156,1174L158,1172L160,1173L162,1172L164,1173L166,1172L168,1169L170,1167L172,1163L174,1161H176L178,1162L180,1160H182L184,1161L186,1160H190L192,1162L194,1163L196,1165L198,1169L200,1174H202L204,1172L206,1170L208,1169L210,1170H212L214,1171L216,1175L218,1173L220,1171L222,1172L224,1169L226,1170L228,1169H238L240,1170H242L244,1171H250L252,1173L254,1172L256,1171H258L260,1170H264L266,1168L268,1167L270,1166H272L274,1167H278L280,1168L282,1170L284,1172L286,1171H288L290,1172L292,1171L294,1172H298L300,1171L302,1170L304,1169H306L308,1168L310,1167L312,1165L314,1166L316,1165L318,1167H320L322,1166L324,1168L326,1169H328L330,1170L332,1171L334,1172H336L338,1174L340,1175L342,1174H344L346,1175L348,1172H350L352,1171L354,1170H358L360,1169L362,1170H366L368,1172L370,1171L372,1169H374L376,1171H378L380,1172L382,1173L384,1174L386,1173H392L394,1174H398L400,1172L402,1171H404L406,1169L408,1168L410,1167L412,1166H414L416,1167L418,1168L420,1170L422,1171L424,1169L426,1170H428L430,1168L432,1167L434,1168H436L438,1169H440L442,1170L444,1172H446L448,1174L450,1173L452,1175L454,1174H460L462,1175H464L466,1173H468L470,1172L472,1173L474,1171L476,1168L478,1167L480,1164L482,1165L484,1166L486,1168L488,1169L490,1171L492,1168L494,1167L496,1165L498,1164L500,1166L502,1165L504,1167L506,1166L508,1165L510,1166L512,1168L514,1169L516,1172L518,1173L520,1176L522,1175L524,1176L526,1175L528,1176L530,1175L532,1176L534,1175L536,1174H540L542,1170L544,1167L546,1165L548,1163L550,1162L552,1159L554,1160H558L560,1161L562,1160H566L568,1159L570,1160H578L580,1158H582L584,1156L586,1157L588,1154L590,1156L592,1155L594,1144L596,1140L598,1141L600,1142L602,1143L604,1145L606,1146L608,1145L610,1143L612,1141L614,1138L616,1137H618L620,1138H622L624,1136L626,1138L628,1140H630L632,1145L634,1147L636,1145L638,1142L640,1140L642,1138L644,1137H646L648,1138H650L652,1141L654,1142L656,1145L658,1144L660,1146L662,1147L664,1145L666,1144L668,1141L670,1139L672,1138L674,1139L676,1140L678,1142L680,1143L682,1144L684,1143H688L690,1141L692,1142H694L696,1141L698,1139H702L704,1138L706,1136L708,1137L710,1136L712,1135L714,1134L716,1135L718,1137L720,1139L722,1141L724,1142H726L728,1140L730,1142L732,1140H734L736,1139L738,1140L740,1142L742,1145H744L746,1142L748,1141L750,1140L752,1141L754,1142H758L760,1141L762,1140L764,1139L766,1141H768L770,1142H772L774,1138H778L780,1137H782L784,1138H786L788,1136H790L792,1137L794,1135H796L798,1137L800,1140H802L804,1138L806,1137L808,1135L810,1134L812,1133L814,1134L816,1137L817,1141" fill="none" stroke="#000"/>
<path d="M20,1225H24L26,1221H28L30,1220L32,1222L34,1224H36L38,1222L40,1219L42,1221L44,1219L46,1220L48,1221L50,1223L52,1224L54,1226L56,1228L58,1233L60,1236L62,1240L64,1229L66,1214L68,1205L70,1207L72,1205L74,1206L76,1204L78,1202L80,1206H82L84,1208L86,1211L88,1210L90,1211H92L94,1210L96,1211L98,1212L100,1211L102,1215L104,1217L106,1218L108,1221L110,1219L112,1217L114,1212L116,1210L118,1209H120L122,1208L124,1207L126,1209L128,1210L130,1211L132,1210H133M135,1205L137,1207L139,1205H141L143,1206M148,1211L150,1210L152,1208L154,1210H156L158,1209L160,1208L162,1206L164,1204H166L168,1207L170,1214L172,1237L174,1239L176,1238H178L180,1239L182,1238H184L186,1239L188,1238L190,1240L192,1243L194,1244L196,1245L198,1248L200,1250L202,1245L204,1235L206,1229L208,1225L210,1220L212,1222L214,1225L216,1226H218L220,1224L222,1225L224,1223L226,1222H228L230,1220H232L234,1218L236,1217L238,1218L240,1221H242L244,1222L246,1224L248,1222L250,1225L252,1224L254,1225H256L258,1223H260L262,1221L264,1222L266,1220L268,1222H270L272,1220L274,1221L276,1223H278L280,1222H288L290,1220H294L296,1221L298,1223H300L302,1222L304,1223H306L308,1224L310,1225H312L314,1223L316,1224L318,1223L320,1221H322L324,1222L326,1220L328,1217L330,1219L332,1220L334,1218L336,1220H338L340,1219L342,1223L344,1221L346,1222L348,1223H352L354,1220L356,1221H358L360,1222H364L366,1223H368L370,1220L372,1219L374,1220L376,1221L378,1223L380,1222L382,1223H386L388,1221L390,1222H394L396,1220H398L400,1221L402,1223L404,1222L406,1223H412L414,1224L416,1221H418L420,1219L422,1218L424,1219L426,1221L428,1223L430,1222L432,1223L434,1224H436L438,1222H440L442,1221H444L446,1220L448,1222L450,1223H454L456,1225H460L462,1226L464,1225H466L468,1224L470,1223H472L474,1220H476L478,1221L480,1222L482,1220L484,1219L486,1220L488,1221L490,1222L492,1224H494L496,1223L498,1225L500,1224H502L504,1226L506,1227L508,1228L510,1227L512,1228L514,1229H516L518,1230L520,1232L522,1231L524,1228H526L528,1229L530,1226L532,1223H534L536,1225H538L540,1226L542,1223L544,1224L546,1225L548,1224L550,1226H552L554,1224H556L558,1227H560L562,1228L564,1230L566,1231L568,1229L570,1228L572,1229L574,1228H576L578,1222H580L582,1224L584,1223L586,1222L588,1223L590,1222H592L594,1224L596,1223L598,1225H600L602,1227L604,1233L606,1239L608,1238L610,1237L612,1234L614,1236L616,1237L618,1240L620,1243L622,1244L624,1246H626L628,1251L630,1252L632,1256L634,1251L636,1245H638L640,1244L642,1245H646L648,1247L650,1249H652L654,1250H656L658,1249L660,1247L662,1246L664,1247L666,1245L668,1244L670,1242L672,1243H676L678,1242L680,1241L682,1240L684,1239L686,1238L688,1241L690,1245L692,1248L694,1249H696L698,1248H700L702,1249L704,1248L706,1246L708,1247L710,1245H712L714,1244H716L718,1245H720L722,1247L724,1249L726,1248L728,1247L730,1245L732,1246L734,1245L736,1247L738,1249L740,1250L742,1253H744L746,1252L748,1251L750,1250H752L754,1249L756,1248L758,1246H762L764,1247L766,1244L768,1246H770L772,1244L774,1245L776,1244L778,1246L780,1245L782,1246L784,1244H788L790,1242L792,1243L794,1244L796,1246L798,1250L800,1249L802,1248L804,1246L806,1244L808,1246L810,1248H812L814,1244L816,1242H817" fill="none" stroke="#000"/>
<path d="M20,1226L22,1225L24,1223L26,1221L28,1220L30,1221L32,1223L34,1224L36,1226L38,1223L40,1222L42,1221H44L46,1218L48,1223H50L52,1226L54,1229H56L58,1231L60,1235L62,1241L64,1229L66,1214L68,1206L70,1207L72,1206L74,1208L76,1207L78,1205L80,1207L82,1209L84,1211L86,1210H88L90,1211H96L98,1212L100,1213L102,1215L104,1216L106,1220L108,1219L110,1218L112,1216L114,1214L116,1211L118,1210L120,1211L122,1210L124,1211H126L128,1210H133M135,1206L137,1207L139,1206H141L143,1204M148,1213L150,1212L152,1211H154L156,1209L158,1208L160,1207L162,1205H166L168,1209L170,1216L172,1239L174,1240H176L178,1241L180,1238L182,1240L184,1241H186L188,1239L190,1241L192,1243L194,1244L196,1247L198,1249L200,1252L202,1247L204,1238L206,1231L208,1226L210,1222L212,1223L214,1224L216,1223L218,1225H222L224,1224L226,1223L228,1221L230,1224L232,1223L234,1222H238L240,1220L242,1221H244L246,1223L248,1224H252L254,1223L256,1224H258L260,1225L262,1223L264,1222H266L268,1223L270,1220L272,1221L274,1223H276L278,1222L280,1223H282L284,1222L286,1223L288,1221H290L292,1222H298L300,1223H302L304,1224L306,1223L308,1224L310,1227L312,1224L314,1223H322L324,1222L326,1221L328,1220H330L332,1219L334,1218L336,1219L338,1221L340,1223L342,1224L344,1223H346L348,1224L350,1222L352,1223L354,1224L356,1223L358,1222L360,1221L362,1222L364,1221L366,1222L368,1221L370,1220L372,1221H374L376,1223L378,1222L380,1223L382,1224H384L386,1223L388,1222H390L392,1223L394,1222L396,1221L398,1222H400L402,1225L404,1224H406L408,1223L410,1222H412L414,1221H416L418,1220H422L424,1221L426,1219L428,1221L430,1223L432,1224L434,1223H436L438,1222L440,1223L442,1221L444,1222H446L448,1225L450,1223L452,1224L454,1225L456,1226L458,1225L460,1224L462,1223L464,1225L466,1224L468,1223H472L474,1222L476,1221L478,1220L480,1221L482,1222L484,1221L486,1222L488,1221L490,1223L492,1224L494,1223L496,1224H500L502,1226H504L506,1227L508,1230L510,1229L512,1231H516L518,1230L520,1234L522,1232L524,1229L526,1228H528L530,1229L532,1226L534,1223L536,1225L538,1224L540,1225L542,1228L544,1227L546,1226H550L552,1227L554,1225L556,1227L558,1229L560,1231L562,1232L564,1231L566,1230H568L570,1228L572,1230L574,1228H576L578,1227L580,1226H582L584,1225L586,1223L588,1222L590,1224L592,1225L594,1224L596,1223L598,1224L600,1225L602,1231L604,1237L606,1241L608,1239L610,1237L612,1236L614,1238L616,1239L618,1241L620,1243L622,1245L624,1246L626,1248L628,1252L630,1254L632,1255L634,1252L636,1247L638,1244L640,1243L642,1247L644,1245L646,1246H648L650,1248H654L656,1249L658,1248H660L662,1247H664L666,1246H668L670,1244L672,1243H674L676,1245L678,1243L680,1242L682,1243L684,1242H686L688,1240L690,1244L692,1248L694,1251L696,1250L698,1249H700L702,1247L704,1248L706,1247H708L710,1246L712,1243L714,1245H716L718,1247H720L722,1246L724,1249L726,1247L728,1246H730L732,1248L734,1245L736,1250L738,1252L740,1253L742,1254L744,1253L746,1252H748L750,1251L752,1249H754L756,1248L758,1247L760,1248L762,1247H766L768,1246L770,1245L772,1244L774,1246L776,1247L778,1248L780,1249L782,1247L784,1244H788L790,1243L792,1244L794,1246L796,1247L798,1250H802L804,1246L806,1247L808,1248L810,1250H812L814,1248L816,1244L817,1243" fill="none" stroke="#c80000"/>
<path d="M20,1227L22,1226L24,1225L26,1224L28,1222L30,1223L32,1224L34,1225L36,1224L38,1223L40,1224L42,1222H44L46,1221L48,1222L50,1223L52,1225L54,1228L56,1230L58,1232L60,1236L62,1244L64,1231L66,1216L68,1207L70,1206L72,1207H74L76,1206H80L82,1209H84L86,1211H88L90,1212H94L96,1211L98,1212L100,1213L102,1214L104,1216L106,1217L108,1220L110,1218L112,1215L114,1214L116,1212L118,1213L120,1211H124L126,1212L128,1211L130,1209L132,1210H133M135,1207H137L139,1205L141,1206L143,1205M148,1210L150,1211H152L154,1210L156,1208L158,1207H160L162,1206L164,1205H166L168,1210L170,1216L172,1239L174,1240H180L182,1241L184,1239L186,1238L188,1240L190,1241L192,1243L194,1244L196,1246L198,1249L200,1252L202,1248L204,1237L206,1231L208,1226L210,1222L212,1224H216L218,1227H222L224,1226L226,1225L228,1223H230L232,1222H234L236,1221H242L244,1222L246,1224L248,1225L250,1223L252,1225H254L256,1224L258,1223H266L268,1221L270,1222H272L274,1223L276,1222H278L280,1224H284L286,1225L288,1224L290,1222H292L294,1223L296,1222H300L302,1221L304,1222L306,1224H308L310,1225H312L314,1224H318L320,1223H324L326,1222L328,1223L330,1222H332L334,1221H336L338,1222H342L344,1224H346L348,1225L350,1223L352,1224L354,1223H356L358,1224L360,1222H362L364,1221H368L370,1222H374L376,1223L378,1222L380,1223H384L386,1224L388,1223H390L392,1222H394L396,1223H398L400,1224H404L406,1226H408L410,1227L412,1224L414,1222L416,1221L418,1220H420L422,1221L424,1220L426,1221L428,1224H434L436,1223L438,1222L440,1223H442L444,1222H446L448,1223H450L452,1225H456L458,1226L460,1225H462L464,1223H466L468,1224L470,1223L472,1222L474,1221L476,1219L478,1220H480L482,1221L484,1222L486,1224L488,1222L490,1225L492,1224H494L496,1225L498,1224L500,1225H502L504,1226L506,1228L508,1230L510,1231L512,1230L514,1231H516L518,1232L520,1231L522,1229L524,1231L526,1230L528,1229L530,1227L532,1224L534,1225L536,1224L538,1223L540,1224L542,1225L544,1227H546L548,1226H552L554,1227H556L558,1228L560,1229L562,1231L564,1230L566,1231L568,1229H570L572,1228L574,1229L576,1227H578L580,1226L582,1227L584,1226L586,1223H588L590,1224L592,1223L594,1224H598L600,1225L602,1230L604,1237L606,1239L608,1240L610,1239L612,1238H614L616,1241L618,1242L620,1243L622,1244L624,1245L626,1250L628,1252L630,1256L632,1257L634,1252L636,1248L638,1246L640,1245H642L644,1244L646,1246H648L650,1248L652,1247L654,1248L656,1249L658,1250H660L662,1247H664L666,1246L668,1245H670L672,1246L674,1245L676,1243L678,1241L680,1243L682,1242H686L688,1243L690,1246L692,1248L694,1251H696L698,1250H706L708,1249L710,1250L712,1248H714L716,1247L718,1248L720,1249L722,1251H724L726,1250H728L730,1248H732L734,1247L736,1250L738,1253L740,1255L742,1257L744,1255L746,1252H750L752,1251L754,1250L756,1251H758L760,1250H762L764,1249H766L768,1248L770,1249L772,1248L774,1249L776,1250L778,1251L780,1250L782,1248H784L786,1247L788,1246H794L796,1249L798,1251L800,1250L802,1249H806L808,1250L810,1251L812,1252L814,1249L816,1245H817" fill="none" stroke="#c80000"/>
<path d="M20,1227L22,1225L24,1223L26,1221L28,1219L30,1220L32,1222L34,1223L36,1225L38,1223L40,1222L42,1220L44,1221L46,1219L48,1221L50,1223L52,1224L54,1226L56,1227L58,1230L60,1236L62,1241L64,1230L66,1215L68,1206H70L72,1205L74,1206H76L78,1205H80L82,1208L84,1209H86L88,1210L90,1212L92,1211H94L96,1210L98,1211L100,1212L102,1214L104,1215L106,1217L108,1218H110L112,1215L114,1213L116,1211L118,1210H120L122,1211H124L126,1210L128,1208L130,1209L132,1210L133,1209M135,1205L137,1204H139L141,1205L143,1206M148,1210L150,1211L152,1210H154L156,1206L158,1207L160,1206L162,1205H164L166,1203L168,1208L170,1215L172,1239L174,1238H176L178,1239H180L182,1238L184,1240H190L192,1242L194,1244H196L198,1247L200,1252L202,1246L204,1235L206,1230L208,1225L210,1220L212,1222H214L216,1224L218,1227L220,1226L222,1225L224,1224L226,1225L228,1223L230,1221L232,1222H234L236,1221L238,1220L240,1221H244L246,1222L248,1223L250,1222L252,1224H258L260,1223H264L266,1222L268,1221L270,1220H272L274,1221L276,1220L278,1221L280,1223L282,1222H292L294,1221L296,1220L298,1221H300L302,1222H304L306,1223H318L320,1222H324L326,1221H328L330,1220L332,1219L334,1220L336,1219L338,1220L340,1221L342,1223H344L346,1224L348,1222L350,1221L352,1222H354L356,1221L358,1222L360,1221H362L364,1222L366,1220L368,1219L370,1220L372,1221H376L378,1222H382L384,1223H390L392,1222L394,1221L396,1220L398,1222H402L404,1223H406L408,1224H410L412,1223L414,1222H416L418,1220L420,1218L422,1219L424,1221H426L428,1222H430L432,1224L434,1223L436,1221L438,1223L440,1222L442,1221H444L446,1222L448,1223L450,1222L452,1223L454,1224H456L458,1225H460L462,1226L464,1223H466L468,1222H470L472,1221H478L480,1219H482L484,1221H486L488,1222H490L492,1225L494,1224L496,1223L498,1224L500,1223L502,1225L504,1224L506,1225L508,1228L510,1229L512,1231L514,1229L516,1230L518,1231L520,1230L522,1228L524,1230L526,1229L528,1228L530,1225L532,1224L534,1223L536,1224H540L542,1227L544,1224L546,1225H550L552,1224L554,1226H556L558,1228L560,1229L562,1231L564,1230H566L568,1228H570L572,1227H574L576,1226H578L580,1225H582L584,1224L586,1223H588L590,1222H594L596,1223H598L600,1224L602,1230L604,1235L606,1240L608,1239L610,1237L612,1236H614L616,1239L618,1240L620,1242L622,1243L624,1244L626,1249L628,1251L630,1254L632,1256L634,1251L636,1245L638,1243L640,1244H644L646,1246L648,1245L650,1246L652,1247L654,1248H656L658,1249L660,1248L662,1247L664,1246L666,1245L668,1244L670,1245L672,1243H676L678,1242L680,1241L682,1242L684,1241H686L688,1242L690,1244L692,1247L694,1249H696L698,1248L700,1246L702,1248H704L706,1247L708,1245L710,1246L712,1245L714,1244L716,1245L718,1246H720L722,1245L724,1247L726,1248L728,1247H730L732,1248L734,1246L736,1248L738,1249L740,1253L742,1254H744L746,1252L748,1249H750L752,1248H756L758,1247H762L764,1246H766L768,1247L770,1246H772L774,1247L776,1246L778,1248L780,1247L782,1246H784L786,1245L788,1244L790,1243H792L794,1242L796,1247L798,1249H800L802,1248L804,1246L806,1247H812L814,1246L816,1243H817" fill="none" stroke="#000"/>
<path d="M20,1429L22,1425L24,1421H26L28,1417L30,1416L32,1417L34,1421L36,1422H40L42,1423L44,1422L46,1421L48,1423L50,1421H52L54,1420L56,1421H58L60,1425L62,1429L64,1419L66,1411L68,1406L70,1408L72,1411L74,1417L76,1420H78L80,1422L82,1423L84,1425L86,1428L88,1427H90L92,1424L94,1423L96,1424L98,1422L100,1424H104L106,1425L108,1426L110,1424L112,1423L114,1420L116,1417L118,1415L120,1414L122,1411L124,1408H126L128,1407L130,1406L132,1403L133,1402M135,1399L137,1396L139,1398L141,1400L143,1406M148,1415L150,1417L152,1416L154,1415L156,1414L158,1413L160,1409L162,1408L164,1406L166,1407L168,1408L170,1410H174L176,1411H178L180,1408H182L184,1407L186,1409L188,1408L190,1409L192,1410H194L196,1413L198,1415L200,1419L202,1421H204L206,1418L208,1417L210,1414H212L214,1413H218L220,1414L222,1415H224L226,1413H228L230,1411H232L234,1413L236,1414L238,1413H240L242,1415L244,1416L246,1415H248L250,1416L252,1417H254L256,1415L258,1414L260,1413H262L264,1409L266,1408L268,1405L270,1402H272L274,1404L276,1407L278,1410L280,1409L282,1410L284,1408L286,1406L288,1408L290,1409H292L294,1408L296,1407L298,1405L300,1406L302,1404L304,1401L306,1399L308,1398L310,1400L312,1401L314,1403L316,1408L318,1409L320,1410H324L326,1408L328,1410L330,1407H332L334,1410L336,1412L338,1414L340,1416L342,1415L344,1416L346,1413L348,1410L350,1408L352,1407L354,1406L356,1405L358,1404L360,1405L362,1406L364,1405H366L368,1404L370,1405H372L374,1403L376,1405L378,1404L380,1408L382,1410H384L386,1413L388,1411H392L394,1412L396,1411L398,1412H400L402,1415L404,1417L406,1415L408,1411L410,1404L412,1402L414,1401L416,1403L418,1406L420,1407H422L424,1409L426,1408L428,1409H430L432,1408L434,1407L436,1405L438,1406L440,1410L442,1411L444,1412L446,1414L448,1416L450,1418L452,1417L454,1420L456,1419L458,1420L460,1419L462,1417L464,1416L466,1417H468L470,1415H472L474,1404L476,1401L478,1399L480,1400L482,1398L484,1395L486,1397L488,1401L490,1403L492,1400L494,1395L496,1391L498,1394L500,1395L502,1399H504L506,1398H508L510,1396L512,1398L514,1396L516,1404L518,1414L520,1413L522,1411L524,1412L526,1413L528,1415H532L534,1414H538L540,1412H542L544,1411L546,1412L548,1410L550,1414L552,1415L554,1417L556,1414L558,1415L560,1414L562,1415L564,1414L566,1416L568,1415L570,1416L572,1419L574,1422L576,1420L578,1418L580,1416L582,1415L584,1416L586,1412H590L592,1408L594,1397L596,1393L598,1391L600,1394L602,1395L604,1396L606,1398L608,1396L610,1394L612,1393H616L618,1395L620,1392H624L626,1393H628L630,1395L632,1396H634L636,1395L638,1393L640,1391H642L644,1392H646L648,1393H650L652,1394L654,1393H656L658,1396L660,1397L662,1398L664,1395L666,1394L668,1392H674L676,1393L678,1392H680L682,1389L684,1390L686,1391L688,1392L690,1393L692,1394H694L696,1397L698,1395L700,1393H702L704,1392L706,1391L708,1392L710,1390H712L714,1388L716,1391L718,1392L720,1393L722,1394L724,1397L726,1393L728,1395L730,1394L732,1392H734L736,1394L738,1392L740,1396L742,1399L744,1400L746,1398L748,1396L750,1397H756L758,1396H760L762,1393L764,1391L766,1392L768,1395H774L776,1394L778,1390L780,1391L782,1393H784L786,1390L788,1391H790L792,1388L794,1389L796,1391H798L800,1393L802,1394L804,1393H806L808,1391L810,1392H812L814,1391H816L817,1396" fill="none" stroke="#000"/>
<path d="M20,1429L22,1425L24,1422L26,1420L28,1419L30,1417L32,1421L34,1423L36,1422L38,1425H40L42,1427L44,1425L46,1424L48,1423H50L52,1422L54,1421L56,1423H58L60,1426L62,1434L64,1422L66,1412L68,1408H70L72,1410L74,1416L76,1419L78,1422H82L84,1425L86,1429L88,1426H92L94,1427L96,1425L98,1427L100,1426L102,1425H110L112,1423L114,1421L116,1417L118,1416L120,1414L122,1412L124,1410L126,1409L128,1406L130,1405L132,1403L133,1404M135,1400L137,1397H139L141,1401L143,1407M148,1415L150,1416L152,1413H156L158,1411L160,1409H162L164,1408H170L172,1409H176L178,1411L180,1410L182,1411H184L186,1412L188,1410L190,1411H192L194,1412L196,1415L198,1419L200,1423L202,1422L204,1417L206,1415H208L210,1416H214L216,1415H220L222,1413H228L230,1411L232,1412L234,1414L236,1415H238L240,1414L242,1416L244,1417L246,1416L248,1415L250,1416L252,1418L254,1420L256,1419L258,1418L260,1417L262,1412L264,1411L266,1406L268,1404L270,1403H272L274,1406L276,1409L278,1408H280L282,1410H284L286,1412H288L290,1409L292,1410L294,1408L296,1407L298,1409L300,1404L302,1401L304,1400L306,1401L308,1400L310,1401L312,1402L314,1403L316,1408L318,1412L320,1410L322,1411H330L332,1413L334,1412L336,1414H338L340,1417L342,1419L344,1416L346,1414L348,1411L350,1408L352,1406H358L360,1405L362,1406H366L368,1408L370,1406H372L374,1405L376,1406H378L380,1407L382,1410L384,1411H386L388,1412H390L392,1413L394,1412H396L398,1413H400L402,1414L404,1415L406,1418L408,1412L410,1406H414L416,1404L418,1405L420,1407L422,1408L424,1409L426,1411L428,1409L430,1408H436L438,1410L440,1411L442,1412H444L446,1415H448L450,1418L452,1419L454,1420L456,1419L458,1420L460,1421H462L464,1420L466,1418H468L470,1416L472,1417L474,1406L476,1402L478,1401L480,1400L482,1398L484,1395L486,1398L488,1402L490,1404L492,1401L494,1398L496,1395L498,1398L500,1399L502,1400L504,1399H508L510,1398L512,1399L514,1398L516,1405L518,1414H522L524,1415L526,1414L528,1415H532L534,1414L536,1415H538L540,1414L542,1412L544,1414H546L548,1413L550,1415L552,1418L554,1419L556,1417L558,1415H560L562,1417L564,1418L566,1417L568,1419L570,1421L572,1419L574,1422L576,1419H578L580,1417L582,1416L584,1415H586L588,1413L590,1412L592,1409L594,1396L596,1392L598,1391L600,1393L602,1394L604,1397L606,1398L608,1397L610,1395L612,1392H616L618,1395L620,1394L622,1393H624L626,1394L628,1395H630L632,1396L634,1395H636L638,1394L640,1392H648L650,1393L652,1396L654,1395H656L658,1397L660,1398L662,1397L664,1396L666,1394H668L670,1393L672,1392L674,1391H676L678,1394H680L682,1393H686L688,1395L690,1393L692,1395H700L702,1392L704,1391L706,1390L708,1391L710,1390L712,1389H714L716,1391H718L720,1395L722,1396H726L728,1394H730L732,1395L734,1393L736,1394H738L740,1397H742L744,1398H746L748,1395L750,1397L752,1398L754,1397H758L760,1395L762,1393H764L766,1394L768,1395H772L774,1394L776,1391L778,1392L780,1393H782L784,1392H786L788,1391L790,1390L792,1391H794L796,1390H798L800,1392H802L804,1395L806,1393L808,1391L810,1390H812L814,1389L816,1394L817,1398" fill="none" stroke="#ccdd00"/>
<path d="M20,1426L22,1425L24,1423L26,1419L28,1416H30L32,1417H34L36,1419H38L40,1418H42L44,1419L46,1418L48,1419L50,1417L52,1418H54L56,1419L58,1420L60,1425L62,1428L64,1421L66,1412L68,1410L70,1411H72L74,1414L76,1415L78,1417L80,1415L82,1418L84,1419L86,1421H90L92,1420H94L96,1421L98,1422L100,1419H102L104,1417L106,1418L108,1417L110,1419L112,1418H114L116,1415H118L120,1414L122,1413H124L126,1410L128,1409H130L132,1407L133,1408M135,1404H137L139,1406L141,1409L143,1411M148,1418H150L152,1417L154,1416L156,1415L158,1414L160,1411L162,1410H164L166,1409L168,1410H174L176,1409H178L180,1408L182,1409H184L186,1408L188,1409L190,1408L192,1409L194,1412L196,1416L198,1422L200,1425H202L204,1420L206,1414L208,1415H212L214,1416L216,1414H218L220,1415L222,1416H224L226,1415H228L230,1416H232L234,1418L236,1417L238,1418L240,1417L242,1418H248L250,1419L252,1421L254,1420L256,1421L258,1422L260,1421L262,1419L264,1416L266,1412L268,1410L270,1409L272,1407L274,1409L276,1411H278L280,1410L282,1411L284,1412L286,1413L288,1412L290,1413L292,1415H296L298,1414L300,1412L302,1410L304,1407L306,1405H310L312,1406H314L316,1409L318,1410L320,1411H322L324,1412L326,1413H330L332,1414L334,1416H336L338,1418H340L342,1421L344,1420L346,1418L348,1415L350,1413L352,1412L354,1414H368L370,1413L372,1414H376L378,1413L380,1412L382,1414L384,1413L386,1414H390L392,1412H394L396,1411L398,1410H402L404,1411L406,1409H408L410,1404L412,1405L414,1406H416L418,1408L420,1409L422,1410L424,1409L426,1412L428,1414H430L432,1412H436L438,1413L440,1415L442,1416L444,1417L446,1418H448L450,1419H456L458,1418L460,1417H466L468,1418L470,1419H472L474,1417L476,1411L478,1407L480,1405L482,1407L484,1409L486,1410L488,1412L490,1409L492,1406L494,1402L496,1403H498L500,1405L502,1406L504,1405H508L510,1403L512,1402H514L516,1407L518,1414L520,1418L522,1419L524,1418H526L528,1420L530,1419H532L534,1418H536L538,1417L540,1416L542,1417L544,1416L546,1415H548L550,1416L552,1417H556L558,1415L560,1413L562,1416H564L566,1415L568,1414H570L572,1415L574,1416L576,1414L578,1413H580L582,1412L584,1414L586,1412L588,1413H590L592,1412L594,1393L596,1389H598L600,1390L602,1394L604,1395L606,1398L608,1396L610,1391L612,1390L614,1392H616L618,1393L620,1392L622,1391H624L626,1392L628,1391L630,1394H632L634,1395L636,1393L638,1392H642L644,1390L646,1388L648,1390L650,1392H652L654,1393L656,1395H658L660,1397H662L664,1396L666,1394L668,1393L670,1391L672,1389L674,1388H676L678,1389H680L682,1391L684,1392H688L690,1393L692,1392H694L696,1393L698,1394L700,1393L702,1392L704,1391H706L708,1389L710,1390L712,1388H714L716,1389L718,1390L720,1393L722,1394H724L726,1393H728L730,1392H734L736,1390L738,1391L740,1395L742,1399L744,1400L746,1397L748,1394H750L752,1395L754,1394L756,1395L758,1394H760L762,1392L764,1390L766,1392L768,1395H770L772,1394L774,1392L776,1391L778,1390L780,1391L782,1392L784,1390H786L788,1388L790,1389H794L796,1390L798,1392L800,1394L802,1396H804L806,1391L808,1388L810,1387H814L816,1392L817,1398" fill="none" stroke="#ccdd00"/>
<path d="M20,1428L22,1425L24,1422L26,1419L28,1417L30,1415L32,1419L34,1420L36,1422L38,1423H44L46,1421L48,1422L50,1421H52L54,1420L56,1422H58L60,1426L62,1431L64,1421L66,1410L68,1407H70L72,1409L74,1416L76,1419L78,1421L80,1420L82,1422L84,1425L86,1428L88,1426H90L92,1425H94L96,1423L98,1424H100L102,1423L104,1424H108L110,1425L112,1423L114,1420L116,1417L118,1415L120,1413L122,1412L124,1410L126,1408L128,1405H130L132,1402L133,1401M135,1398L137,1395L139,1396L141,1401L143,1407M148,1414H152L154,1413L156,1412L158,1411L160,1410L162,1408L164,1406L166,1408L168,1409L170,1410L172,1408L174,1409L176,1410H178L180,1409H186L188,1408L190,1409H192L194,1411L196,1413L198,1416L200,1421H202L204,1418L206,1415L208,1414L210,1415L212,1414L214,1413H216L218,1414L220,1413L222,1412H228L230,1411L232,1412H234L236,1413L238,1412L240,1413L242,1415H244L246,1417H248L250,1416L252,1417H254L256,1416L258,1415L260,1414L262,1413L264,1410L266,1407L268,1405L270,1403H272L274,1406L276,1407L278,1409L280,1410L282,1409H286L288,1410L290,1408H294L296,1407H298L300,1404L302,1402L304,1400L306,1401H312L314,1402L316,1406L318,1410H322L324,1411L326,1410H328L330,1409L332,1410L334,1411L336,1413L338,1415L340,1416L342,1417L344,1416L346,1412L348,1409L350,1407L352,1406L354,1405H356L358,1404L360,1405L362,1406H366L368,1407L370,1405H374L376,1407L378,1406L380,1407L382,1411H384L386,1413L388,1412H392L394,1413L396,1411H398L400,1413L402,1414L404,1415H406L408,1411L410,1404L412,1403H414L416,1402L418,1404L420,1405L422,1406L424,1407L426,1409H428L430,1408L432,1406H434L436,1407L438,1408L440,1410H442L444,1413L446,1414L448,1415L450,1418H452L454,1420H458L460,1418L462,1419L464,1417H466L468,1418L470,1416H472L474,1405L476,1401L478,1400L480,1399L482,1397L484,1396H486L488,1401L490,1404L492,1400L494,1395L496,1393L498,1395L500,1397L502,1398H508L510,1397L512,1398H514L516,1404L518,1413H524L526,1414H528L530,1415H534L536,1414L538,1415L540,1412L542,1413H546L548,1412L550,1415L552,1416L554,1418L556,1417L558,1415L560,1414L562,1415H564L566,1416H568L570,1417L572,1418L574,1419L576,1417H580L582,1416L584,1415L586,1414L588,1413L590,1412L592,1409L594,1397L596,1391L598,1390L600,1391L602,1395H604L606,1398L608,1395L610,1394L612,1393L614,1392L616,1393L618,1392H622L624,1391L626,1393H630L632,1396H634L636,1395L638,1392H640L642,1391L644,1390L646,1389L648,1391L650,1393L652,1392L654,1395L656,1396H658L660,1397L662,1398L664,1396L666,1395L668,1393L670,1392H672L674,1391H676L678,1392L680,1393L682,1392H686L688,1393L690,1394H694L696,1393L698,1394L700,1393H704L706,1392L708,1390H712L714,1389L716,1392H718L720,1393L722,1394H730L732,1392L734,1393H736L738,1394L740,1395L742,1398H746L748,1394L750,1396H754L756,1395L758,1396L760,1395H762L764,1392L766,1393L768,1394L770,1395L772,1394L774,1393L776,1394L778,1393L780,1392L782,1391L784,1392L786,1390L788,1391H790L792,1389L794,1390L796,1391L798,1392L800,1393L802,1394L804,1393L806,1392L808,1390H810L812,1389H814L816,1392L817,1398" fill="none" stroke="#000"/>
<path d="M20,1505L22,1501L24,1500L26,1501H30L32,1500L34,1503H36L38,1504L40,1502L42,1503H44L46,1501L48,1500L50,1504L52,1505L54,1508L56,1511L58,1514L60,1516L62,1514L64,1507L66,1480L68,1476L70,1474L72,1472L74,1473L76,1471L78,1472L80,1473H86L88,1472H90L92,1473L94,1475H96L98,1477L100,1476H102L104,1478L106,1480H108L110,1476H116L118,1475H120L122,1474L124,1473H128L130,1474L132,1472L133,1473M135,1469L137,1470H139L141,1471L143,1472M148,1475L150,1476L152,1475L154,1474L156,1477L158,1474H160L162,1472L164,1470L166,1472L168,1476L170,1489L172,1498L174,1500L176,1501L178,1500H180L182,1499L184,1501L186,1503L188,1501L190,1503L192,1501L194,1504L196,1506H198L200,1511L202,1515L204,1507L206,1495L208,1483L210,1479L212,1482L214,1480L216,1481L218,1480L220,1478L222,1477L224,1478L226,1476H230L232,1474L234,1475H238L240,1476L242,1475H246L248,1474L250,1475H252L254,1474L256,1473H258L260,1471L262,1472L264,1473H266L268,1474L270,1473L272,1474H274L276,1471H284L286,1470H290L292,1471L294,1472L296,1471L298,1470H300L302,1472L304,1471L306,1470L308,1472L310,1471L312,1472L314,1471L316,1473L318,1470L320,1469L322,1468H324L326,1466L328,1467L330,1468L332,1469L334,1467H336L338,1468L340,1469L342,1470L344,1469L346,1468L348,1469L350,1468L352,1470L354,1471H356L358,1468L360,1469L362,1468H366L368,1472L370,1471L372,1470L374,1467L376,1469H380L382,1470H384L386,1472L388,1470L390,1469L392,1470H394L396,1469L398,1468H400L402,1470L404,1471L406,1469L408,1468L410,1467L412,1469L414,1468L416,1470L418,1467H422L424,1468H428L430,1467L432,1468L434,1466L436,1468L438,1467L440,1469L442,1468L444,1469H446L448,1468L450,1469H452L454,1470H456L458,1468L460,1467H462L464,1469H468L470,1466L472,1465L474,1466L476,1467L478,1465L480,1466L482,1464L484,1462L486,1468L488,1478L490,1486L492,1490H496L498,1491H500L502,1490L504,1492L506,1489L508,1492H512L514,1495L516,1498L518,1499L520,1498L522,1495L524,1493L526,1495L528,1492L530,1490L532,1489L534,1488L536,1492L538,1489L540,1491H542L544,1492L546,1491L548,1492L550,1493L552,1489H554L556,1490L558,1489L560,1490H564L566,1488L568,1489L570,1488H572L574,1487L576,1484L578,1483L580,1482L582,1480L584,1479L586,1477L588,1475H590L592,1480L594,1486H596L598,1485L600,1484L602,1485L604,1484L606,1486L608,1483L610,1482H612L614,1483L616,1484L618,1483L620,1484L622,1483L624,1484L626,1486L628,1488L630,1491L632,1495L634,1497L636,1493L638,1491L640,1489L642,1490L644,1489L646,1490H648L650,1489L652,1490H654L656,1489H660L662,1487L664,1488H666L668,1486H672L674,1485H676L678,1486H680L682,1485L684,1486H686L688,1485H690L692,1484L694,1483L696,1484L698,1487L700,1488L702,1489L704,1488L706,1489H708L710,1486H714L716,1487L718,1485L720,1487L722,1488L724,1489H726L728,1487L730,1488H732L734,1486H736L738,1489L740,1493L742,1496L744,1492L746,1489L748,1491L750,1488L752,1489L754,1487L756,1489H760L762,1488L764,1491L766,1490L768,1491H770L772,1492L774,1493H776L778,1494L780,1493L782,1494L784,1490H786L788,1489H792L794,1488L796,1485H798L800,1484L802,1482H804L806,1481H808L810,1480L812,1479L814,1481H817" fill="none" stroke="#000"/>
<path d="M20,1505L22,1502H24L26,1503L28,1501L30,1502L32,1503H34L36,1506L38,1505L40,1504L42,1501H44L46,1500L48,1503H50L52,1506H54L56,1509L58,1512L60,1515L62,1516L64,1508L66,1480L68,1477H70L72,1475L74,1473L76,1474L78,1473H86L88,1475H90L92,1474L94,1476L96,1475L98,1477H100L102,1480L104,1479L106,1480H110L112,1478L114,1477L116,1476H118L120,1477L122,1474L124,1473L126,1472L128,1473H133M135,1473L137,1472L139,1470L141,1472H143M148,1474L150,1476H154L156,1475L158,1474L160,1475L162,1476L164,1475L166,1474L168,1476L170,1490L172,1499H174L176,1502H178L180,1503H186L188,1504L190,1502L192,1505H194L196,1507L198,1508L200,1511L202,1516L204,1509L206,1496L208,1485L210,1482L212,1480L214,1481H216L218,1479H220L222,1478L224,1477L226,1476L228,1477L230,1478L232,1477H234L236,1476H238L240,1474H242L244,1475L246,1476L248,1474L250,1476L252,1475L254,1476L256,1474H258L260,1475L262,1474L264,1475H266L268,1474H270L272,1475L274,1472L276,1471L278,1472H280L282,1470H284L286,1472H292L294,1473H302L304,1472L306,1471L308,1472L310,1471H314L316,1472L318,1471H320L322,1469H326L328,1470L330,1468L332,1469L334,1470L336,1471H338L340,1470H346L348,1469H350L352,1470H356L358,1469H360L362,1471L364,1470L366,1471H372L374,1469L376,1470H378L380,1471H386L388,1472L390,1470H394L396,1472H400L402,1470H404L406,1471L408,1469L410,1468L412,1469L414,1470L416,1471L418,1469L420,1470L422,1468L424,1469L426,1467L428,1469H432L434,1470L436,1468L438,1467L440,1470L442,1469L444,1470H448L450,1469L452,1471L454,1469L456,1468L458,1467L460,1469L462,1468L464,1467H466L468,1469L470,1468L472,1465L474,1468H480L482,1467L484,1464L486,1469L488,1478L490,1487L492,1489H496L498,1490L500,1492L502,1490L504,1493L506,1492H508L510,1493L512,1492L514,1493L516,1496H518L520,1499L522,1497L524,1496L526,1495L528,1493L530,1491L532,1490H534L536,1491L538,1493L540,1494H542L544,1493L546,1491H550L552,1490L554,1489L556,1491L558,1490L560,1491L562,1490L564,1489L566,1488L568,1489H572L574,1487L576,1486L578,1484L580,1483L582,1482L584,1479L586,1475L588,1479L590,1478L592,1482L594,1486L596,1484H598L600,1485L602,1487H604L606,1485L608,1487L610,1485H612L614,1486L616,1485L618,1486H620L622,1484L624,1486L626,1487L628,1491L630,1494L632,1498H634L636,1493L638,1491L640,1492H642L644,1491L646,1492H648L650,1493L652,1490H654L656,1491L658,1489L660,1491L662,1488H664L666,1486L668,1485L670,1486H672L674,1487L676,1489H678L680,1490H682L684,1489L686,1487L688,1483L690,1485L692,1486L694,1488L696,1489L698,1488L700,1489H702L704,1490L706,1489L708,1488L710,1490L712,1486L714,1487H716L718,1488H720L722,1490L724,1491L726,1490H728L730,1489L732,1487H736L738,1492L740,1495L742,1498L744,1492L746,1490H748L750,1489H752L754,1491H760L762,1492L764,1491H766L768,1492L770,1493L772,1492L774,1494L776,1492L778,1494L780,1495L782,1493L784,1491L786,1490L788,1489L790,1488L792,1486H794L796,1485H798L800,1484H804L806,1482H808L810,1483L812,1482H814L816,1481L817,1483" fill="none" stroke="#ccdd00"/>
<path d="M20,1504L22,1503L24,1500H26L28,1498L30,1499L32,1500L34,1501L36,1502H38L40,1503L42,1501L44,1502L46,1503L48,1502H52L54,1504L56,1507L58,1511L60,1514L62,1517L64,1511L66,1478L68,1475L70,1473L72,1476H74L76,1475H78L80,1474L82,1475H92L94,1474L96,1473H102L104,1474H108L110,1473H112L114,1474L116,1473L118,1474L120,1473L122,1474H126L128,1472H130L132,1474L133,1472M135,1472H137L139,1473H141L143,1474M148,1476H152L154,1474L156,1475L158,1476L160,1474L162,1473L164,1472L166,1471L168,1482L170,1495L172,1501L174,1502L176,1501L178,1500H180L182,1501L184,1500L186,1503H188L190,1502L192,1504L194,1506L196,1508L198,1511L200,1514L202,1516L204,1507L206,1496L208,1483L210,1480L212,1481L214,1483L216,1482H218L220,1481L222,1483L224,1481L226,1480H228L230,1481L232,1480H234L236,1479L238,1480L240,1478L242,1480H244L246,1478L248,1479L250,1478H254L256,1477H258L260,1475L262,1477H264L266,1476L268,1475L270,1477L272,1476L274,1477L276,1475L278,1476H282L284,1477L286,1476H292L294,1478L296,1477L298,1476H302L304,1477H308L310,1480L312,1478H314L316,1479H318L320,1478L322,1477L324,1478H328L330,1477L332,1476H334L336,1478L338,1476L340,1474L342,1476L344,1475L346,1474H354L356,1475L358,1474L360,1473H362L364,1475L366,1473L368,1474L370,1475H372L374,1473L376,1474H378L380,1475L382,1474L384,1473L386,1475L388,1474H392L394,1473L396,1474H402L404,1476L406,1475L408,1476L410,1475H412L414,1474H418L420,1475H426L428,1476L430,1475L432,1476H436L438,1477L440,1476H442L444,1475H448L450,1473L452,1474L454,1472L456,1473H460L462,1471H466L468,1470H470L472,1469L474,1468H476L478,1469L480,1467H482L484,1466L486,1471L488,1479L490,1487L492,1490L494,1491L496,1490L498,1491L500,1490L502,1491H506L508,1490L510,1491H512L514,1492L516,1493L518,1492L520,1493H524L526,1492L528,1493H530L532,1492L534,1491L536,1492H540L542,1493L544,1492H546L548,1491L550,1490H552L554,1489H556L558,1488L560,1489L562,1490L564,1489L566,1487H568L570,1486L572,1487L574,1486H578L580,1483L582,1480L584,1477H586L588,1478L590,1481L592,1483L594,1487L596,1488L598,1486L600,1489L602,1487L604,1490L606,1493L608,1490L610,1486H614L616,1488L618,1489H620L622,1490H624L626,1491L628,1492L630,1496L632,1497L634,1498L636,1495L638,1494L640,1493L642,1492L644,1493L646,1492H652L654,1491L656,1492L658,1490L660,1492L662,1491H664L666,1490L668,1491L670,1490L672,1491L674,1490L676,1491L678,1492L680,1489L682,1490H686L688,1489L690,1490H692L694,1491H696L698,1489H700L702,1490L704,1492L706,1491L708,1492L710,1491H712L714,1492H718L720,1493L722,1494L724,1493L726,1491L728,1490L730,1488L732,1487L734,1484L736,1482L738,1485L740,1487L742,1489L744,1488L746,1486L748,1489L750,1490H754L756,1489L758,1491H760L762,1492L764,1491H766L768,1492L770,1493H772L774,1494H776L778,1495L780,1494L782,1493H784L786,1494H788L790,1493H800L802,1492H804L806,1493H810L812,1494L814,1492L816,1493L817,1492" fill="none" stroke="#ccdd00"/>
<path d="M20,1503L22,1502L24,1501H26L28,1500L30,1501L32,1503L34,1504L36,1506L38,1505L40,1504L42,1502L44,1501H46L48,1503H50L52,1504L54,1505L56,1508L58,1512L60,1515H62L64,1508L66,1478L68,1475H70L72,1474H74L76,1473L78,1472L80,1473L82,1474H84L86,1473L88,1474H90L92,1475L94,1476H100L102,1477L104,1478H106L108,1481L110,1478L112,1477H114L116,1475H118L120,1474H124L126,1473L128,1472L130,1473H133M135,1472L137,1471H139L141,1472H143M148,1475H152L154,1472L156,1473H158L160,1474L162,1473H166L168,1477L170,1490L172,1498L174,1500L176,1501H182L184,1502H188L190,1503H192L194,1504L196,1506L198,1507L200,1511L202,1514L204,1506L206,1494L208,1482L210,1478L212,1477L214,1479L216,1480L218,1479L220,1478L222,1477H224L226,1476H230L232,1475L234,1476L236,1474H242L244,1475H246L248,1474H250L252,1475L254,1474H260L262,1473L264,1475L266,1472H270L272,1471H276L278,1472H280L282,1473L284,1471H290L292,1470L294,1471H296L298,1472L300,1471L302,1470H306L308,1471L310,1470L312,1469H318L320,1470L322,1468H324L326,1470H328L330,1469H334L336,1468L338,1470H340L342,1469H346L348,1468L350,1469L352,1470L354,1469H356L358,1468L360,1470L362,1469L364,1470L366,1469L368,1468L370,1469H372L374,1470L376,1469L378,1470L380,1469L382,1470H384L386,1469L388,1468L390,1469L392,1470H400L402,1469H410L412,1468H418L420,1467L422,1466L424,1468H430L432,1467L434,1469L436,1468L438,1469H454L456,1468L458,1467H460L462,1468H464L466,1466H470L472,1467L474,1465L476,1466L478,1465L480,1464L482,1465L484,1464L486,1470L488,1476L490,1486L492,1489L494,1490L496,1489L498,1491H502L504,1490H506L508,1492H510L512,1493L514,1495L516,1496H518L520,1498L522,1496L524,1495L526,1494L528,1492L530,1491L532,1489L534,1490H538L540,1493L542,1492L544,1491L546,1490H550L552,1489H556L558,1488L560,1490L562,1491H564L566,1489H568L570,1487H572L574,1486L576,1483L578,1484L580,1482L582,1479L584,1477L586,1476L588,1477L590,1476L592,1480L594,1485H596L598,1486L600,1485L602,1487L604,1485H606L608,1484H610L612,1483L614,1485H616L618,1484L620,1485L622,1483L624,1485L626,1487L628,1488L630,1493L632,1498H634L636,1493L638,1489L640,1490H646L648,1489H650L652,1490L654,1491L656,1489L658,1490H660L662,1488L664,1487L666,1486L668,1487L670,1486L672,1485H674L676,1487L678,1489H682L684,1488L686,1487H688L690,1483L692,1485L694,1487L696,1486H698L700,1488H702L704,1489L706,1488L708,1487L710,1486L712,1487H714L716,1486H718L720,1488H722L724,1490H726L728,1489L730,1488L732,1487H734L736,1488L738,1490L740,1496L742,1497L744,1493L746,1489L748,1490H752L754,1488H756L758,1490L760,1491L762,1490H764L766,1492H768L770,1493H782L784,1492L786,1491L788,1489L790,1488L792,1486L794,1485H796L798,1484H800L802,1483H804L806,1482H814L816,1480L817,1481" fill="none" stroke="#000"/></g>
<rect x="20" y="478" width="798" height="1" fill="#000"/>
<rect x="20" y="484" width="798" height="1" fill="#000"/>
<rect x="20" y="499" width="798" height="1" fill="#000"/>
<rect x="18" y="555" width="800" height="1" fill="#000"/>
<rect x="18" y="562" width="800" height="1" fill="#000"/>
<rect x="18" y="577" width="800" height="1" fill="#000"/>
<rect x="133" y="455" width="2" height="145" fill="#fff"/>
<rect x="144" y="455" width="4" height="60" fill="#fff"/>
<rect x="145" y="515" width="2" height="85" fill="#fff"/>
<rect x="20" y="630" width="798" height="1" fill="#a06464"/>
<rect x="20" y="637" width="798" height="1" fill="#a06464"/>
<rect x="20" y="708" width="798" height="1" fill="#a06464"/>
<rect x="20" y="715" width="798" height="1" fill="#a06464"/>
<rect x="133" y="605" width="2" height="140" fill="#fff"/>
<rect x="144" y="605" width="4" height="140" fill="#fff"/>
<rect x="20" y="888" width="798" height="1" fill="#a06464"/>
<rect x="20" y="895" width="798" height="1" fill="#a06464"/>
<rect x="20" y="965" width="798" height="1" fill="#a06464"/>
<rect x="20" y="972" width="798" height="1" fill="#a06464"/>
<rect x="133" y="865" width="2" height="140" fill="#fff"/>
<rect x="144" y="865" width="4" height="140" fill="#fff"/>
<rect x="20" y="1145" width="798" height="1" fill="#a06464"/>
<rect x="20" y="1152" width="798" height="1" fill="#a06464"/>
<rect x="20" y="1222" width="798" height="1" fill="#a06464"/>
<rect x="20" y="1229" width="798" height="1" fill="#a06464"/>
<rect x="133" y="1125" width="2" height="140" fill="#fff"/>
<rect x="144" y="1125" width="4" height="140" fill="#fff"/>
<rect x="20" y="1403" width="798" height="1" fill="#a06464"/>
<rect x="20" y="1410" width="798" height="1" fill="#a06464"/>
<rect x="20" y="1480" width="798" height="1" fill="#a06464"/>
<rect x="20" y="1487" width="798" height="1" fill="#a06464"/>
<rect x="133" y="1380" width="2" height="145" fill="#fff"/>
<rect x="144" y="1380" width="4" height="145" fill="#fff"/>
</svg></body></html>
